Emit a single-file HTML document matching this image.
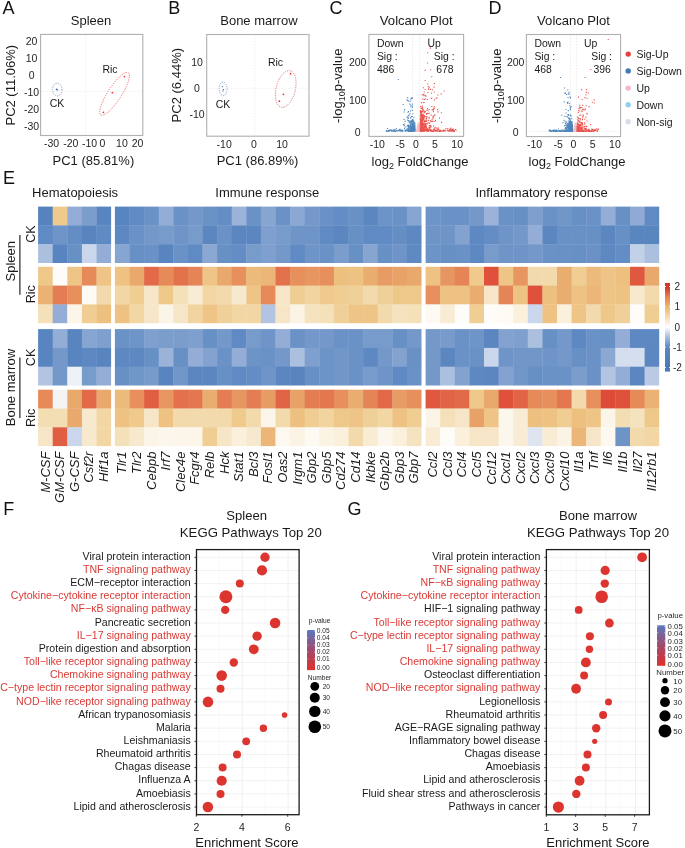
<!DOCTYPE html>
<html><head><meta charset="utf-8"><style>
html,body{margin:0;padding:0;background:#fff;width:685px;height:848px;overflow:hidden;}
svg{display:block;will-change:transform;}
text{font-family:"Liberation Sans", sans-serif;}
</style></head><body>
<svg width="685" height="848" viewBox="0 0 685 848">
<rect width="685" height="848" fill="#fff"/>
<text x="2.40" y="14.30" font-size="18" text-anchor="start" fill="#111" >A</text>
<text x="168.30" y="14.30" font-size="18" text-anchor="start" fill="#111" >B</text>
<text x="329.60" y="14.30" font-size="18" text-anchor="start" fill="#111" >C</text>
<text x="488.60" y="14.30" font-size="18" text-anchor="start" fill="#111" >D</text>
<text x="3.00" y="184.00" font-size="18" text-anchor="start" fill="#111" >E</text>
<text x="3.30" y="514.60" font-size="18" text-anchor="start" fill="#111" >F</text>
<text x="347.60" y="515.40" font-size="18" text-anchor="start" fill="#111" >G</text>
<text x="91.00" y="25.40" font-size="13" text-anchor="middle" fill="#1a1a1a" >Spleen</text>
<line x1="85.60" y1="35.00" x2="85.60" y2="135.00" stroke="#ebebeb" stroke-width="0.8" stroke-dasharray="1.5,1.5"/>
<line x1="41.00" y1="91.40" x2="142.50" y2="91.40" stroke="#ebebeb" stroke-width="0.8" stroke-dasharray="1.5,1.5"/>
<rect x="40.60" y="34.40" width="102.20" height="101.10" fill="none" stroke="#b0b0b0" stroke-width="1.1" />
<text x="31.60" y="45.30" font-size="10.5" text-anchor="middle" fill="#262626" >20</text>
<text x="31.60" y="62.10" font-size="10.5" text-anchor="middle" fill="#262626" >10</text>
<text x="31.60" y="79.20" font-size="10.5" text-anchor="middle" fill="#262626" >0</text>
<text x="31.60" y="96.00" font-size="10.5" text-anchor="middle" fill="#262626" >-10</text>
<text x="31.60" y="113.30" font-size="10.5" text-anchor="middle" fill="#262626" >-20</text>
<text x="31.60" y="130.30" font-size="10.5" text-anchor="middle" fill="#262626" >-30</text>
<text x="51.50" y="147.30" font-size="10.5" text-anchor="middle" fill="#262626" >-30</text>
<text x="70.80" y="147.30" font-size="10.5" text-anchor="middle" fill="#262626" >-20</text>
<text x="89.50" y="147.30" font-size="10.5" text-anchor="middle" fill="#262626" >-10</text>
<text x="102.40" y="147.30" font-size="10.5" text-anchor="middle" fill="#262626" >0</text>
<text x="121.90" y="147.30" font-size="10.5" text-anchor="middle" fill="#262626" >10</text>
<text x="137.60" y="147.30" font-size="10.5" text-anchor="middle" fill="#262626" >20</text>
<text x="93.40" y="165.10" font-size="13" text-anchor="middle" fill="#1a1a1a" >PC1 (85.81%)</text>
<text x="0" y="0" font-size="13" text-anchor="middle" fill="#1a1a1a" transform="translate(15.40,85.20) rotate(-90)" >PC2 (11.06%)</text>
<ellipse cx="57.2" cy="89.6" rx="4.8" ry="6.4" fill="none" stroke="#6d8fc8" stroke-width="0.8" stroke-dasharray="1.2,1.2"/>
<circle cx="56.60" cy="89.30" r="0.90" fill="#4a6fb0" />
<circle cx="57.60" cy="89.90" r="0.70" fill="#4a6fb0" />
<text x="57.00" y="107.40" font-size="10.5" text-anchor="middle" fill="#1a1a1a" >CK</text>
<ellipse cx="114.6" cy="93.8" rx="25.2" ry="6.8" fill="none" stroke="#ee5a5a" stroke-width="0.8" stroke-dasharray="1.2,1.2" transform="rotate(-57 114.6 93.8)"/>
<circle cx="124.50" cy="76.60" r="0.90" fill="#e33" />
<circle cx="112.40" cy="92.60" r="0.90" fill="#e33" />
<circle cx="103.40" cy="112.30" r="0.90" fill="#e33" />
<text x="110.00" y="72.60" font-size="10.5" text-anchor="middle" fill="#1a1a1a" >Ric</text>
<text x="258.90" y="25.40" font-size="13" text-anchor="middle" fill="#1a1a1a" >Bone marrow</text>
<line x1="254.90" y1="35.00" x2="254.90" y2="136.00" stroke="#ebebeb" stroke-width="0.8" stroke-dasharray="1.5,1.5"/>
<line x1="207.00" y1="88.30" x2="308.50" y2="88.30" stroke="#ebebeb" stroke-width="0.8" stroke-dasharray="1.5,1.5"/>
<rect x="206.70" y="34.50" width="102.30" height="101.70" fill="none" stroke="#b0b0b0" stroke-width="1.1" />
<text x="197.00" y="65.70" font-size="10.5" text-anchor="middle" fill="#262626" >10</text>
<text x="197.00" y="92.00" font-size="10.5" text-anchor="middle" fill="#262626" >0</text>
<text x="197.00" y="118.30" font-size="10.5" text-anchor="middle" fill="#262626" >-10</text>
<text x="224.20" y="148.10" font-size="10.5" text-anchor="middle" fill="#262626" >-10</text>
<text x="254.00" y="148.10" font-size="10.5" text-anchor="middle" fill="#262626" >0</text>
<text x="282.00" y="148.10" font-size="10.5" text-anchor="middle" fill="#262626" >10</text>
<text x="257.50" y="165.10" font-size="13" text-anchor="middle" fill="#1a1a1a" >PC1 (86.89%)</text>
<text x="0" y="0" font-size="13" text-anchor="middle" fill="#1a1a1a" transform="translate(181.00,85.20) rotate(-90)" >PC2 (6.44%)</text>
<ellipse cx="223.1" cy="88.8" rx="4.0" ry="6.7" fill="none" stroke="#6d8fc8" stroke-width="0.8" stroke-dasharray="1.2,1.2"/>
<circle cx="222.40" cy="86.60" r="0.70" fill="#4a6fb0" />
<circle cx="223.40" cy="89.80" r="0.70" fill="#4a6fb0" />
<circle cx="222.90" cy="91.00" r="0.60" fill="#4a6fb0" />
<text x="223.00" y="107.60" font-size="10.5" text-anchor="middle" fill="#1a1a1a" >CK</text>
<ellipse cx="285.7" cy="89.0" rx="9.6" ry="18.8" fill="none" stroke="#ee5a5a" stroke-width="0.8" stroke-dasharray="1.2,1.2" transform="rotate(14 285.7 89.0)"/>
<circle cx="290.60" cy="73.70" r="0.90" fill="#e33" />
<circle cx="283.40" cy="94.30" r="0.90" fill="#e33" />
<circle cx="279.40" cy="101.20" r="0.90" fill="#e33" />
<text x="275.50" y="66.30" font-size="10.5" text-anchor="middle" fill="#1a1a1a" >Ric</text>
<line x1="412.60" y1="34.90" x2="412.60" y2="135.90" stroke="#e2e2e2" stroke-width="0.7" stroke-dasharray="1.5,1.5"/>
<line x1="419.60" y1="34.90" x2="419.60" y2="135.90" stroke="#e2e2e2" stroke-width="0.7" stroke-dasharray="1.5,1.5"/>
<line x1="369.40" y1="131.40" x2="463.10" y2="131.40" stroke="#e8e8e8" stroke-width="0.7" stroke-dasharray="1.5,1.5"/>
<path d="M413.1 126.3h1.1v1.1h-1.1zM414.9 130.6h1.1v1.1h-1.1zM413.3 126.7h1.1v1.1h-1.1zM412.0 127.3h1.1v1.1h-1.1zM413.8 127.0h1.1v1.1h-1.1zM411.6 129.2h1.1v1.1h-1.1zM411.6 126.6h1.1v1.1h-1.1zM414.0 130.7h1.1v1.1h-1.1zM415.2 130.4h1.1v1.1h-1.1zM413.9 128.1h1.1v1.1h-1.1zM411.9 130.8h1.1v1.1h-1.1zM413.4 130.4h1.1v1.1h-1.1zM412.0 129.1h1.1v1.1h-1.1zM411.4 128.9h1.1v1.1h-1.1zM413.0 123.8h1.1v1.1h-1.1zM413.3 126.4h1.1v1.1h-1.1zM413.2 126.0h1.1v1.1h-1.1zM413.1 128.6h1.1v1.1h-1.1zM415.2 130.4h1.1v1.1h-1.1zM414.6 130.1h1.1v1.1h-1.1zM412.5 128.7h1.1v1.1h-1.1zM412.4 130.2h1.1v1.1h-1.1zM414.3 129.9h1.1v1.1h-1.1zM414.6 130.5h1.1v1.1h-1.1zM415.1 130.4h1.1v1.1h-1.1zM411.3 130.1h1.1v1.1h-1.1zM414.9 130.6h1.1v1.1h-1.1zM415.2 130.7h1.1v1.1h-1.1zM411.5 127.7h1.1v1.1h-1.1zM414.4 130.3h1.1v1.1h-1.1zM411.6 129.1h1.1v1.1h-1.1zM415.1 130.5h1.1v1.1h-1.1zM411.7 129.4h1.1v1.1h-1.1zM411.7 130.5h1.1v1.1h-1.1zM414.4 130.5h1.1v1.1h-1.1zM413.5 128.1h1.1v1.1h-1.1zM412.0 125.7h1.1v1.1h-1.1zM411.8 127.0h1.1v1.1h-1.1zM411.7 128.4h1.1v1.1h-1.1zM412.1 128.8h1.1v1.1h-1.1zM415.1 130.4h1.1v1.1h-1.1zM412.5 122.7h1.1v1.1h-1.1zM412.1 127.9h1.1v1.1h-1.1zM414.7 130.3h1.1v1.1h-1.1zM411.7 125.4h1.1v1.1h-1.1zM412.1 128.9h1.1v1.1h-1.1zM414.3 130.1h1.1v1.1h-1.1zM412.4 130.2h1.1v1.1h-1.1zM411.6 127.8h1.1v1.1h-1.1zM412.2 126.0h1.1v1.1h-1.1zM412.7 126.5h1.1v1.1h-1.1zM415.1 130.6h1.1v1.1h-1.1zM413.5 125.7h1.1v1.1h-1.1zM412.0 129.8h1.1v1.1h-1.1zM414.9 130.4h1.1v1.1h-1.1zM412.2 129.3h1.1v1.1h-1.1zM414.2 128.1h1.1v1.1h-1.1zM412.0 124.0h1.1v1.1h-1.1zM414.8 130.5h1.1v1.1h-1.1zM412.9 129.9h1.1v1.1h-1.1zM411.4 126.7h1.1v1.1h-1.1zM412.2 125.2h1.1v1.1h-1.1zM412.3 124.0h1.1v1.1h-1.1zM413.6 129.2h1.1v1.1h-1.1zM412.0 125.9h1.1v1.1h-1.1zM411.5 129.7h1.1v1.1h-1.1zM413.5 125.6h1.1v1.1h-1.1zM413.7 129.4h1.1v1.1h-1.1zM414.9 130.7h1.1v1.1h-1.1zM411.3 129.8h1.1v1.1h-1.1zM413.0 130.4h1.1v1.1h-1.1zM412.0 128.3h1.1v1.1h-1.1zM413.5 130.1h1.1v1.1h-1.1zM412.7 122.1h1.1v1.1h-1.1zM415.2 130.5h1.1v1.1h-1.1zM414.0 128.6h1.1v1.1h-1.1zM411.8 130.6h1.1v1.1h-1.1zM411.3 127.2h1.1v1.1h-1.1zM414.1 127.4h1.1v1.1h-1.1zM411.3 128.3h1.1v1.1h-1.1zM413.2 125.3h1.1v1.1h-1.1zM412.5 121.4h1.1v1.1h-1.1zM411.6 128.1h1.1v1.1h-1.1zM414.2 128.2h1.1v1.1h-1.1zM414.2 128.8h1.1v1.1h-1.1zM414.4 129.1h1.1v1.1h-1.1zM412.7 124.0h1.1v1.1h-1.1zM414.9 130.4h1.1v1.1h-1.1zM412.9 123.9h1.1v1.1h-1.1zM414.7 130.5h1.1v1.1h-1.1z" fill="#93d0f0" opacity="0.9"/>
<path d="M418.0 127.3h1.1v1.1h-1.1zM417.9 124.8h1.1v1.1h-1.1zM416.0 130.0h1.1v1.1h-1.1zM419.4 128.3h1.1v1.1h-1.1zM418.4 128.0h1.1v1.1h-1.1zM418.4 126.6h1.1v1.1h-1.1zM417.3 124.5h1.1v1.1h-1.1zM416.0 129.8h1.1v1.1h-1.1zM415.8 130.5h1.1v1.1h-1.1zM417.5 128.9h1.1v1.1h-1.1zM418.3 126.9h1.1v1.1h-1.1zM418.0 122.2h1.1v1.1h-1.1zM416.6 130.8h1.1v1.1h-1.1zM416.8 127.3h1.1v1.1h-1.1zM416.4 130.3h1.1v1.1h-1.1zM419.1 128.0h1.1v1.1h-1.1zM417.3 124.0h1.1v1.1h-1.1zM416.9 127.1h1.1v1.1h-1.1zM416.4 129.4h1.1v1.1h-1.1zM418.7 125.3h1.1v1.1h-1.1zM419.0 129.0h1.1v1.1h-1.1zM417.9 127.7h1.1v1.1h-1.1zM416.2 129.7h1.1v1.1h-1.1zM418.8 126.1h1.1v1.1h-1.1zM418.4 123.5h1.1v1.1h-1.1zM416.7 130.0h1.1v1.1h-1.1zM417.4 128.7h1.1v1.1h-1.1zM416.5 129.3h1.1v1.1h-1.1zM418.0 126.3h1.1v1.1h-1.1zM416.8 126.3h1.1v1.1h-1.1zM419.4 129.5h1.1v1.1h-1.1zM415.9 130.8h1.1v1.1h-1.1zM419.0 130.6h1.1v1.1h-1.1zM418.3 126.4h1.1v1.1h-1.1zM416.8 126.6h1.1v1.1h-1.1zM415.7 130.8h1.1v1.1h-1.1zM417.4 130.7h1.1v1.1h-1.1zM418.8 129.5h1.1v1.1h-1.1zM416.2 130.7h1.1v1.1h-1.1zM418.0 126.8h1.1v1.1h-1.1zM418.0 124.9h1.1v1.1h-1.1zM418.7 125.0h1.1v1.1h-1.1zM418.3 129.2h1.1v1.1h-1.1zM417.5 129.4h1.1v1.1h-1.1zM415.7 130.6h1.1v1.1h-1.1zM418.4 129.5h1.1v1.1h-1.1zM416.7 129.2h1.1v1.1h-1.1zM418.3 126.7h1.1v1.1h-1.1zM418.0 123.8h1.1v1.1h-1.1zM417.1 125.5h1.1v1.1h-1.1zM419.1 130.5h1.1v1.1h-1.1zM419.2 128.0h1.1v1.1h-1.1zM416.1 129.8h1.1v1.1h-1.1zM418.0 122.5h1.1v1.1h-1.1zM417.1 127.1h1.1v1.1h-1.1zM419.0 127.0h1.1v1.1h-1.1zM419.2 129.1h1.1v1.1h-1.1zM418.1 129.1h1.1v1.1h-1.1zM418.4 124.7h1.1v1.1h-1.1zM418.1 124.5h1.1v1.1h-1.1zM416.5 127.5h1.1v1.1h-1.1zM419.4 127.9h1.1v1.1h-1.1zM417.7 123.5h1.1v1.1h-1.1zM416.9 125.8h1.1v1.1h-1.1zM418.9 129.0h1.1v1.1h-1.1zM416.0 130.2h1.1v1.1h-1.1zM417.7 123.5h1.1v1.1h-1.1zM417.5 130.6h1.1v1.1h-1.1zM418.7 130.5h1.1v1.1h-1.1zM418.7 129.8h1.1v1.1h-1.1zM416.9 126.3h1.1v1.1h-1.1zM416.2 130.5h1.1v1.1h-1.1zM417.6 124.4h1.1v1.1h-1.1zM418.8 127.1h1.1v1.1h-1.1zM419.2 129.0h1.1v1.1h-1.1zM419.3 130.5h1.1v1.1h-1.1zM416.5 128.8h1.1v1.1h-1.1zM416.8 127.2h1.1v1.1h-1.1zM418.1 126.2h1.1v1.1h-1.1zM418.9 127.8h1.1v1.1h-1.1zM416.8 128.8h1.1v1.1h-1.1zM418.9 126.0h1.1v1.1h-1.1zM416.4 127.8h1.1v1.1h-1.1zM419.3 129.1h1.1v1.1h-1.1zM417.8 128.9h1.1v1.1h-1.1zM417.7 126.2h1.1v1.1h-1.1zM417.9 130.6h1.1v1.1h-1.1zM419.3 129.2h1.1v1.1h-1.1zM417.2 125.3h1.1v1.1h-1.1zM417.8 126.1h1.1v1.1h-1.1z" fill="#f2b8c6" opacity="0.9"/>
<path d="M413.7 129.8h1.1v1.1h-1.1zM411.4 97.8h1.1v1.1h-1.1zM412.9 130.5h1.1v1.1h-1.1zM411.8 123.0h1.1v1.1h-1.1zM408.0 130.4h1.1v1.1h-1.1zM407.7 120.1h1.1v1.1h-1.1zM410.5 129.9h1.1v1.1h-1.1zM407.9 130.2h1.1v1.1h-1.1zM413.5 129.6h1.1v1.1h-1.1zM412.7 130.1h1.1v1.1h-1.1zM414.4 126.6h1.1v1.1h-1.1zM413.9 126.6h1.1v1.1h-1.1zM412.5 129.2h1.1v1.1h-1.1zM401.9 129.5h1.1v1.1h-1.1zM406.8 119.4h1.1v1.1h-1.1zM414.2 123.6h1.1v1.1h-1.1zM412.0 123.7h1.1v1.1h-1.1zM410.3 99.3h1.1v1.1h-1.1zM411.3 125.9h1.1v1.1h-1.1zM409.5 129.3h1.1v1.1h-1.1zM411.1 130.3h1.1v1.1h-1.1zM412.9 130.6h1.1v1.1h-1.1zM414.0 127.2h1.1v1.1h-1.1zM403.5 118.8h1.1v1.1h-1.1zM394.3 129.3h1.1v1.1h-1.1zM414.5 129.1h1.1v1.1h-1.1zM413.9 126.3h1.1v1.1h-1.1zM412.2 130.5h1.1v1.1h-1.1zM412.8 123.5h1.1v1.1h-1.1zM410.7 120.2h1.1v1.1h-1.1zM411.7 109.8h1.1v1.1h-1.1zM411.2 121.9h1.1v1.1h-1.1zM404.9 130.7h1.1v1.1h-1.1zM391.3 130.8h1.1v1.1h-1.1zM409.5 129.0h1.1v1.1h-1.1zM413.9 128.6h1.1v1.1h-1.1zM414.4 129.4h1.1v1.1h-1.1zM390.7 129.7h1.1v1.1h-1.1zM405.6 129.9h1.1v1.1h-1.1zM409.4 100.9h1.1v1.1h-1.1zM410.1 127.4h1.1v1.1h-1.1zM411.7 122.4h1.1v1.1h-1.1zM408.5 121.3h1.1v1.1h-1.1zM413.1 121.7h1.1v1.1h-1.1zM413.6 130.2h1.1v1.1h-1.1zM411.5 127.3h1.1v1.1h-1.1zM410.2 129.7h1.1v1.1h-1.1zM411.5 123.8h1.1v1.1h-1.1zM400.6 129.9h1.1v1.1h-1.1zM411.6 105.2h1.1v1.1h-1.1zM394.2 130.6h1.1v1.1h-1.1zM395.0 130.8h1.1v1.1h-1.1zM413.7 130.1h1.1v1.1h-1.1zM413.5 129.6h1.1v1.1h-1.1zM411.2 128.0h1.1v1.1h-1.1zM386.8 127.9h1.1v1.1h-1.1zM392.5 129.5h1.1v1.1h-1.1zM410.1 127.0h1.1v1.1h-1.1zM412.8 129.8h1.1v1.1h-1.1zM411.7 129.5h1.1v1.1h-1.1zM414.4 126.9h1.1v1.1h-1.1zM399.7 130.5h1.1v1.1h-1.1zM413.5 125.2h1.1v1.1h-1.1zM408.9 130.7h1.1v1.1h-1.1zM411.9 130.8h1.1v1.1h-1.1zM413.6 130.7h1.1v1.1h-1.1zM409.1 130.8h1.1v1.1h-1.1zM411.1 97.3h1.1v1.1h-1.1zM411.7 128.5h1.1v1.1h-1.1zM386.6 130.8h1.1v1.1h-1.1zM408.1 129.1h1.1v1.1h-1.1zM407.6 100.6h1.1v1.1h-1.1zM412.8 130.1h1.1v1.1h-1.1zM412.1 126.2h1.1v1.1h-1.1zM413.3 125.3h1.1v1.1h-1.1zM409.5 130.3h1.1v1.1h-1.1zM405.2 130.6h1.1v1.1h-1.1zM407.1 97.1h1.1v1.1h-1.1zM410.1 129.3h1.1v1.1h-1.1zM407.3 124.8h1.1v1.1h-1.1zM412.4 128.8h1.1v1.1h-1.1zM398.5 129.7h1.1v1.1h-1.1zM412.3 124.5h1.1v1.1h-1.1zM404.6 120.8h1.1v1.1h-1.1zM411.2 130.3h1.1v1.1h-1.1zM413.0 129.8h1.1v1.1h-1.1zM413.6 129.6h1.1v1.1h-1.1zM398.6 130.1h1.1v1.1h-1.1zM412.4 130.5h1.1v1.1h-1.1zM414.4 123.2h1.1v1.1h-1.1zM410.3 125.9h1.1v1.1h-1.1zM393.9 130.6h1.1v1.1h-1.1zM411.3 129.4h1.1v1.1h-1.1zM386.0 130.0h1.1v1.1h-1.1zM409.5 128.9h1.1v1.1h-1.1zM409.7 127.1h1.1v1.1h-1.1zM413.6 129.7h1.1v1.1h-1.1zM411.2 129.0h1.1v1.1h-1.1zM408.5 130.8h1.1v1.1h-1.1zM413.3 130.0h1.1v1.1h-1.1zM413.4 129.9h1.1v1.1h-1.1zM409.7 128.5h1.1v1.1h-1.1zM406.7 130.1h1.1v1.1h-1.1zM413.5 125.8h1.1v1.1h-1.1zM404.3 123.5h1.1v1.1h-1.1zM413.7 127.6h1.1v1.1h-1.1zM408.5 125.3h1.1v1.1h-1.1zM413.5 122.3h1.1v1.1h-1.1zM412.5 127.8h1.1v1.1h-1.1zM413.2 126.0h1.1v1.1h-1.1zM405.3 126.5h1.1v1.1h-1.1zM411.5 130.7h1.1v1.1h-1.1zM408.0 126.1h1.1v1.1h-1.1zM400.7 130.7h1.1v1.1h-1.1zM407.8 120.2h1.1v1.1h-1.1zM393.3 129.4h1.1v1.1h-1.1zM410.0 127.6h1.1v1.1h-1.1zM408.1 124.4h1.1v1.1h-1.1zM414.4 125.1h1.1v1.1h-1.1zM413.5 124.2h1.1v1.1h-1.1zM394.1 130.1h1.1v1.1h-1.1zM410.0 104.4h1.1v1.1h-1.1zM401.6 130.6h1.1v1.1h-1.1zM406.6 116.6h1.1v1.1h-1.1zM390.9 129.9h1.1v1.1h-1.1zM408.8 114.5h1.1v1.1h-1.1zM409.1 103.4h1.1v1.1h-1.1zM409.3 122.6h1.1v1.1h-1.1zM413.0 130.2h1.1v1.1h-1.1zM404.7 129.5h1.1v1.1h-1.1zM412.7 128.1h1.1v1.1h-1.1zM406.4 130.1h1.1v1.1h-1.1zM393.7 130.4h1.1v1.1h-1.1zM411.3 129.2h1.1v1.1h-1.1zM388.9 130.4h1.1v1.1h-1.1zM414.2 130.3h1.1v1.1h-1.1zM399.8 130.1h1.1v1.1h-1.1zM413.5 127.9h1.1v1.1h-1.1zM414.4 127.4h1.1v1.1h-1.1zM392.2 130.1h1.1v1.1h-1.1zM413.1 123.8h1.1v1.1h-1.1zM387.2 130.4h1.1v1.1h-1.1zM410.5 128.5h1.1v1.1h-1.1zM410.2 122.6h1.1v1.1h-1.1zM409.1 130.0h1.1v1.1h-1.1zM410.7 121.6h1.1v1.1h-1.1zM406.5 130.2h1.1v1.1h-1.1zM412.1 118.9h1.1v1.1h-1.1zM413.0 127.9h1.1v1.1h-1.1zM411.9 127.3h1.1v1.1h-1.1zM385.8 130.7h1.1v1.1h-1.1zM410.6 130.8h1.1v1.1h-1.1zM413.3 121.3h1.1v1.1h-1.1zM409.7 130.1h1.1v1.1h-1.1zM409.5 126.4h1.1v1.1h-1.1zM411.9 106.6h1.1v1.1h-1.1zM410.9 115.9h1.1v1.1h-1.1zM413.3 130.0h1.1v1.1h-1.1zM412.1 120.0h1.1v1.1h-1.1zM411.9 130.4h1.1v1.1h-1.1zM412.1 127.8h1.1v1.1h-1.1zM395.8 130.5h1.1v1.1h-1.1zM414.0 129.1h1.1v1.1h-1.1zM406.4 128.4h1.1v1.1h-1.1zM413.1 129.7h1.1v1.1h-1.1zM414.0 128.0h1.1v1.1h-1.1zM404.0 127.8h1.1v1.1h-1.1zM412.6 127.5h1.1v1.1h-1.1zM410.3 127.3h1.1v1.1h-1.1zM411.7 128.8h1.1v1.1h-1.1zM409.6 130.0h1.1v1.1h-1.1zM414.2 127.3h1.1v1.1h-1.1zM406.9 125.3h1.1v1.1h-1.1zM413.9 129.3h1.1v1.1h-1.1zM410.6 127.5h1.1v1.1h-1.1zM411.4 129.3h1.1v1.1h-1.1zM413.3 129.8h1.1v1.1h-1.1zM413.6 129.1h1.1v1.1h-1.1zM408.1 126.9h1.1v1.1h-1.1zM409.9 130.4h1.1v1.1h-1.1zM411.6 122.8h1.1v1.1h-1.1zM414.1 130.5h1.1v1.1h-1.1zM411.7 120.1h1.1v1.1h-1.1zM410.3 120.4h1.1v1.1h-1.1zM413.1 127.7h1.1v1.1h-1.1zM413.0 130.0h1.1v1.1h-1.1zM409.8 125.2h1.1v1.1h-1.1zM410.6 130.0h1.1v1.1h-1.1zM407.1 128.7h1.1v1.1h-1.1zM412.3 130.2h1.1v1.1h-1.1zM395.8 128.0h1.1v1.1h-1.1zM410.0 110.4h1.1v1.1h-1.1zM411.0 130.2h1.1v1.1h-1.1zM396.4 130.5h1.1v1.1h-1.1zM411.8 129.2h1.1v1.1h-1.1zM412.6 130.3h1.1v1.1h-1.1zM413.1 119.7h1.1v1.1h-1.1zM409.4 130.5h1.1v1.1h-1.1zM405.3 130.0h1.1v1.1h-1.1zM412.7 130.5h1.1v1.1h-1.1zM410.2 130.2h1.1v1.1h-1.1zM407.7 126.4h1.1v1.1h-1.1zM410.8 128.4h1.1v1.1h-1.1zM412.0 97.4h1.1v1.1h-1.1zM408.3 130.1h1.1v1.1h-1.1zM409.9 124.8h1.1v1.1h-1.1zM411.4 129.4h1.1v1.1h-1.1zM411.1 126.9h1.1v1.1h-1.1zM411.8 127.7h1.1v1.1h-1.1zM407.6 130.8h1.1v1.1h-1.1zM414.1 130.6h1.1v1.1h-1.1zM410.3 106.2h1.1v1.1h-1.1zM405.4 129.8h1.1v1.1h-1.1zM408.7 130.7h1.1v1.1h-1.1zM407.4 100.1h1.1v1.1h-1.1zM409.5 125.7h1.1v1.1h-1.1zM389.1 129.6h1.1v1.1h-1.1zM413.9 127.9h1.1v1.1h-1.1zM413.0 129.5h1.1v1.1h-1.1zM399.7 128.7h1.1v1.1h-1.1zM411.5 119.5h1.1v1.1h-1.1zM412.1 127.8h1.1v1.1h-1.1zM405.8 129.4h1.1v1.1h-1.1zM410.0 130.4h1.1v1.1h-1.1zM412.7 129.1h1.1v1.1h-1.1zM407.5 125.3h1.1v1.1h-1.1zM390.5 129.3h1.1v1.1h-1.1zM411.8 130.7h1.1v1.1h-1.1zM407.7 117.9h1.1v1.1h-1.1zM411.3 121.3h1.1v1.1h-1.1zM412.7 130.7h1.1v1.1h-1.1zM411.9 123.0h1.1v1.1h-1.1zM409.9 124.1h1.1v1.1h-1.1zM414.0 130.3h1.1v1.1h-1.1zM412.3 128.8h1.1v1.1h-1.1zM388.0 129.7h1.1v1.1h-1.1zM414.0 128.3h1.1v1.1h-1.1zM403.8 125.1h1.1v1.1h-1.1zM408.8 128.4h1.1v1.1h-1.1zM413.1 124.8h1.1v1.1h-1.1zM411.2 130.8h1.1v1.1h-1.1zM411.5 129.5h1.1v1.1h-1.1zM408.1 129.2h1.1v1.1h-1.1zM412.4 129.7h1.1v1.1h-1.1zM387.9 130.5h1.1v1.1h-1.1zM414.1 128.6h1.1v1.1h-1.1zM409.8 129.6h1.1v1.1h-1.1zM393.2 130.2h1.1v1.1h-1.1zM411.1 123.8h1.1v1.1h-1.1zM410.3 130.1h1.1v1.1h-1.1zM409.1 128.7h1.1v1.1h-1.1zM413.3 129.8h1.1v1.1h-1.1zM401.8 130.7h1.1v1.1h-1.1zM412.4 128.9h1.1v1.1h-1.1zM414.1 129.2h1.1v1.1h-1.1zM414.5 127.8h1.1v1.1h-1.1zM412.6 130.1h1.1v1.1h-1.1zM412.4 130.7h1.1v1.1h-1.1zM394.6 129.1h1.1v1.1h-1.1zM411.4 129.3h1.1v1.1h-1.1zM398.2 129.9h1.1v1.1h-1.1zM408.5 120.2h1.1v1.1h-1.1zM413.0 126.5h1.1v1.1h-1.1zM407.6 117.3h1.1v1.1h-1.1zM410.4 120.2h1.1v1.1h-1.1zM409.4 128.3h1.1v1.1h-1.1zM412.7 124.5h1.1v1.1h-1.1zM410.5 129.8h1.1v1.1h-1.1zM412.7 125.7h1.1v1.1h-1.1zM390.2 129.9h1.1v1.1h-1.1zM414.2 130.2h1.1v1.1h-1.1zM404.7 130.1h1.1v1.1h-1.1zM412.3 113.2h1.1v1.1h-1.1zM401.4 129.9h1.1v1.1h-1.1zM413.4 125.8h1.1v1.1h-1.1zM411.9 129.9h1.1v1.1h-1.1zM402.0 130.7h1.1v1.1h-1.1zM410.3 129.8h1.1v1.1h-1.1zM412.8 127.6h1.1v1.1h-1.1zM407.7 130.1h1.1v1.1h-1.1zM413.4 129.0h1.1v1.1h-1.1zM410.2 120.8h1.1v1.1h-1.1zM394.2 130.3h1.1v1.1h-1.1zM394.8 130.8h1.1v1.1h-1.1zM414.2 122.5h1.1v1.1h-1.1zM412.4 128.8h1.1v1.1h-1.1zM413.8 130.4h1.1v1.1h-1.1zM411.9 115.9h1.1v1.1h-1.1zM409.4 128.0h1.1v1.1h-1.1zM388.1 130.6h1.1v1.1h-1.1zM409.9 121.2h1.1v1.1h-1.1zM414.1 129.7h1.1v1.1h-1.1zM411.9 127.4h1.1v1.1h-1.1zM407.8 115.0h1.1v1.1h-1.1zM405.9 129.7h1.1v1.1h-1.1zM407.8 120.2h1.1v1.1h-1.1zM413.4 128.8h1.1v1.1h-1.1zM411.8 130.7h1.1v1.1h-1.1zM408.3 130.2h1.1v1.1h-1.1zM409.7 130.6h1.1v1.1h-1.1zM412.3 122.4h1.1v1.1h-1.1zM413.5 127.3h1.1v1.1h-1.1zM412.5 130.6h1.1v1.1h-1.1zM408.9 125.2h1.1v1.1h-1.1zM409.3 130.5h1.1v1.1h-1.1zM411.6 121.1h1.1v1.1h-1.1zM389.0 129.5h1.1v1.1h-1.1zM413.2 127.3h1.1v1.1h-1.1zM412.5 128.5h1.1v1.1h-1.1zM412.0 130.5h1.1v1.1h-1.1zM414.5 129.7h1.1v1.1h-1.1zM413.9 130.3h1.1v1.1h-1.1zM411.0 128.5h1.1v1.1h-1.1zM413.9 127.9h1.1v1.1h-1.1zM397.4 130.4h1.1v1.1h-1.1zM412.8 129.9h1.1v1.1h-1.1zM411.4 128.9h1.1v1.1h-1.1zM412.8 129.3h1.1v1.1h-1.1zM412.7 125.3h1.1v1.1h-1.1zM392.5 130.6h1.1v1.1h-1.1zM410.6 98.0h1.1v1.1h-1.1zM410.0 128.6h1.1v1.1h-1.1zM406.4 99.3h1.1v1.1h-1.1zM413.6 129.6h1.1v1.1h-1.1zM413.7 130.0h1.1v1.1h-1.1zM412.8 126.7h1.1v1.1h-1.1zM412.8 127.4h1.1v1.1h-1.1zM411.7 130.5h1.1v1.1h-1.1zM412.5 128.6h1.1v1.1h-1.1zM411.7 125.5h1.1v1.1h-1.1zM396.3 130.1h1.1v1.1h-1.1zM412.2 128.4h1.1v1.1h-1.1zM413.7 130.1h1.1v1.1h-1.1zM400.1 130.0h1.1v1.1h-1.1zM414.0 127.2h1.1v1.1h-1.1zM412.9 124.4h1.1v1.1h-1.1zM411.3 130.5h1.1v1.1h-1.1zM399.1 129.9h1.1v1.1h-1.1zM387.7 130.6h1.1v1.1h-1.1zM409.2 121.9h1.1v1.1h-1.1zM412.3 129.2h1.1v1.1h-1.1zM410.3 124.8h1.1v1.1h-1.1zM411.2 129.7h1.1v1.1h-1.1zM408.3 129.1h1.1v1.1h-1.1zM407.8 129.8h1.1v1.1h-1.1zM410.1 130.2h1.1v1.1h-1.1zM411.5 129.8h1.1v1.1h-1.1zM409.9 130.6h1.1v1.1h-1.1zM398.8 129.1h1.1v1.1h-1.1zM409.4 113.2h1.1v1.1h-1.1zM412.5 128.6h1.1v1.1h-1.1zM396.5 129.8h1.1v1.1h-1.1zM402.9 124.1h1.1v1.1h-1.1zM400.8 129.7h1.1v1.1h-1.1zM413.4 124.4h1.1v1.1h-1.1zM410.1 130.8h1.1v1.1h-1.1zM411.7 128.8h1.1v1.1h-1.1zM414.4 129.2h1.1v1.1h-1.1zM412.9 130.7h1.1v1.1h-1.1zM393.8 130.3h1.1v1.1h-1.1zM413.2 128.8h1.1v1.1h-1.1zM413.8 123.7h1.1v1.1h-1.1zM414.3 130.2h1.1v1.1h-1.1zM407.8 130.1h1.1v1.1h-1.1zM414.2 123.2h1.1v1.1h-1.1zM409.3 127.0h1.1v1.1h-1.1zM398.9 130.0h1.1v1.1h-1.1zM409.5 126.6h1.1v1.1h-1.1zM411.2 130.6h1.1v1.1h-1.1zM387.8 130.7h1.1v1.1h-1.1zM408.0 110.9h1.1v1.1h-1.1zM405.8 129.7h1.1v1.1h-1.1zM412.1 130.7h1.1v1.1h-1.1zM412.7 130.1h1.1v1.1h-1.1zM385.8 130.6h1.1v1.1h-1.1zM414.2 130.0h1.1v1.1h-1.1zM403.3 130.2h1.1v1.1h-1.1zM410.8 127.0h1.1v1.1h-1.1zM412.3 125.8h1.1v1.1h-1.1zM407.4 111.7h1.1v1.1h-1.1zM401.3 130.7h1.1v1.1h-1.1zM412.8 123.6h1.1v1.1h-1.1zM409.9 128.8h1.1v1.1h-1.1zM414.4 125.7h1.1v1.1h-1.1zM414.1 128.6h1.1v1.1h-1.1zM412.7 127.1h1.1v1.1h-1.1zM414.2 129.5h1.1v1.1h-1.1zM413.0 129.5h1.1v1.1h-1.1zM413.3 117.2h1.1v1.1h-1.1zM413.4 127.8h1.1v1.1h-1.1zM411.8 129.4h1.1v1.1h-1.1zM411.5 125.3h1.1v1.1h-1.1zM409.1 130.4h1.1v1.1h-1.1zM404.0 109.1h1.1v1.1h-1.1zM412.0 125.3h1.1v1.1h-1.1zM412.6 130.4h1.1v1.1h-1.1zM411.9 129.1h1.1v1.1h-1.1zM411.6 120.8h1.1v1.1h-1.1zM412.5 121.0h1.1v1.1h-1.1zM408.8 129.6h1.1v1.1h-1.1zM413.1 121.8h1.1v1.1h-1.1zM409.9 117.3h1.1v1.1h-1.1zM403.7 111.4h1.1v1.1h-1.1zM409.8 129.4h1.1v1.1h-1.1zM407.7 129.1h1.1v1.1h-1.1zM412.2 128.4h1.1v1.1h-1.1zM392.5 129.9h1.1v1.1h-1.1zM411.1 129.3h1.1v1.1h-1.1zM407.7 127.9h1.1v1.1h-1.1zM410.7 130.3h1.1v1.1h-1.1zM401.3 130.6h1.1v1.1h-1.1zM412.7 128.5h1.1v1.1h-1.1zM412.2 126.1h1.1v1.1h-1.1zM414.3 128.7h1.1v1.1h-1.1zM407.5 116.5h1.1v1.1h-1.1zM410.3 117.2h1.1v1.1h-1.1zM411.2 130.5h1.1v1.1h-1.1zM411.7 103.5h1.1v1.1h-1.1zM411.3 130.0h1.1v1.1h-1.1zM406.9 128.3h1.1v1.1h-1.1zM397.8 78.9h1.1v1.1h-1.1zM407.1 97.0h1.1v1.1h-1.1zM402.6 104.0h1.1v1.1h-1.1z" fill="#3f7ab5" opacity="0.9"/>
<path d="M421.0 124.6h1.1v1.1h-1.1zM427.2 130.8h1.1v1.1h-1.1zM422.7 129.0h1.1v1.1h-1.1zM431.2 121.0h1.1v1.1h-1.1zM420.8 129.8h1.1v1.1h-1.1zM423.3 118.6h1.1v1.1h-1.1zM428.6 130.2h1.1v1.1h-1.1zM434.4 130.3h1.1v1.1h-1.1zM419.8 129.9h1.1v1.1h-1.1zM435.3 129.9h1.1v1.1h-1.1zM427.8 86.1h1.1v1.1h-1.1zM425.3 129.7h1.1v1.1h-1.1zM455.0 128.9h1.1v1.1h-1.1zM422.4 118.1h1.1v1.1h-1.1zM419.8 122.3h1.1v1.1h-1.1zM433.7 91.5h1.1v1.1h-1.1zM445.4 128.1h1.1v1.1h-1.1zM422.2 118.2h1.1v1.1h-1.1zM420.6 119.5h1.1v1.1h-1.1zM448.2 130.5h1.1v1.1h-1.1zM420.2 129.9h1.1v1.1h-1.1zM444.2 130.0h1.1v1.1h-1.1zM420.4 118.2h1.1v1.1h-1.1zM450.4 129.2h1.1v1.1h-1.1zM424.5 121.5h1.1v1.1h-1.1zM421.8 128.5h1.1v1.1h-1.1zM422.1 125.7h1.1v1.1h-1.1zM423.2 117.1h1.1v1.1h-1.1zM450.2 127.6h1.1v1.1h-1.1zM422.8 115.4h1.1v1.1h-1.1zM422.3 129.1h1.1v1.1h-1.1zM429.0 129.8h1.1v1.1h-1.1zM419.9 124.8h1.1v1.1h-1.1zM439.8 130.1h1.1v1.1h-1.1zM422.2 118.7h1.1v1.1h-1.1zM421.0 128.7h1.1v1.1h-1.1zM426.6 128.9h1.1v1.1h-1.1zM423.3 130.3h1.1v1.1h-1.1zM426.7 130.4h1.1v1.1h-1.1zM421.9 123.0h1.1v1.1h-1.1zM426.2 119.7h1.1v1.1h-1.1zM452.3 130.1h1.1v1.1h-1.1zM420.2 123.1h1.1v1.1h-1.1zM424.5 130.2h1.1v1.1h-1.1zM424.8 125.0h1.1v1.1h-1.1zM431.3 106.1h1.1v1.1h-1.1zM435.6 130.4h1.1v1.1h-1.1zM419.9 128.5h1.1v1.1h-1.1zM432.0 109.2h1.1v1.1h-1.1zM438.7 130.8h1.1v1.1h-1.1zM422.1 124.2h1.1v1.1h-1.1zM420.8 119.8h1.1v1.1h-1.1zM432.5 118.2h1.1v1.1h-1.1zM421.3 127.1h1.1v1.1h-1.1zM420.3 118.4h1.1v1.1h-1.1zM426.2 129.5h1.1v1.1h-1.1zM421.7 130.0h1.1v1.1h-1.1zM430.4 130.0h1.1v1.1h-1.1zM421.7 123.7h1.1v1.1h-1.1zM433.5 86.6h1.1v1.1h-1.1zM436.5 97.4h1.1v1.1h-1.1zM455.5 129.5h1.1v1.1h-1.1zM422.0 128.2h1.1v1.1h-1.1zM422.8 130.0h1.1v1.1h-1.1zM419.8 124.0h1.1v1.1h-1.1zM420.3 129.9h1.1v1.1h-1.1zM421.6 118.5h1.1v1.1h-1.1zM423.7 130.1h1.1v1.1h-1.1zM432.1 121.0h1.1v1.1h-1.1zM421.5 114.0h1.1v1.1h-1.1zM434.9 119.8h1.1v1.1h-1.1zM432.8 130.7h1.1v1.1h-1.1zM420.1 121.8h1.1v1.1h-1.1zM420.9 130.3h1.1v1.1h-1.1zM420.2 121.7h1.1v1.1h-1.1zM420.6 130.6h1.1v1.1h-1.1zM422.1 128.4h1.1v1.1h-1.1zM430.0 129.6h1.1v1.1h-1.1zM432.4 116.6h1.1v1.1h-1.1zM422.5 128.4h1.1v1.1h-1.1zM423.3 116.6h1.1v1.1h-1.1zM422.4 113.8h1.1v1.1h-1.1zM420.7 129.0h1.1v1.1h-1.1zM423.4 128.3h1.1v1.1h-1.1zM419.8 121.9h1.1v1.1h-1.1zM447.3 127.9h1.1v1.1h-1.1zM420.5 128.6h1.1v1.1h-1.1zM423.8 114.9h1.1v1.1h-1.1zM423.1 129.7h1.1v1.1h-1.1zM429.8 125.7h1.1v1.1h-1.1zM450.3 130.1h1.1v1.1h-1.1zM423.8 130.2h1.1v1.1h-1.1zM422.1 125.5h1.1v1.1h-1.1zM422.0 125.8h1.1v1.1h-1.1zM420.1 127.5h1.1v1.1h-1.1zM433.4 130.2h1.1v1.1h-1.1zM420.7 124.2h1.1v1.1h-1.1zM423.1 130.1h1.1v1.1h-1.1zM431.1 129.6h1.1v1.1h-1.1zM421.6 118.6h1.1v1.1h-1.1zM453.4 129.8h1.1v1.1h-1.1zM422.1 126.1h1.1v1.1h-1.1zM425.3 129.3h1.1v1.1h-1.1zM432.1 130.8h1.1v1.1h-1.1zM420.4 130.7h1.1v1.1h-1.1zM426.4 109.6h1.1v1.1h-1.1zM421.8 127.1h1.1v1.1h-1.1zM423.2 110.2h1.1v1.1h-1.1zM420.1 122.5h1.1v1.1h-1.1zM433.5 128.3h1.1v1.1h-1.1zM422.2 114.8h1.1v1.1h-1.1zM451.6 130.4h1.1v1.1h-1.1zM419.7 129.0h1.1v1.1h-1.1zM419.7 130.0h1.1v1.1h-1.1zM428.6 129.4h1.1v1.1h-1.1zM440.8 112.2h1.1v1.1h-1.1zM421.5 130.7h1.1v1.1h-1.1zM422.0 125.8h1.1v1.1h-1.1zM420.1 130.4h1.1v1.1h-1.1zM420.6 122.6h1.1v1.1h-1.1zM420.8 129.3h1.1v1.1h-1.1zM421.8 105.5h1.1v1.1h-1.1zM451.3 130.5h1.1v1.1h-1.1zM446.8 129.6h1.1v1.1h-1.1zM421.6 122.0h1.1v1.1h-1.1zM421.8 126.4h1.1v1.1h-1.1zM451.6 129.0h1.1v1.1h-1.1zM419.8 129.9h1.1v1.1h-1.1zM421.7 130.3h1.1v1.1h-1.1zM422.4 130.4h1.1v1.1h-1.1zM420.8 119.7h1.1v1.1h-1.1zM421.2 112.0h1.1v1.1h-1.1zM421.7 120.0h1.1v1.1h-1.1zM427.0 108.0h1.1v1.1h-1.1zM423.2 130.7h1.1v1.1h-1.1zM423.7 128.9h1.1v1.1h-1.1zM420.7 121.3h1.1v1.1h-1.1zM429.1 129.7h1.1v1.1h-1.1zM430.0 88.8h1.1v1.1h-1.1zM431.0 130.6h1.1v1.1h-1.1zM423.6 123.4h1.1v1.1h-1.1zM424.0 126.3h1.1v1.1h-1.1zM425.8 129.4h1.1v1.1h-1.1zM423.5 125.2h1.1v1.1h-1.1zM431.5 118.7h1.1v1.1h-1.1zM420.6 117.9h1.1v1.1h-1.1zM420.9 130.7h1.1v1.1h-1.1zM430.6 114.6h1.1v1.1h-1.1zM421.3 114.2h1.1v1.1h-1.1zM420.8 119.8h1.1v1.1h-1.1zM422.7 130.8h1.1v1.1h-1.1zM423.7 130.6h1.1v1.1h-1.1zM419.7 125.0h1.1v1.1h-1.1zM424.1 130.6h1.1v1.1h-1.1zM448.7 129.9h1.1v1.1h-1.1zM422.6 114.2h1.1v1.1h-1.1zM433.2 130.7h1.1v1.1h-1.1zM451.1 129.4h1.1v1.1h-1.1zM420.2 126.8h1.1v1.1h-1.1zM432.9 111.1h1.1v1.1h-1.1zM427.0 129.2h1.1v1.1h-1.1zM452.5 129.3h1.1v1.1h-1.1zM419.8 127.8h1.1v1.1h-1.1zM425.5 115.9h1.1v1.1h-1.1zM420.9 126.7h1.1v1.1h-1.1zM420.9 130.5h1.1v1.1h-1.1zM428.7 116.8h1.1v1.1h-1.1zM420.1 128.6h1.1v1.1h-1.1zM425.8 117.3h1.1v1.1h-1.1zM447.7 130.5h1.1v1.1h-1.1zM422.5 123.9h1.1v1.1h-1.1zM426.5 130.7h1.1v1.1h-1.1zM422.3 130.5h1.1v1.1h-1.1zM420.3 129.7h1.1v1.1h-1.1zM433.8 129.3h1.1v1.1h-1.1zM420.2 127.8h1.1v1.1h-1.1zM452.2 129.8h1.1v1.1h-1.1zM443.6 90.5h1.1v1.1h-1.1zM428.4 118.2h1.1v1.1h-1.1zM435.2 130.2h1.1v1.1h-1.1zM451.9 129.3h1.1v1.1h-1.1zM425.7 127.5h1.1v1.1h-1.1zM423.3 116.5h1.1v1.1h-1.1zM423.7 91.5h1.1v1.1h-1.1zM432.3 130.8h1.1v1.1h-1.1zM442.7 130.8h1.1v1.1h-1.1zM419.7 122.6h1.1v1.1h-1.1zM441.0 121.8h1.1v1.1h-1.1zM420.8 112.1h1.1v1.1h-1.1zM420.0 119.3h1.1v1.1h-1.1zM421.2 125.3h1.1v1.1h-1.1zM422.0 125.8h1.1v1.1h-1.1zM420.7 130.6h1.1v1.1h-1.1zM429.2 126.4h1.1v1.1h-1.1zM423.8 130.1h1.1v1.1h-1.1zM423.7 130.3h1.1v1.1h-1.1zM420.7 127.7h1.1v1.1h-1.1zM438.8 129.8h1.1v1.1h-1.1zM423.2 129.6h1.1v1.1h-1.1zM420.2 122.4h1.1v1.1h-1.1zM422.0 130.2h1.1v1.1h-1.1zM425.9 113.1h1.1v1.1h-1.1zM422.4 116.2h1.1v1.1h-1.1zM427.5 112.8h1.1v1.1h-1.1zM420.4 116.5h1.1v1.1h-1.1zM430.6 130.8h1.1v1.1h-1.1zM427.3 130.7h1.1v1.1h-1.1zM420.8 127.7h1.1v1.1h-1.1zM424.0 111.5h1.1v1.1h-1.1zM434.2 114.2h1.1v1.1h-1.1zM452.6 128.5h1.1v1.1h-1.1zM422.0 118.4h1.1v1.1h-1.1zM422.9 101.9h1.1v1.1h-1.1zM427.1 130.2h1.1v1.1h-1.1zM426.7 116.5h1.1v1.1h-1.1zM420.1 128.0h1.1v1.1h-1.1zM420.2 125.7h1.1v1.1h-1.1zM433.1 129.0h1.1v1.1h-1.1zM452.7 130.0h1.1v1.1h-1.1zM419.8 126.5h1.1v1.1h-1.1zM420.0 105.9h1.1v1.1h-1.1zM421.6 130.1h1.1v1.1h-1.1zM422.4 123.0h1.1v1.1h-1.1zM435.7 127.7h1.1v1.1h-1.1zM425.1 129.1h1.1v1.1h-1.1zM423.3 93.7h1.1v1.1h-1.1zM419.7 124.6h1.1v1.1h-1.1zM420.1 130.2h1.1v1.1h-1.1zM421.3 127.1h1.1v1.1h-1.1zM437.8 128.7h1.1v1.1h-1.1zM422.0 129.8h1.1v1.1h-1.1zM419.8 129.8h1.1v1.1h-1.1zM423.0 115.7h1.1v1.1h-1.1zM420.2 116.7h1.1v1.1h-1.1zM428.5 128.9h1.1v1.1h-1.1zM430.1 129.5h1.1v1.1h-1.1zM424.3 111.0h1.1v1.1h-1.1zM426.2 123.4h1.1v1.1h-1.1zM431.6 109.3h1.1v1.1h-1.1zM419.9 122.9h1.1v1.1h-1.1zM421.5 129.9h1.1v1.1h-1.1zM420.3 127.0h1.1v1.1h-1.1zM431.4 129.8h1.1v1.1h-1.1zM427.8 129.8h1.1v1.1h-1.1zM421.5 130.7h1.1v1.1h-1.1zM436.9 130.3h1.1v1.1h-1.1zM430.8 130.7h1.1v1.1h-1.1zM453.9 130.6h1.1v1.1h-1.1zM422.2 128.4h1.1v1.1h-1.1zM425.6 128.1h1.1v1.1h-1.1zM425.9 118.2h1.1v1.1h-1.1zM452.6 130.8h1.1v1.1h-1.1zM430.9 130.3h1.1v1.1h-1.1zM426.1 128.6h1.1v1.1h-1.1zM420.6 110.5h1.1v1.1h-1.1zM437.7 127.3h1.1v1.1h-1.1zM444.7 130.3h1.1v1.1h-1.1zM434.2 121.0h1.1v1.1h-1.1zM423.6 129.9h1.1v1.1h-1.1zM425.0 120.8h1.1v1.1h-1.1zM420.6 110.6h1.1v1.1h-1.1zM435.7 97.6h1.1v1.1h-1.1zM420.2 126.3h1.1v1.1h-1.1zM427.2 112.7h1.1v1.1h-1.1zM442.8 130.1h1.1v1.1h-1.1zM424.9 94.9h1.1v1.1h-1.1zM420.5 118.2h1.1v1.1h-1.1zM430.2 119.9h1.1v1.1h-1.1zM430.7 97.8h1.1v1.1h-1.1zM427.4 130.7h1.1v1.1h-1.1zM420.1 128.6h1.1v1.1h-1.1zM443.6 130.0h1.1v1.1h-1.1zM432.1 130.5h1.1v1.1h-1.1zM421.4 120.8h1.1v1.1h-1.1zM433.7 107.9h1.1v1.1h-1.1zM425.7 125.6h1.1v1.1h-1.1zM440.6 93.3h1.1v1.1h-1.1zM423.8 128.4h1.1v1.1h-1.1zM419.8 129.4h1.1v1.1h-1.1zM428.9 127.8h1.1v1.1h-1.1zM423.6 130.4h1.1v1.1h-1.1zM422.7 128.9h1.1v1.1h-1.1zM420.5 122.6h1.1v1.1h-1.1zM431.1 97.7h1.1v1.1h-1.1zM421.1 126.4h1.1v1.1h-1.1zM453.3 129.9h1.1v1.1h-1.1zM443.0 130.0h1.1v1.1h-1.1zM437.3 128.5h1.1v1.1h-1.1zM421.6 94.2h1.1v1.1h-1.1zM422.2 129.8h1.1v1.1h-1.1zM424.3 128.5h1.1v1.1h-1.1zM424.1 130.5h1.1v1.1h-1.1zM423.4 129.2h1.1v1.1h-1.1zM429.9 129.1h1.1v1.1h-1.1zM421.8 123.1h1.1v1.1h-1.1zM423.8 116.5h1.1v1.1h-1.1zM420.2 126.8h1.1v1.1h-1.1zM422.1 118.0h1.1v1.1h-1.1zM428.1 130.1h1.1v1.1h-1.1zM439.1 130.6h1.1v1.1h-1.1zM421.0 130.6h1.1v1.1h-1.1zM420.1 130.5h1.1v1.1h-1.1zM421.7 123.0h1.1v1.1h-1.1zM424.1 124.7h1.1v1.1h-1.1zM435.0 129.5h1.1v1.1h-1.1zM426.0 128.3h1.1v1.1h-1.1zM425.4 118.5h1.1v1.1h-1.1zM419.8 124.4h1.1v1.1h-1.1zM424.1 127.4h1.1v1.1h-1.1zM422.2 119.7h1.1v1.1h-1.1zM420.7 122.8h1.1v1.1h-1.1zM421.4 129.1h1.1v1.1h-1.1zM449.0 129.5h1.1v1.1h-1.1zM427.2 128.2h1.1v1.1h-1.1zM433.1 116.3h1.1v1.1h-1.1zM424.8 129.8h1.1v1.1h-1.1zM452.8 129.9h1.1v1.1h-1.1zM422.6 126.4h1.1v1.1h-1.1zM424.8 98.3h1.1v1.1h-1.1zM421.3 130.4h1.1v1.1h-1.1zM420.1 130.0h1.1v1.1h-1.1zM422.9 129.9h1.1v1.1h-1.1zM421.2 130.6h1.1v1.1h-1.1zM429.9 125.0h1.1v1.1h-1.1zM424.2 120.6h1.1v1.1h-1.1zM440.6 130.7h1.1v1.1h-1.1zM423.6 128.9h1.1v1.1h-1.1zM433.9 127.4h1.1v1.1h-1.1zM421.6 129.0h1.1v1.1h-1.1zM452.8 129.8h1.1v1.1h-1.1zM422.3 125.3h1.1v1.1h-1.1zM421.7 129.1h1.1v1.1h-1.1zM424.6 129.0h1.1v1.1h-1.1zM424.0 127.6h1.1v1.1h-1.1zM430.1 127.2h1.1v1.1h-1.1zM453.0 130.2h1.1v1.1h-1.1zM419.7 126.5h1.1v1.1h-1.1zM421.0 115.1h1.1v1.1h-1.1zM424.7 124.3h1.1v1.1h-1.1zM420.2 130.3h1.1v1.1h-1.1zM420.4 125.6h1.1v1.1h-1.1zM423.5 112.5h1.1v1.1h-1.1zM420.2 125.9h1.1v1.1h-1.1zM420.7 113.5h1.1v1.1h-1.1zM423.3 129.7h1.1v1.1h-1.1zM421.6 111.1h1.1v1.1h-1.1zM420.7 114.5h1.1v1.1h-1.1zM420.9 125.5h1.1v1.1h-1.1zM425.3 128.8h1.1v1.1h-1.1zM435.9 130.1h1.1v1.1h-1.1zM422.3 98.4h1.1v1.1h-1.1zM421.3 121.1h1.1v1.1h-1.1zM420.1 112.1h1.1v1.1h-1.1zM426.3 127.6h1.1v1.1h-1.1zM421.0 128.8h1.1v1.1h-1.1zM425.4 124.9h1.1v1.1h-1.1zM420.9 128.5h1.1v1.1h-1.1zM423.4 129.5h1.1v1.1h-1.1zM422.8 115.6h1.1v1.1h-1.1zM420.5 121.0h1.1v1.1h-1.1zM423.7 99.0h1.1v1.1h-1.1zM423.5 128.7h1.1v1.1h-1.1zM420.1 124.4h1.1v1.1h-1.1zM421.5 116.1h1.1v1.1h-1.1zM421.6 129.0h1.1v1.1h-1.1zM426.5 130.3h1.1v1.1h-1.1zM421.0 130.7h1.1v1.1h-1.1zM420.1 123.6h1.1v1.1h-1.1zM420.7 123.8h1.1v1.1h-1.1zM425.2 129.7h1.1v1.1h-1.1zM420.3 114.1h1.1v1.1h-1.1zM439.6 129.6h1.1v1.1h-1.1zM419.7 118.5h1.1v1.1h-1.1zM432.8 130.8h1.1v1.1h-1.1zM424.5 125.5h1.1v1.1h-1.1zM419.8 128.2h1.1v1.1h-1.1zM424.8 124.1h1.1v1.1h-1.1zM422.7 115.5h1.1v1.1h-1.1zM439.6 130.8h1.1v1.1h-1.1zM422.3 109.4h1.1v1.1h-1.1zM428.0 88.6h1.1v1.1h-1.1zM425.4 126.8h1.1v1.1h-1.1zM433.1 108.6h1.1v1.1h-1.1zM422.6 94.5h1.1v1.1h-1.1zM420.4 129.0h1.1v1.1h-1.1zM419.7 118.8h1.1v1.1h-1.1zM421.8 106.8h1.1v1.1h-1.1zM421.8 129.7h1.1v1.1h-1.1zM421.8 129.2h1.1v1.1h-1.1zM450.1 130.5h1.1v1.1h-1.1zM421.1 121.3h1.1v1.1h-1.1zM436.9 130.6h1.1v1.1h-1.1zM420.3 115.0h1.1v1.1h-1.1zM423.3 122.6h1.1v1.1h-1.1zM422.6 127.2h1.1v1.1h-1.1zM420.9 124.3h1.1v1.1h-1.1zM422.2 110.9h1.1v1.1h-1.1zM423.8 126.7h1.1v1.1h-1.1zM419.8 128.3h1.1v1.1h-1.1zM425.6 126.3h1.1v1.1h-1.1zM419.9 110.2h1.1v1.1h-1.1zM421.8 119.4h1.1v1.1h-1.1zM433.9 106.2h1.1v1.1h-1.1zM422.8 130.6h1.1v1.1h-1.1zM423.5 102.0h1.1v1.1h-1.1zM419.8 126.4h1.1v1.1h-1.1zM420.1 128.2h1.1v1.1h-1.1zM419.8 121.8h1.1v1.1h-1.1zM426.9 98.9h1.1v1.1h-1.1zM436.7 129.4h1.1v1.1h-1.1zM420.0 129.6h1.1v1.1h-1.1zM427.4 130.5h1.1v1.1h-1.1zM419.8 120.3h1.1v1.1h-1.1zM419.9 122.1h1.1v1.1h-1.1zM428.7 124.9h1.1v1.1h-1.1zM443.1 129.6h1.1v1.1h-1.1zM423.3 130.1h1.1v1.1h-1.1zM423.2 129.0h1.1v1.1h-1.1zM420.1 110.1h1.1v1.1h-1.1zM442.2 130.4h1.1v1.1h-1.1zM420.5 127.0h1.1v1.1h-1.1zM422.9 125.1h1.1v1.1h-1.1zM424.5 126.9h1.1v1.1h-1.1zM420.3 129.1h1.1v1.1h-1.1zM434.4 114.9h1.1v1.1h-1.1zM421.1 125.0h1.1v1.1h-1.1zM420.9 126.1h1.1v1.1h-1.1zM421.7 130.1h1.1v1.1h-1.1zM422.2 122.4h1.1v1.1h-1.1zM427.6 129.6h1.1v1.1h-1.1zM419.9 130.3h1.1v1.1h-1.1zM420.7 107.9h1.1v1.1h-1.1zM427.7 130.7h1.1v1.1h-1.1zM452.2 130.1h1.1v1.1h-1.1zM427.1 130.0h1.1v1.1h-1.1zM450.5 129.9h1.1v1.1h-1.1zM420.1 130.8h1.1v1.1h-1.1zM451.4 128.7h1.1v1.1h-1.1zM423.3 117.5h1.1v1.1h-1.1zM437.0 109.1h1.1v1.1h-1.1zM448.2 129.8h1.1v1.1h-1.1zM431.9 89.2h1.1v1.1h-1.1zM449.5 128.6h1.1v1.1h-1.1zM453.4 130.8h1.1v1.1h-1.1zM422.2 122.8h1.1v1.1h-1.1zM419.8 127.0h1.1v1.1h-1.1zM424.3 130.1h1.1v1.1h-1.1zM422.6 110.3h1.1v1.1h-1.1zM427.7 110.2h1.1v1.1h-1.1zM420.2 124.2h1.1v1.1h-1.1zM423.3 116.3h1.1v1.1h-1.1zM419.8 130.8h1.1v1.1h-1.1zM420.6 123.1h1.1v1.1h-1.1zM423.5 95.2h1.1v1.1h-1.1zM420.3 113.4h1.1v1.1h-1.1zM421.5 119.3h1.1v1.1h-1.1zM420.6 123.2h1.1v1.1h-1.1zM430.2 130.2h1.1v1.1h-1.1zM421.4 130.2h1.1v1.1h-1.1zM425.8 126.0h1.1v1.1h-1.1zM420.6 124.8h1.1v1.1h-1.1zM434.4 130.5h1.1v1.1h-1.1zM453.8 130.3h1.1v1.1h-1.1zM420.0 111.0h1.1v1.1h-1.1zM433.4 130.3h1.1v1.1h-1.1zM422.8 126.6h1.1v1.1h-1.1zM419.8 130.8h1.1v1.1h-1.1zM420.2 118.4h1.1v1.1h-1.1zM420.8 114.5h1.1v1.1h-1.1zM422.4 118.9h1.1v1.1h-1.1zM449.2 129.6h1.1v1.1h-1.1zM434.8 129.7h1.1v1.1h-1.1zM432.9 109.4h1.1v1.1h-1.1zM426.1 120.9h1.1v1.1h-1.1zM421.5 129.6h1.1v1.1h-1.1zM431.9 130.4h1.1v1.1h-1.1zM419.7 117.8h1.1v1.1h-1.1zM430.9 92.7h1.1v1.1h-1.1zM422.4 127.3h1.1v1.1h-1.1zM434.2 114.2h1.1v1.1h-1.1zM427.9 129.7h1.1v1.1h-1.1zM422.3 117.3h1.1v1.1h-1.1zM422.8 122.9h1.1v1.1h-1.1zM421.1 121.5h1.1v1.1h-1.1zM443.0 129.9h1.1v1.1h-1.1zM420.3 125.0h1.1v1.1h-1.1zM420.7 121.3h1.1v1.1h-1.1zM421.5 115.7h1.1v1.1h-1.1zM420.1 128.9h1.1v1.1h-1.1zM422.7 129.3h1.1v1.1h-1.1zM420.7 121.7h1.1v1.1h-1.1zM420.5 129.9h1.1v1.1h-1.1zM420.8 123.7h1.1v1.1h-1.1zM427.4 128.8h1.1v1.1h-1.1zM421.2 121.0h1.1v1.1h-1.1zM421.3 124.3h1.1v1.1h-1.1zM420.2 130.4h1.1v1.1h-1.1zM430.6 125.6h1.1v1.1h-1.1zM420.5 107.4h1.1v1.1h-1.1zM429.2 127.3h1.1v1.1h-1.1zM425.3 123.1h1.1v1.1h-1.1zM420.1 115.6h1.1v1.1h-1.1zM421.6 115.0h1.1v1.1h-1.1zM424.4 120.1h1.1v1.1h-1.1zM441.3 130.3h1.1v1.1h-1.1zM419.9 120.9h1.1v1.1h-1.1zM437.5 128.9h1.1v1.1h-1.1zM420.7 125.8h1.1v1.1h-1.1zM425.4 95.7h1.1v1.1h-1.1zM436.1 130.5h1.1v1.1h-1.1zM432.8 115.4h1.1v1.1h-1.1zM433.6 106.5h1.1v1.1h-1.1zM421.6 120.3h1.1v1.1h-1.1zM422.2 118.1h1.1v1.1h-1.1zM432.5 120.5h1.1v1.1h-1.1zM423.8 125.6h1.1v1.1h-1.1zM421.1 115.0h1.1v1.1h-1.1zM428.5 127.0h1.1v1.1h-1.1zM421.9 121.0h1.1v1.1h-1.1zM428.9 122.9h1.1v1.1h-1.1zM423.1 127.1h1.1v1.1h-1.1zM424.5 123.6h1.1v1.1h-1.1zM419.9 122.9h1.1v1.1h-1.1zM419.8 130.4h1.1v1.1h-1.1zM445.0 130.5h1.1v1.1h-1.1zM421.0 113.6h1.1v1.1h-1.1zM419.7 129.9h1.1v1.1h-1.1zM435.5 130.7h1.1v1.1h-1.1zM420.2 113.0h1.1v1.1h-1.1zM424.8 111.3h1.1v1.1h-1.1zM421.0 129.7h1.1v1.1h-1.1zM428.7 122.6h1.1v1.1h-1.1zM421.7 124.6h1.1v1.1h-1.1zM422.8 130.1h1.1v1.1h-1.1zM433.0 125.4h1.1v1.1h-1.1zM430.5 130.5h1.1v1.1h-1.1zM423.2 119.7h1.1v1.1h-1.1zM440.6 130.6h1.1v1.1h-1.1zM434.3 130.3h1.1v1.1h-1.1zM424.0 128.8h1.1v1.1h-1.1zM420.2 121.7h1.1v1.1h-1.1zM420.2 117.0h1.1v1.1h-1.1zM420.3 129.1h1.1v1.1h-1.1zM427.1 130.7h1.1v1.1h-1.1zM420.5 130.8h1.1v1.1h-1.1zM425.8 126.9h1.1v1.1h-1.1zM430.0 121.2h1.1v1.1h-1.1zM421.3 129.9h1.1v1.1h-1.1zM423.8 130.6h1.1v1.1h-1.1zM420.7 126.5h1.1v1.1h-1.1zM419.7 129.4h1.1v1.1h-1.1zM426.2 113.6h1.1v1.1h-1.1zM426.8 123.4h1.1v1.1h-1.1zM420.8 119.2h1.1v1.1h-1.1zM424.8 126.1h1.1v1.1h-1.1zM420.6 111.3h1.1v1.1h-1.1zM421.0 129.3h1.1v1.1h-1.1zM419.8 115.0h1.1v1.1h-1.1zM443.6 129.6h1.1v1.1h-1.1zM427.0 130.3h1.1v1.1h-1.1zM439.3 130.6h1.1v1.1h-1.1zM421.3 129.8h1.1v1.1h-1.1zM421.4 124.1h1.1v1.1h-1.1zM421.9 125.3h1.1v1.1h-1.1zM422.4 108.4h1.1v1.1h-1.1zM420.2 128.6h1.1v1.1h-1.1zM446.8 130.2h1.1v1.1h-1.1zM420.2 126.2h1.1v1.1h-1.1zM419.8 122.9h1.1v1.1h-1.1zM444.4 130.2h1.1v1.1h-1.1zM420.4 128.7h1.1v1.1h-1.1zM423.5 121.0h1.1v1.1h-1.1zM444.5 130.5h1.1v1.1h-1.1zM421.7 107.9h1.1v1.1h-1.1zM453.3 130.2h1.1v1.1h-1.1zM423.5 112.2h1.1v1.1h-1.1zM425.0 123.8h1.1v1.1h-1.1zM421.6 116.8h1.1v1.1h-1.1zM423.5 117.7h1.1v1.1h-1.1zM420.0 130.6h1.1v1.1h-1.1zM421.6 117.0h1.1v1.1h-1.1zM423.8 122.7h1.1v1.1h-1.1zM426.1 130.5h1.1v1.1h-1.1zM420.4 129.5h1.1v1.1h-1.1zM422.0 127.7h1.1v1.1h-1.1zM424.6 129.1h1.1v1.1h-1.1zM420.0 120.2h1.1v1.1h-1.1zM419.8 122.1h1.1v1.1h-1.1zM420.3 128.8h1.1v1.1h-1.1zM419.7 130.7h1.1v1.1h-1.1zM425.6 120.8h1.1v1.1h-1.1zM419.7 129.2h1.1v1.1h-1.1zM431.3 129.6h1.1v1.1h-1.1zM419.7 117.8h1.1v1.1h-1.1zM428.7 109.0h1.1v1.1h-1.1zM438.8 129.4h1.1v1.1h-1.1zM432.5 130.5h1.1v1.1h-1.1zM421.7 127.8h1.1v1.1h-1.1zM428.1 120.0h1.1v1.1h-1.1zM428.7 126.7h1.1v1.1h-1.1zM421.0 128.7h1.1v1.1h-1.1zM421.3 130.8h1.1v1.1h-1.1zM425.1 129.5h1.1v1.1h-1.1zM425.8 130.5h1.1v1.1h-1.1zM448.9 130.7h1.1v1.1h-1.1zM421.5 126.3h1.1v1.1h-1.1zM423.4 118.5h1.1v1.1h-1.1zM420.8 120.9h1.1v1.1h-1.1zM419.9 111.5h1.1v1.1h-1.1zM423.3 122.6h1.1v1.1h-1.1zM420.7 130.5h1.1v1.1h-1.1zM421.9 124.2h1.1v1.1h-1.1zM424.3 116.0h1.1v1.1h-1.1zM437.4 111.3h1.1v1.1h-1.1zM422.1 115.6h1.1v1.1h-1.1zM426.3 130.4h1.1v1.1h-1.1zM421.8 115.9h1.1v1.1h-1.1zM420.1 128.3h1.1v1.1h-1.1zM424.2 130.2h1.1v1.1h-1.1zM426.0 123.3h1.1v1.1h-1.1zM420.8 102.1h1.1v1.1h-1.1zM430.5 130.2h1.1v1.1h-1.1zM443.2 129.9h1.1v1.1h-1.1zM438.3 130.8h1.1v1.1h-1.1zM420.5 126.1h1.1v1.1h-1.1zM422.8 87.2h1.1v1.1h-1.1zM428.3 88.3h1.1v1.1h-1.1zM428.7 112.7h1.1v1.1h-1.1zM420.2 130.6h1.1v1.1h-1.1zM435.2 126.7h1.1v1.1h-1.1zM431.1 130.7h1.1v1.1h-1.1zM428.7 130.1h1.1v1.1h-1.1zM438.4 130.5h1.1v1.1h-1.1zM420.1 129.8h1.1v1.1h-1.1zM422.4 109.5h1.1v1.1h-1.1zM422.5 129.1h1.1v1.1h-1.1zM420.7 130.3h1.1v1.1h-1.1zM421.1 125.9h1.1v1.1h-1.1zM420.1 119.6h1.1v1.1h-1.1zM450.8 130.7h1.1v1.1h-1.1zM421.5 115.8h1.1v1.1h-1.1zM426.5 129.6h1.1v1.1h-1.1zM422.8 123.8h1.1v1.1h-1.1zM421.9 108.9h1.1v1.1h-1.1zM435.8 129.8h1.1v1.1h-1.1zM439.0 117.6h1.1v1.1h-1.1zM419.8 119.0h1.1v1.1h-1.1zM427.6 122.2h1.1v1.1h-1.1zM421.1 123.4h1.1v1.1h-1.1zM433.8 99.3h1.1v1.1h-1.1zM428.6 38.2h1.1v1.1h-1.1zM433.3 38.2h1.1v1.1h-1.1zM429.8 47.6h1.1v1.1h-1.1zM427.1 52.2h1.1v1.1h-1.1zM427.1 62.5h1.1v1.1h-1.1zM430.1 69.2h1.1v1.1h-1.1zM424.6 69.8h1.1v1.1h-1.1zM431.2 76.2h1.1v1.1h-1.1zM424.6 80.0h1.1v1.1h-1.1zM433.9 82.9h1.1v1.1h-1.1zM427.2 83.5h1.1v1.1h-1.1zM428.8 86.7h1.1v1.1h-1.1zM424.6 89.0h1.1v1.1h-1.1zM427.4 92.0h1.1v1.1h-1.1zM437.4 94.5h1.1v1.1h-1.1z" fill="#e8413c" opacity="0.9"/>
<rect x="368.90" y="34.40" width="94.70" height="102.00" fill="none" stroke="#b0b0b0" stroke-width="1.1" />
<text x="357.70" y="65.90" font-size="10.5" text-anchor="middle" fill="#262626" >200</text>
<text x="357.70" y="103.60" font-size="10.5" text-anchor="middle" fill="#262626" >100</text>
<text x="357.70" y="135.80" font-size="10.5" text-anchor="middle" fill="#262626" >0</text>
<text x="377.30" y="147.90" font-size="10.5" text-anchor="middle" fill="#262626" >-10</text>
<text x="400.10" y="147.90" font-size="10.5" text-anchor="middle" fill="#262626" >-5</text>
<text x="415.90" y="147.90" font-size="10.5" text-anchor="middle" fill="#262626" >0</text>
<text x="434.80" y="147.90" font-size="10.5" text-anchor="middle" fill="#262626" >5</text>
<text x="457.20" y="147.90" font-size="10.5" text-anchor="middle" fill="#262626" >10</text>
<text x="376.90" y="47.40" font-size="10.4" text-anchor="start" fill="#1a1a1a" >Down</text>
<text x="376.90" y="59.90" font-size="10.4" text-anchor="start" fill="#1a1a1a" >Sig :</text>
<text x="376.90" y="72.50" font-size="10.4" text-anchor="start" fill="#1a1a1a" >486</text>
<text x="427.40" y="47.20" font-size="10.4" text-anchor="start" fill="#1a1a1a" >Up</text>
<text x="454.60" y="59.90" font-size="10.4" text-anchor="end" fill="#1a1a1a" >Sig :</text>
<text x="453.50" y="72.50" font-size="10.4" text-anchor="end" fill="#1a1a1a" >678</text>
<text x="416.25" y="25.40" font-size="13.1" text-anchor="middle" fill="#1a1a1a" >Volcano Plot</text>
<text x="420.00" y="165.6" font-size="13" text-anchor="middle" fill="#1a1a1a">log<tspan font-size="9" dy="3">2</tspan><tspan dy="-3"> FoldChange</tspan></text>
<text x="0" y="0" font-size="13" text-anchor="middle" fill="#1a1a1a" transform="translate(341.60,85.8) rotate(-90)">-log<tspan font-size="9" dy="3">10</tspan><tspan dy="-3">p-value</tspan></text>
<line x1="570.50" y1="35.00" x2="570.50" y2="136.10" stroke="#e2e2e2" stroke-width="0.7" stroke-dasharray="1.5,1.5"/>
<line x1="576.40" y1="35.00" x2="576.40" y2="136.10" stroke="#e2e2e2" stroke-width="0.7" stroke-dasharray="1.5,1.5"/>
<line x1="526.90" y1="131.60" x2="620.10" y2="131.60" stroke="#e8e8e8" stroke-width="0.7" stroke-dasharray="1.5,1.5"/>
<path d="M572.8 130.6h1.1v1.1h-1.1zM572.7 131.0h1.1v1.1h-1.1zM571.5 128.9h1.1v1.1h-1.1zM571.3 130.3h1.1v1.1h-1.1zM569.9 128.2h1.1v1.1h-1.1zM570.0 127.9h1.1v1.1h-1.1zM569.2 130.7h1.1v1.1h-1.1zM572.0 129.7h1.1v1.1h-1.1zM571.2 126.4h1.1v1.1h-1.1zM570.6 130.5h1.1v1.1h-1.1zM572.3 129.9h1.1v1.1h-1.1zM571.8 128.6h1.1v1.1h-1.1zM573.0 130.9h1.1v1.1h-1.1zM572.2 130.2h1.1v1.1h-1.1zM571.4 127.5h1.1v1.1h-1.1zM570.4 130.3h1.1v1.1h-1.1zM571.0 126.0h1.1v1.1h-1.1zM571.5 128.8h1.1v1.1h-1.1zM571.7 130.3h1.1v1.1h-1.1zM569.9 129.0h1.1v1.1h-1.1zM572.4 130.8h1.1v1.1h-1.1zM569.6 130.5h1.1v1.1h-1.1zM569.3 130.0h1.1v1.1h-1.1zM571.4 126.7h1.1v1.1h-1.1zM570.5 127.8h1.1v1.1h-1.1zM570.3 128.6h1.1v1.1h-1.1zM572.3 130.0h1.1v1.1h-1.1zM570.2 130.2h1.1v1.1h-1.1zM572.3 129.7h1.1v1.1h-1.1zM572.5 130.8h1.1v1.1h-1.1zM571.3 125.7h1.1v1.1h-1.1zM571.5 126.3h1.1v1.1h-1.1zM569.8 125.2h1.1v1.1h-1.1zM569.4 129.3h1.1v1.1h-1.1zM569.2 128.1h1.1v1.1h-1.1zM571.9 127.7h1.1v1.1h-1.1zM572.4 129.6h1.1v1.1h-1.1zM571.3 125.2h1.1v1.1h-1.1zM572.1 130.2h1.1v1.1h-1.1zM573.0 130.9h1.1v1.1h-1.1zM569.9 130.6h1.1v1.1h-1.1zM571.0 129.7h1.1v1.1h-1.1zM572.9 130.6h1.1v1.1h-1.1zM570.0 130.3h1.1v1.1h-1.1zM571.3 130.0h1.1v1.1h-1.1zM571.3 126.3h1.1v1.1h-1.1zM570.2 127.9h1.1v1.1h-1.1zM572.8 130.8h1.1v1.1h-1.1zM570.5 123.1h1.1v1.1h-1.1zM572.4 129.8h1.1v1.1h-1.1zM571.9 129.6h1.1v1.1h-1.1zM571.9 128.2h1.1v1.1h-1.1zM571.7 130.0h1.1v1.1h-1.1zM570.3 127.7h1.1v1.1h-1.1zM572.2 129.9h1.1v1.1h-1.1zM571.3 126.3h1.1v1.1h-1.1zM569.6 127.9h1.1v1.1h-1.1zM570.5 126.2h1.1v1.1h-1.1zM572.5 130.8h1.1v1.1h-1.1zM573.0 131.0h1.1v1.1h-1.1zM571.4 128.1h1.1v1.1h-1.1zM570.1 127.1h1.1v1.1h-1.1zM571.0 127.9h1.1v1.1h-1.1zM572.0 131.0h1.1v1.1h-1.1zM570.7 124.3h1.1v1.1h-1.1zM569.7 126.2h1.1v1.1h-1.1zM570.0 126.6h1.1v1.1h-1.1zM569.8 128.3h1.1v1.1h-1.1zM570.8 130.4h1.1v1.1h-1.1zM571.9 129.5h1.1v1.1h-1.1zM571.9 129.2h1.1v1.1h-1.1zM571.4 128.1h1.1v1.1h-1.1zM570.3 123.7h1.1v1.1h-1.1zM569.5 126.9h1.1v1.1h-1.1zM572.6 130.8h1.1v1.1h-1.1zM572.3 129.7h1.1v1.1h-1.1zM571.6 129.6h1.1v1.1h-1.1zM570.4 128.1h1.1v1.1h-1.1zM570.4 123.2h1.1v1.1h-1.1zM570.5 127.6h1.1v1.1h-1.1zM570.8 124.6h1.1v1.1h-1.1zM571.1 127.2h1.1v1.1h-1.1zM570.2 129.0h1.1v1.1h-1.1zM569.5 130.0h1.1v1.1h-1.1zM570.2 124.6h1.1v1.1h-1.1zM571.2 130.3h1.1v1.1h-1.1zM571.0 130.2h1.1v1.1h-1.1zM571.4 128.6h1.1v1.1h-1.1zM572.6 130.9h1.1v1.1h-1.1zM572.6 130.9h1.1v1.1h-1.1z" fill="#93d0f0" opacity="0.9"/>
<path d="M576.2 129.3h1.1v1.1h-1.1zM572.6 130.5h1.1v1.1h-1.1zM573.5 129.5h1.1v1.1h-1.1zM573.0 129.1h1.1v1.1h-1.1zM572.8 130.0h1.1v1.1h-1.1zM574.0 126.9h1.1v1.1h-1.1zM573.6 130.7h1.1v1.1h-1.1zM575.9 128.6h1.1v1.1h-1.1zM573.1 128.5h1.1v1.1h-1.1zM575.9 130.4h1.1v1.1h-1.1zM572.5 130.7h1.1v1.1h-1.1zM573.0 129.5h1.1v1.1h-1.1zM574.2 125.9h1.1v1.1h-1.1zM574.6 124.2h1.1v1.1h-1.1zM575.6 127.9h1.1v1.1h-1.1zM574.7 128.2h1.1v1.1h-1.1zM573.0 130.9h1.1v1.1h-1.1zM575.7 130.1h1.1v1.1h-1.1zM574.1 128.9h1.1v1.1h-1.1zM574.8 126.6h1.1v1.1h-1.1zM575.7 129.0h1.1v1.1h-1.1zM573.8 127.4h1.1v1.1h-1.1zM575.3 125.1h1.1v1.1h-1.1zM573.6 126.8h1.1v1.1h-1.1zM576.2 128.4h1.1v1.1h-1.1zM572.9 130.3h1.1v1.1h-1.1zM575.4 126.1h1.1v1.1h-1.1zM572.6 130.8h1.1v1.1h-1.1zM575.2 125.9h1.1v1.1h-1.1zM574.5 129.3h1.1v1.1h-1.1zM574.0 130.7h1.1v1.1h-1.1zM573.6 129.0h1.1v1.1h-1.1zM575.6 128.0h1.1v1.1h-1.1zM574.0 129.5h1.1v1.1h-1.1zM573.6 127.8h1.1v1.1h-1.1zM574.1 129.9h1.1v1.1h-1.1zM575.6 128.0h1.1v1.1h-1.1zM576.1 129.5h1.1v1.1h-1.1zM574.8 127.5h1.1v1.1h-1.1zM574.8 123.2h1.1v1.1h-1.1zM576.2 129.2h1.1v1.1h-1.1zM574.1 130.6h1.1v1.1h-1.1zM575.6 129.1h1.1v1.1h-1.1zM573.9 130.7h1.1v1.1h-1.1zM572.6 130.8h1.1v1.1h-1.1zM576.2 128.9h1.1v1.1h-1.1zM575.1 126.4h1.1v1.1h-1.1zM573.5 130.3h1.1v1.1h-1.1zM574.7 130.5h1.1v1.1h-1.1zM574.7 126.5h1.1v1.1h-1.1zM574.5 130.0h1.1v1.1h-1.1zM572.7 130.6h1.1v1.1h-1.1zM573.0 129.6h1.1v1.1h-1.1zM573.6 128.1h1.1v1.1h-1.1zM575.3 127.2h1.1v1.1h-1.1zM574.5 129.4h1.1v1.1h-1.1zM573.8 125.8h1.1v1.1h-1.1zM573.5 129.9h1.1v1.1h-1.1zM574.3 126.9h1.1v1.1h-1.1zM575.5 129.4h1.1v1.1h-1.1zM576.1 131.0h1.1v1.1h-1.1zM575.5 127.8h1.1v1.1h-1.1zM575.9 130.4h1.1v1.1h-1.1zM575.1 124.1h1.1v1.1h-1.1zM575.0 130.2h1.1v1.1h-1.1zM575.9 127.5h1.1v1.1h-1.1zM572.9 129.6h1.1v1.1h-1.1zM572.8 130.9h1.1v1.1h-1.1zM575.5 127.0h1.1v1.1h-1.1zM576.1 129.1h1.1v1.1h-1.1zM574.4 128.9h1.1v1.1h-1.1zM574.6 122.2h1.1v1.1h-1.1zM574.9 124.1h1.1v1.1h-1.1zM573.2 128.8h1.1v1.1h-1.1zM575.2 130.6h1.1v1.1h-1.1zM575.6 130.1h1.1v1.1h-1.1zM573.3 130.8h1.1v1.1h-1.1zM575.0 130.0h1.1v1.1h-1.1zM576.2 131.0h1.1v1.1h-1.1zM575.5 126.9h1.1v1.1h-1.1zM574.6 126.0h1.1v1.1h-1.1zM575.5 127.5h1.1v1.1h-1.1zM573.0 129.3h1.1v1.1h-1.1zM573.8 127.8h1.1v1.1h-1.1zM574.4 123.8h1.1v1.1h-1.1zM574.0 125.6h1.1v1.1h-1.1zM572.8 130.6h1.1v1.1h-1.1zM575.0 126.4h1.1v1.1h-1.1zM575.6 130.0h1.1v1.1h-1.1zM575.5 126.7h1.1v1.1h-1.1z" fill="#f2b8c6" opacity="0.9"/>
<path d="M569.2 126.0h1.1v1.1h-1.1zM567.2 102.8h1.1v1.1h-1.1zM568.5 117.5h1.1v1.1h-1.1zM550.0 130.9h1.1v1.1h-1.1zM569.5 123.7h1.1v1.1h-1.1zM553.3 130.6h1.1v1.1h-1.1zM562.5 121.9h1.1v1.1h-1.1zM569.2 129.4h1.1v1.1h-1.1zM566.0 93.9h1.1v1.1h-1.1zM571.9 126.2h1.1v1.1h-1.1zM569.0 129.4h1.1v1.1h-1.1zM568.0 129.7h1.1v1.1h-1.1zM568.8 93.7h1.1v1.1h-1.1zM569.9 129.7h1.1v1.1h-1.1zM569.1 127.6h1.1v1.1h-1.1zM570.6 129.3h1.1v1.1h-1.1zM554.6 129.4h1.1v1.1h-1.1zM569.1 128.1h1.1v1.1h-1.1zM554.2 129.8h1.1v1.1h-1.1zM569.3 130.7h1.1v1.1h-1.1zM568.8 128.8h1.1v1.1h-1.1zM570.7 128.1h1.1v1.1h-1.1zM567.1 130.1h1.1v1.1h-1.1zM549.1 129.3h1.1v1.1h-1.1zM565.6 112.4h1.1v1.1h-1.1zM570.8 125.2h1.1v1.1h-1.1zM549.4 130.1h1.1v1.1h-1.1zM549.6 130.0h1.1v1.1h-1.1zM571.7 124.3h1.1v1.1h-1.1zM571.0 128.6h1.1v1.1h-1.1zM570.6 127.4h1.1v1.1h-1.1zM569.0 130.6h1.1v1.1h-1.1zM570.0 115.1h1.1v1.1h-1.1zM570.7 125.6h1.1v1.1h-1.1zM568.4 130.0h1.1v1.1h-1.1zM570.6 130.9h1.1v1.1h-1.1zM557.1 130.6h1.1v1.1h-1.1zM564.2 125.1h1.1v1.1h-1.1zM548.5 130.5h1.1v1.1h-1.1zM555.6 131.0h1.1v1.1h-1.1zM566.1 129.8h1.1v1.1h-1.1zM569.7 120.9h1.1v1.1h-1.1zM571.0 130.4h1.1v1.1h-1.1zM570.4 129.2h1.1v1.1h-1.1zM570.9 127.9h1.1v1.1h-1.1zM569.7 128.9h1.1v1.1h-1.1zM555.5 130.3h1.1v1.1h-1.1zM555.9 129.6h1.1v1.1h-1.1zM566.3 116.2h1.1v1.1h-1.1zM568.9 122.5h1.1v1.1h-1.1zM570.8 128.4h1.1v1.1h-1.1zM564.3 115.8h1.1v1.1h-1.1zM570.8 123.1h1.1v1.1h-1.1zM570.2 124.2h1.1v1.1h-1.1zM569.1 125.5h1.1v1.1h-1.1zM568.9 121.1h1.1v1.1h-1.1zM570.6 130.6h1.1v1.1h-1.1zM564.9 92.6h1.1v1.1h-1.1zM569.1 128.0h1.1v1.1h-1.1zM563.8 131.0h1.1v1.1h-1.1zM569.2 126.1h1.1v1.1h-1.1zM568.7 131.0h1.1v1.1h-1.1zM568.5 91.8h1.1v1.1h-1.1zM570.4 130.6h1.1v1.1h-1.1zM567.4 130.4h1.1v1.1h-1.1zM570.7 127.2h1.1v1.1h-1.1zM565.4 127.7h1.1v1.1h-1.1zM571.9 130.9h1.1v1.1h-1.1zM571.9 129.9h1.1v1.1h-1.1zM570.3 125.9h1.1v1.1h-1.1zM571.1 130.5h1.1v1.1h-1.1zM568.9 127.8h1.1v1.1h-1.1zM570.9 127.8h1.1v1.1h-1.1zM570.7 122.7h1.1v1.1h-1.1zM562.3 130.0h1.1v1.1h-1.1zM553.7 130.8h1.1v1.1h-1.1zM571.9 131.0h1.1v1.1h-1.1zM558.9 131.0h1.1v1.1h-1.1zM571.9 128.5h1.1v1.1h-1.1zM568.1 130.7h1.1v1.1h-1.1zM557.8 128.5h1.1v1.1h-1.1zM567.4 114.1h1.1v1.1h-1.1zM570.9 130.5h1.1v1.1h-1.1zM566.6 129.2h1.1v1.1h-1.1zM567.8 93.3h1.1v1.1h-1.1zM570.0 130.4h1.1v1.1h-1.1zM565.0 127.6h1.1v1.1h-1.1zM557.1 130.3h1.1v1.1h-1.1zM570.7 126.3h1.1v1.1h-1.1zM568.5 130.6h1.1v1.1h-1.1zM571.2 129.6h1.1v1.1h-1.1zM571.5 129.3h1.1v1.1h-1.1zM569.9 128.8h1.1v1.1h-1.1zM570.4 123.1h1.1v1.1h-1.1zM567.3 130.7h1.1v1.1h-1.1zM564.5 128.7h1.1v1.1h-1.1zM568.2 129.8h1.1v1.1h-1.1zM568.9 129.2h1.1v1.1h-1.1zM561.2 114.7h1.1v1.1h-1.1zM571.8 130.6h1.1v1.1h-1.1zM568.2 130.1h1.1v1.1h-1.1zM550.5 130.1h1.1v1.1h-1.1zM560.8 130.9h1.1v1.1h-1.1zM568.7 129.4h1.1v1.1h-1.1zM561.1 129.2h1.1v1.1h-1.1zM567.5 129.2h1.1v1.1h-1.1zM568.4 125.0h1.1v1.1h-1.1zM565.4 109.0h1.1v1.1h-1.1zM566.3 130.9h1.1v1.1h-1.1zM563.3 130.9h1.1v1.1h-1.1zM569.3 126.0h1.1v1.1h-1.1zM566.7 129.2h1.1v1.1h-1.1zM569.2 125.5h1.1v1.1h-1.1zM569.1 130.1h1.1v1.1h-1.1zM571.5 129.7h1.1v1.1h-1.1zM569.7 120.1h1.1v1.1h-1.1zM569.0 129.7h1.1v1.1h-1.1zM569.6 121.8h1.1v1.1h-1.1zM571.5 130.0h1.1v1.1h-1.1zM562.1 130.0h1.1v1.1h-1.1zM569.4 130.3h1.1v1.1h-1.1zM568.6 121.8h1.1v1.1h-1.1zM567.9 114.0h1.1v1.1h-1.1zM568.4 125.7h1.1v1.1h-1.1zM571.8 128.9h1.1v1.1h-1.1zM571.5 130.3h1.1v1.1h-1.1zM566.8 131.0h1.1v1.1h-1.1zM568.5 127.5h1.1v1.1h-1.1zM569.0 122.1h1.1v1.1h-1.1zM555.1 130.8h1.1v1.1h-1.1zM570.2 129.5h1.1v1.1h-1.1zM569.8 131.0h1.1v1.1h-1.1zM570.2 123.3h1.1v1.1h-1.1zM571.1 130.9h1.1v1.1h-1.1zM564.1 92.7h1.1v1.1h-1.1zM571.8 131.0h1.1v1.1h-1.1zM571.9 130.0h1.1v1.1h-1.1zM559.8 130.0h1.1v1.1h-1.1zM567.9 130.6h1.1v1.1h-1.1zM570.4 127.6h1.1v1.1h-1.1zM552.0 130.1h1.1v1.1h-1.1zM565.6 130.6h1.1v1.1h-1.1zM571.7 125.4h1.1v1.1h-1.1zM568.7 127.1h1.1v1.1h-1.1zM567.6 129.6h1.1v1.1h-1.1zM558.1 130.4h1.1v1.1h-1.1zM567.4 129.6h1.1v1.1h-1.1zM569.1 130.4h1.1v1.1h-1.1zM566.4 130.1h1.1v1.1h-1.1zM570.9 125.6h1.1v1.1h-1.1zM568.3 130.2h1.1v1.1h-1.1zM567.3 128.1h1.1v1.1h-1.1zM569.7 130.3h1.1v1.1h-1.1zM563.6 130.1h1.1v1.1h-1.1zM568.0 117.7h1.1v1.1h-1.1zM564.6 129.7h1.1v1.1h-1.1zM569.8 127.8h1.1v1.1h-1.1zM571.0 126.6h1.1v1.1h-1.1zM571.0 127.8h1.1v1.1h-1.1zM571.4 127.1h1.1v1.1h-1.1zM571.1 122.6h1.1v1.1h-1.1zM571.7 125.6h1.1v1.1h-1.1zM570.6 124.0h1.1v1.1h-1.1zM567.5 97.0h1.1v1.1h-1.1zM570.4 128.5h1.1v1.1h-1.1zM571.1 126.2h1.1v1.1h-1.1zM563.5 119.8h1.1v1.1h-1.1zM564.4 130.5h1.1v1.1h-1.1zM569.3 130.0h1.1v1.1h-1.1zM569.2 123.7h1.1v1.1h-1.1zM569.3 130.6h1.1v1.1h-1.1zM569.1 130.2h1.1v1.1h-1.1zM569.4 130.1h1.1v1.1h-1.1zM569.2 129.9h1.1v1.1h-1.1zM564.2 125.4h1.1v1.1h-1.1zM569.7 125.5h1.1v1.1h-1.1zM569.5 130.1h1.1v1.1h-1.1zM571.0 130.6h1.1v1.1h-1.1zM566.5 130.2h1.1v1.1h-1.1zM569.1 131.0h1.1v1.1h-1.1zM567.7 110.1h1.1v1.1h-1.1zM551.9 130.4h1.1v1.1h-1.1zM569.5 129.1h1.1v1.1h-1.1zM565.7 128.5h1.1v1.1h-1.1zM570.9 129.7h1.1v1.1h-1.1zM571.0 121.2h1.1v1.1h-1.1zM555.1 130.1h1.1v1.1h-1.1zM570.5 126.4h1.1v1.1h-1.1zM569.4 130.5h1.1v1.1h-1.1zM567.0 126.9h1.1v1.1h-1.1zM571.9 129.7h1.1v1.1h-1.1zM556.2 130.5h1.1v1.1h-1.1zM570.5 106.1h1.1v1.1h-1.1zM570.0 114.6h1.1v1.1h-1.1zM567.7 127.1h1.1v1.1h-1.1zM565.1 130.2h1.1v1.1h-1.1zM569.4 117.9h1.1v1.1h-1.1zM565.7 127.3h1.1v1.1h-1.1zM565.4 120.7h1.1v1.1h-1.1zM569.8 129.9h1.1v1.1h-1.1zM567.5 130.7h1.1v1.1h-1.1zM567.9 128.8h1.1v1.1h-1.1zM557.1 131.0h1.1v1.1h-1.1zM568.8 124.8h1.1v1.1h-1.1zM571.8 121.4h1.1v1.1h-1.1zM570.6 115.4h1.1v1.1h-1.1zM571.9 130.5h1.1v1.1h-1.1zM568.0 125.2h1.1v1.1h-1.1zM571.4 130.2h1.1v1.1h-1.1zM570.6 127.8h1.1v1.1h-1.1zM571.3 125.3h1.1v1.1h-1.1zM557.3 130.6h1.1v1.1h-1.1zM571.8 128.6h1.1v1.1h-1.1zM565.9 128.4h1.1v1.1h-1.1zM571.3 128.3h1.1v1.1h-1.1zM552.6 129.7h1.1v1.1h-1.1zM571.6 129.8h1.1v1.1h-1.1zM548.9 130.0h1.1v1.1h-1.1zM569.3 128.8h1.1v1.1h-1.1zM568.8 130.0h1.1v1.1h-1.1zM565.8 130.5h1.1v1.1h-1.1zM570.1 121.0h1.1v1.1h-1.1zM571.5 128.5h1.1v1.1h-1.1zM571.8 131.0h1.1v1.1h-1.1zM564.6 121.5h1.1v1.1h-1.1zM566.1 122.1h1.1v1.1h-1.1zM567.0 126.9h1.1v1.1h-1.1zM569.4 130.3h1.1v1.1h-1.1zM569.2 129.9h1.1v1.1h-1.1zM569.8 130.5h1.1v1.1h-1.1zM567.7 124.7h1.1v1.1h-1.1zM558.4 130.7h1.1v1.1h-1.1zM555.0 130.9h1.1v1.1h-1.1zM570.2 124.0h1.1v1.1h-1.1zM569.7 130.3h1.1v1.1h-1.1zM553.4 130.4h1.1v1.1h-1.1zM566.8 123.1h1.1v1.1h-1.1zM569.5 123.2h1.1v1.1h-1.1zM562.8 130.7h1.1v1.1h-1.1zM567.7 131.0h1.1v1.1h-1.1zM568.6 128.5h1.1v1.1h-1.1zM570.4 127.8h1.1v1.1h-1.1zM556.4 131.0h1.1v1.1h-1.1zM571.8 127.6h1.1v1.1h-1.1zM568.2 125.4h1.1v1.1h-1.1zM569.8 109.2h1.1v1.1h-1.1zM569.5 124.8h1.1v1.1h-1.1zM571.7 123.2h1.1v1.1h-1.1zM571.2 130.8h1.1v1.1h-1.1zM570.6 125.8h1.1v1.1h-1.1zM569.8 121.5h1.1v1.1h-1.1zM568.2 125.3h1.1v1.1h-1.1zM567.3 128.8h1.1v1.1h-1.1zM571.4 129.9h1.1v1.1h-1.1zM569.5 119.4h1.1v1.1h-1.1zM553.8 129.7h1.1v1.1h-1.1zM568.0 130.0h1.1v1.1h-1.1zM566.4 125.8h1.1v1.1h-1.1zM565.0 131.0h1.1v1.1h-1.1zM571.1 131.0h1.1v1.1h-1.1zM562.9 129.8h1.1v1.1h-1.1zM568.2 128.1h1.1v1.1h-1.1zM562.3 130.2h1.1v1.1h-1.1zM554.0 130.3h1.1v1.1h-1.1zM569.9 124.8h1.1v1.1h-1.1zM569.7 126.2h1.1v1.1h-1.1zM566.0 130.9h1.1v1.1h-1.1zM551.0 131.0h1.1v1.1h-1.1zM567.4 130.5h1.1v1.1h-1.1zM557.5 130.3h1.1v1.1h-1.1zM565.0 126.9h1.1v1.1h-1.1zM571.8 125.4h1.1v1.1h-1.1zM567.5 101.5h1.1v1.1h-1.1zM567.8 130.2h1.1v1.1h-1.1zM567.9 130.7h1.1v1.1h-1.1zM569.6 130.0h1.1v1.1h-1.1zM571.2 118.1h1.1v1.1h-1.1zM569.9 119.5h1.1v1.1h-1.1zM566.9 102.1h1.1v1.1h-1.1zM571.9 129.3h1.1v1.1h-1.1zM570.6 130.9h1.1v1.1h-1.1zM571.8 125.1h1.1v1.1h-1.1zM566.6 124.8h1.1v1.1h-1.1zM571.4 125.4h1.1v1.1h-1.1zM568.0 122.8h1.1v1.1h-1.1zM565.8 130.3h1.1v1.1h-1.1zM570.9 122.1h1.1v1.1h-1.1zM570.5 130.7h1.1v1.1h-1.1zM570.8 126.2h1.1v1.1h-1.1zM571.1 130.5h1.1v1.1h-1.1zM570.3 123.3h1.1v1.1h-1.1zM561.2 131.0h1.1v1.1h-1.1zM553.3 129.5h1.1v1.1h-1.1zM571.4 130.8h1.1v1.1h-1.1zM569.1 119.2h1.1v1.1h-1.1zM570.3 130.5h1.1v1.1h-1.1zM548.8 130.2h1.1v1.1h-1.1zM570.9 126.2h1.1v1.1h-1.1zM565.0 130.9h1.1v1.1h-1.1zM556.3 131.0h1.1v1.1h-1.1zM568.8 125.3h1.1v1.1h-1.1zM565.6 130.0h1.1v1.1h-1.1zM562.0 130.4h1.1v1.1h-1.1zM570.0 128.4h1.1v1.1h-1.1zM571.2 121.9h1.1v1.1h-1.1zM565.9 124.5h1.1v1.1h-1.1zM568.2 115.0h1.1v1.1h-1.1zM563.8 130.4h1.1v1.1h-1.1zM569.8 108.5h1.1v1.1h-1.1zM549.4 129.8h1.1v1.1h-1.1zM571.6 124.5h1.1v1.1h-1.1zM569.3 130.9h1.1v1.1h-1.1zM571.7 125.2h1.1v1.1h-1.1zM564.9 123.0h1.1v1.1h-1.1zM569.3 125.1h1.1v1.1h-1.1zM571.4 127.1h1.1v1.1h-1.1zM569.3 129.4h1.1v1.1h-1.1zM571.3 130.9h1.1v1.1h-1.1zM566.7 128.9h1.1v1.1h-1.1zM569.3 105.2h1.1v1.1h-1.1zM561.0 129.2h1.1v1.1h-1.1zM569.6 96.6h1.1v1.1h-1.1zM551.3 130.9h1.1v1.1h-1.1zM568.1 124.1h1.1v1.1h-1.1zM569.6 121.5h1.1v1.1h-1.1zM553.1 130.3h1.1v1.1h-1.1zM567.1 126.7h1.1v1.1h-1.1zM571.9 130.7h1.1v1.1h-1.1zM569.9 97.3h1.1v1.1h-1.1zM563.7 101.3h1.1v1.1h-1.1zM558.9 129.9h1.1v1.1h-1.1zM570.4 129.1h1.1v1.1h-1.1zM571.8 129.9h1.1v1.1h-1.1zM569.8 107.1h1.1v1.1h-1.1zM571.3 126.6h1.1v1.1h-1.1zM569.4 130.9h1.1v1.1h-1.1zM567.2 89.4h1.1v1.1h-1.1zM564.7 128.0h1.1v1.1h-1.1zM570.3 128.7h1.1v1.1h-1.1zM571.2 127.7h1.1v1.1h-1.1zM568.7 130.8h1.1v1.1h-1.1zM570.4 130.4h1.1v1.1h-1.1zM567.1 116.3h1.1v1.1h-1.1zM571.9 125.0h1.1v1.1h-1.1zM567.6 126.2h1.1v1.1h-1.1zM568.2 130.4h1.1v1.1h-1.1zM565.6 130.4h1.1v1.1h-1.1zM567.3 124.9h1.1v1.1h-1.1zM569.7 129.2h1.1v1.1h-1.1zM567.8 126.0h1.1v1.1h-1.1zM569.6 119.9h1.1v1.1h-1.1zM570.9 130.1h1.1v1.1h-1.1zM565.9 128.2h1.1v1.1h-1.1zM553.0 130.8h1.1v1.1h-1.1zM563.1 131.0h1.1v1.1h-1.1zM571.1 128.3h1.1v1.1h-1.1zM559.5 130.0h1.1v1.1h-1.1zM570.9 124.2h1.1v1.1h-1.1zM569.4 126.7h1.1v1.1h-1.1zM570.5 121.1h1.1v1.1h-1.1zM554.4 129.8h1.1v1.1h-1.1zM563.3 131.0h1.1v1.1h-1.1zM566.3 126.6h1.1v1.1h-1.1zM569.3 128.7h1.1v1.1h-1.1zM567.3 127.4h1.1v1.1h-1.1zM569.0 130.6h1.1v1.1h-1.1zM568.6 126.7h1.1v1.1h-1.1zM571.2 128.8h1.1v1.1h-1.1zM563.6 130.8h1.1v1.1h-1.1zM570.0 122.8h1.1v1.1h-1.1zM571.6 130.7h1.1v1.1h-1.1zM566.8 130.9h1.1v1.1h-1.1zM570.2 130.5h1.1v1.1h-1.1zM568.9 130.7h1.1v1.1h-1.1zM567.3 129.0h1.1v1.1h-1.1zM568.6 118.1h1.1v1.1h-1.1zM569.1 102.9h1.1v1.1h-1.1zM570.3 122.7h1.1v1.1h-1.1zM567.8 120.5h1.1v1.1h-1.1zM563.4 130.2h1.1v1.1h-1.1zM570.5 129.3h1.1v1.1h-1.1zM570.9 129.1h1.1v1.1h-1.1zM571.9 126.0h1.1v1.1h-1.1zM571.8 130.4h1.1v1.1h-1.1zM568.0 129.8h1.1v1.1h-1.1zM571.1 123.8h1.1v1.1h-1.1zM560.7 130.5h1.1v1.1h-1.1zM561.4 130.6h1.1v1.1h-1.1zM558.5 130.5h1.1v1.1h-1.1zM559.8 131.0h1.1v1.1h-1.1zM570.3 128.3h1.1v1.1h-1.1zM556.8 130.9h1.1v1.1h-1.1zM568.4 118.2h1.1v1.1h-1.1zM565.2 124.6h1.1v1.1h-1.1zM569.7 122.6h1.1v1.1h-1.1zM567.0 126.3h1.1v1.1h-1.1zM570.9 126.3h1.1v1.1h-1.1zM566.8 124.2h1.1v1.1h-1.1zM571.4 130.0h1.1v1.1h-1.1zM570.4 128.2h1.1v1.1h-1.1zM560.0 76.9h1.1v1.1h-1.1zM564.0 87.5h1.1v1.1h-1.1z" fill="#3f7ab5" opacity="0.9"/>
<path d="M577.1 125.3h1.1v1.1h-1.1zM579.2 125.6h1.1v1.1h-1.1zM576.9 125.4h1.1v1.1h-1.1zM585.4 116.7h1.1v1.1h-1.1zM577.5 130.7h1.1v1.1h-1.1zM578.3 125.8h1.1v1.1h-1.1zM586.4 130.5h1.1v1.1h-1.1zM593.0 131.0h1.1v1.1h-1.1zM578.1 128.8h1.1v1.1h-1.1zM595.4 128.7h1.1v1.1h-1.1zM581.3 130.8h1.1v1.1h-1.1zM580.6 130.8h1.1v1.1h-1.1zM581.7 130.2h1.1v1.1h-1.1zM578.9 126.9h1.1v1.1h-1.1zM576.8 128.2h1.1v1.1h-1.1zM579.8 130.9h1.1v1.1h-1.1zM582.2 124.7h1.1v1.1h-1.1zM576.6 128.4h1.1v1.1h-1.1zM579.9 130.7h1.1v1.1h-1.1zM579.6 124.5h1.1v1.1h-1.1zM588.8 129.9h1.1v1.1h-1.1zM594.4 129.5h1.1v1.1h-1.1zM589.0 130.7h1.1v1.1h-1.1zM584.1 122.3h1.1v1.1h-1.1zM578.8 125.3h1.1v1.1h-1.1zM582.1 127.9h1.1v1.1h-1.1zM578.4 130.6h1.1v1.1h-1.1zM576.6 130.2h1.1v1.1h-1.1zM590.6 130.3h1.1v1.1h-1.1zM580.2 107.0h1.1v1.1h-1.1zM590.7 130.9h1.1v1.1h-1.1zM582.7 126.4h1.1v1.1h-1.1zM579.2 129.8h1.1v1.1h-1.1zM581.7 130.1h1.1v1.1h-1.1zM596.8 130.8h1.1v1.1h-1.1zM583.1 108.7h1.1v1.1h-1.1zM577.1 130.5h1.1v1.1h-1.1zM576.6 129.0h1.1v1.1h-1.1zM579.7 118.5h1.1v1.1h-1.1zM577.9 130.9h1.1v1.1h-1.1zM588.1 130.2h1.1v1.1h-1.1zM577.0 127.3h1.1v1.1h-1.1zM590.1 124.1h1.1v1.1h-1.1zM582.0 118.4h1.1v1.1h-1.1zM577.8 130.9h1.1v1.1h-1.1zM576.5 126.2h1.1v1.1h-1.1zM587.7 128.8h1.1v1.1h-1.1zM578.1 127.0h1.1v1.1h-1.1zM580.7 126.5h1.1v1.1h-1.1zM582.4 131.0h1.1v1.1h-1.1zM593.7 99.3h1.1v1.1h-1.1zM577.1 130.8h1.1v1.1h-1.1zM585.6 131.0h1.1v1.1h-1.1zM578.7 127.0h1.1v1.1h-1.1zM578.8 130.5h1.1v1.1h-1.1zM578.8 125.4h1.1v1.1h-1.1zM580.1 130.6h1.1v1.1h-1.1zM578.2 108.2h1.1v1.1h-1.1zM579.0 127.5h1.1v1.1h-1.1zM583.8 125.9h1.1v1.1h-1.1zM576.6 130.6h1.1v1.1h-1.1zM577.2 130.4h1.1v1.1h-1.1zM586.4 120.4h1.1v1.1h-1.1zM578.6 129.3h1.1v1.1h-1.1zM578.4 128.9h1.1v1.1h-1.1zM577.6 129.4h1.1v1.1h-1.1zM578.5 125.7h1.1v1.1h-1.1zM576.9 127.3h1.1v1.1h-1.1zM579.3 128.4h1.1v1.1h-1.1zM581.0 130.1h1.1v1.1h-1.1zM577.2 128.1h1.1v1.1h-1.1zM588.9 130.3h1.1v1.1h-1.1zM576.9 127.0h1.1v1.1h-1.1zM580.2 123.5h1.1v1.1h-1.1zM579.9 124.0h1.1v1.1h-1.1zM585.5 131.0h1.1v1.1h-1.1zM579.8 125.4h1.1v1.1h-1.1zM577.3 127.1h1.1v1.1h-1.1zM578.0 126.2h1.1v1.1h-1.1zM587.7 130.9h1.1v1.1h-1.1zM578.6 130.7h1.1v1.1h-1.1zM581.6 99.0h1.1v1.1h-1.1zM586.3 129.7h1.1v1.1h-1.1zM577.5 129.4h1.1v1.1h-1.1zM578.4 126.5h1.1v1.1h-1.1zM577.3 130.9h1.1v1.1h-1.1zM576.5 130.0h1.1v1.1h-1.1zM578.0 126.1h1.1v1.1h-1.1zM576.6 128.8h1.1v1.1h-1.1zM577.7 130.7h1.1v1.1h-1.1zM582.1 109.1h1.1v1.1h-1.1zM591.9 129.3h1.1v1.1h-1.1zM592.2 130.7h1.1v1.1h-1.1zM582.1 130.8h1.1v1.1h-1.1zM579.1 106.6h1.1v1.1h-1.1zM596.4 129.9h1.1v1.1h-1.1zM581.6 129.7h1.1v1.1h-1.1zM576.5 129.8h1.1v1.1h-1.1zM577.5 128.1h1.1v1.1h-1.1zM579.2 129.1h1.1v1.1h-1.1zM578.9 128.1h1.1v1.1h-1.1zM588.6 129.1h1.1v1.1h-1.1zM577.7 130.8h1.1v1.1h-1.1zM577.8 130.1h1.1v1.1h-1.1zM597.8 129.2h1.1v1.1h-1.1zM579.5 124.9h1.1v1.1h-1.1zM577.8 129.5h1.1v1.1h-1.1zM580.2 129.4h1.1v1.1h-1.1zM578.2 129.0h1.1v1.1h-1.1zM577.2 130.8h1.1v1.1h-1.1zM587.6 130.0h1.1v1.1h-1.1zM578.0 128.3h1.1v1.1h-1.1zM594.2 129.9h1.1v1.1h-1.1zM587.8 130.7h1.1v1.1h-1.1zM580.5 127.7h1.1v1.1h-1.1zM577.3 119.3h1.1v1.1h-1.1zM577.9 128.7h1.1v1.1h-1.1zM576.8 129.0h1.1v1.1h-1.1zM593.2 130.4h1.1v1.1h-1.1zM577.4 122.7h1.1v1.1h-1.1zM578.7 125.8h1.1v1.1h-1.1zM579.1 110.4h1.1v1.1h-1.1zM578.5 130.4h1.1v1.1h-1.1zM577.0 127.6h1.1v1.1h-1.1zM596.5 130.3h1.1v1.1h-1.1zM579.5 129.7h1.1v1.1h-1.1zM576.8 129.2h1.1v1.1h-1.1zM577.0 129.2h1.1v1.1h-1.1zM582.1 130.5h1.1v1.1h-1.1zM577.0 130.1h1.1v1.1h-1.1zM578.5 121.0h1.1v1.1h-1.1zM576.9 130.4h1.1v1.1h-1.1zM582.0 116.3h1.1v1.1h-1.1zM578.8 127.2h1.1v1.1h-1.1zM576.9 129.2h1.1v1.1h-1.1zM577.6 129.5h1.1v1.1h-1.1zM579.0 126.9h1.1v1.1h-1.1zM577.7 111.9h1.1v1.1h-1.1zM581.4 123.7h1.1v1.1h-1.1zM577.9 110.2h1.1v1.1h-1.1zM593.0 130.9h1.1v1.1h-1.1zM578.6 130.3h1.1v1.1h-1.1zM577.6 127.3h1.1v1.1h-1.1zM582.1 124.0h1.1v1.1h-1.1zM577.3 123.6h1.1v1.1h-1.1zM577.3 131.0h1.1v1.1h-1.1zM577.5 129.1h1.1v1.1h-1.1zM576.6 130.2h1.1v1.1h-1.1zM580.4 121.7h1.1v1.1h-1.1zM576.7 126.6h1.1v1.1h-1.1zM582.3 130.7h1.1v1.1h-1.1zM584.4 125.7h1.1v1.1h-1.1zM578.8 123.7h1.1v1.1h-1.1zM581.7 126.8h1.1v1.1h-1.1zM577.4 129.7h1.1v1.1h-1.1zM592.6 129.1h1.1v1.1h-1.1zM577.2 129.2h1.1v1.1h-1.1zM579.2 126.6h1.1v1.1h-1.1zM581.7 110.7h1.1v1.1h-1.1zM576.6 130.1h1.1v1.1h-1.1zM591.1 130.8h1.1v1.1h-1.1zM577.1 130.4h1.1v1.1h-1.1zM589.9 130.8h1.1v1.1h-1.1zM586.4 126.1h1.1v1.1h-1.1zM576.5 125.8h1.1v1.1h-1.1zM583.0 115.4h1.1v1.1h-1.1zM577.3 122.9h1.1v1.1h-1.1zM591.4 128.5h1.1v1.1h-1.1zM580.4 130.3h1.1v1.1h-1.1zM576.9 128.5h1.1v1.1h-1.1zM579.2 127.9h1.1v1.1h-1.1zM577.5 130.7h1.1v1.1h-1.1zM585.6 128.4h1.1v1.1h-1.1zM580.1 130.7h1.1v1.1h-1.1zM577.1 129.0h1.1v1.1h-1.1zM577.1 130.8h1.1v1.1h-1.1zM581.4 129.5h1.1v1.1h-1.1zM581.7 127.8h1.1v1.1h-1.1zM585.2 130.7h1.1v1.1h-1.1zM585.5 127.7h1.1v1.1h-1.1zM577.6 127.6h1.1v1.1h-1.1zM579.2 104.7h1.1v1.1h-1.1zM591.4 129.3h1.1v1.1h-1.1zM576.7 129.9h1.1v1.1h-1.1zM577.3 121.4h1.1v1.1h-1.1zM577.5 131.0h1.1v1.1h-1.1zM578.0 129.4h1.1v1.1h-1.1zM577.1 119.4h1.1v1.1h-1.1zM577.3 126.0h1.1v1.1h-1.1zM577.5 129.2h1.1v1.1h-1.1zM577.4 128.4h1.1v1.1h-1.1zM583.1 130.8h1.1v1.1h-1.1zM581.0 110.4h1.1v1.1h-1.1zM579.2 130.0h1.1v1.1h-1.1zM577.3 128.7h1.1v1.1h-1.1zM586.5 97.7h1.1v1.1h-1.1zM585.6 105.2h1.1v1.1h-1.1zM578.5 125.5h1.1v1.1h-1.1zM577.7 117.8h1.1v1.1h-1.1zM588.2 130.0h1.1v1.1h-1.1zM594.1 130.4h1.1v1.1h-1.1zM579.2 127.7h1.1v1.1h-1.1zM585.9 125.8h1.1v1.1h-1.1zM576.9 129.2h1.1v1.1h-1.1zM577.4 123.9h1.1v1.1h-1.1zM584.8 128.9h1.1v1.1h-1.1zM576.8 130.6h1.1v1.1h-1.1zM582.2 104.8h1.1v1.1h-1.1zM579.8 130.3h1.1v1.1h-1.1zM579.7 119.4h1.1v1.1h-1.1zM577.2 116.6h1.1v1.1h-1.1zM593.7 102.5h1.1v1.1h-1.1zM577.7 128.6h1.1v1.1h-1.1zM577.1 127.3h1.1v1.1h-1.1zM584.6 129.5h1.1v1.1h-1.1zM583.4 130.3h1.1v1.1h-1.1zM581.0 122.5h1.1v1.1h-1.1zM576.6 125.2h1.1v1.1h-1.1zM577.2 129.1h1.1v1.1h-1.1zM577.2 123.5h1.1v1.1h-1.1zM576.5 130.5h1.1v1.1h-1.1zM577.6 125.1h1.1v1.1h-1.1zM584.5 127.9h1.1v1.1h-1.1zM579.5 130.2h1.1v1.1h-1.1zM576.5 130.3h1.1v1.1h-1.1zM580.0 130.2h1.1v1.1h-1.1zM576.7 126.7h1.1v1.1h-1.1zM576.9 126.1h1.1v1.1h-1.1zM585.8 129.1h1.1v1.1h-1.1zM581.9 122.8h1.1v1.1h-1.1zM577.5 129.3h1.1v1.1h-1.1zM580.7 128.3h1.1v1.1h-1.1zM576.8 130.6h1.1v1.1h-1.1zM578.5 128.1h1.1v1.1h-1.1zM579.3 118.0h1.1v1.1h-1.1zM576.5 128.9h1.1v1.1h-1.1zM577.4 130.1h1.1v1.1h-1.1zM576.5 126.4h1.1v1.1h-1.1zM578.1 129.4h1.1v1.1h-1.1zM578.2 130.5h1.1v1.1h-1.1zM577.3 130.3h1.1v1.1h-1.1zM579.5 129.6h1.1v1.1h-1.1zM578.0 129.6h1.1v1.1h-1.1zM582.5 114.5h1.1v1.1h-1.1zM580.5 129.6h1.1v1.1h-1.1zM586.2 130.6h1.1v1.1h-1.1zM576.7 130.2h1.1v1.1h-1.1zM582.5 130.2h1.1v1.1h-1.1zM578.8 131.0h1.1v1.1h-1.1zM580.9 106.9h1.1v1.1h-1.1zM577.4 126.9h1.1v1.1h-1.1zM578.9 130.5h1.1v1.1h-1.1zM581.4 107.2h1.1v1.1h-1.1zM597.2 129.2h1.1v1.1h-1.1zM581.0 129.7h1.1v1.1h-1.1zM590.5 129.9h1.1v1.1h-1.1zM595.9 128.4h1.1v1.1h-1.1zM578.8 130.9h1.1v1.1h-1.1zM578.6 129.4h1.1v1.1h-1.1zM576.6 126.2h1.1v1.1h-1.1zM576.5 129.8h1.1v1.1h-1.1zM588.2 129.3h1.1v1.1h-1.1zM579.6 130.1h1.1v1.1h-1.1zM578.0 129.6h1.1v1.1h-1.1zM578.7 130.7h1.1v1.1h-1.1zM577.9 129.6h1.1v1.1h-1.1zM584.3 123.7h1.1v1.1h-1.1zM584.9 131.0h1.1v1.1h-1.1zM578.1 123.8h1.1v1.1h-1.1zM583.1 130.4h1.1v1.1h-1.1zM584.9 108.6h1.1v1.1h-1.1zM588.2 130.3h1.1v1.1h-1.1zM579.1 114.7h1.1v1.1h-1.1zM580.9 128.6h1.1v1.1h-1.1zM582.3 130.7h1.1v1.1h-1.1zM580.6 125.0h1.1v1.1h-1.1zM580.4 114.4h1.1v1.1h-1.1zM590.2 130.6h1.1v1.1h-1.1zM579.3 130.5h1.1v1.1h-1.1zM591.8 101.7h1.1v1.1h-1.1zM591.2 129.9h1.1v1.1h-1.1zM584.5 129.8h1.1v1.1h-1.1zM576.7 126.2h1.1v1.1h-1.1zM576.6 122.7h1.1v1.1h-1.1zM579.5 127.7h1.1v1.1h-1.1zM579.2 128.1h1.1v1.1h-1.1zM578.2 128.2h1.1v1.1h-1.1zM584.1 130.5h1.1v1.1h-1.1zM579.3 128.4h1.1v1.1h-1.1zM578.4 129.8h1.1v1.1h-1.1zM596.4 130.3h1.1v1.1h-1.1zM580.4 127.2h1.1v1.1h-1.1zM583.8 109.5h1.1v1.1h-1.1zM594.4 129.7h1.1v1.1h-1.1zM589.4 130.9h1.1v1.1h-1.1zM586.9 130.2h1.1v1.1h-1.1zM593.2 130.2h1.1v1.1h-1.1zM578.1 129.4h1.1v1.1h-1.1zM579.4 129.1h1.1v1.1h-1.1zM582.8 129.3h1.1v1.1h-1.1zM581.5 122.1h1.1v1.1h-1.1zM582.0 119.1h1.1v1.1h-1.1zM579.3 121.9h1.1v1.1h-1.1zM577.8 129.7h1.1v1.1h-1.1zM579.4 130.4h1.1v1.1h-1.1zM576.7 123.7h1.1v1.1h-1.1zM578.1 129.2h1.1v1.1h-1.1zM579.3 127.9h1.1v1.1h-1.1zM579.5 130.1h1.1v1.1h-1.1zM582.2 129.5h1.1v1.1h-1.1zM577.0 130.4h1.1v1.1h-1.1zM578.9 129.7h1.1v1.1h-1.1zM582.9 130.5h1.1v1.1h-1.1zM577.8 130.4h1.1v1.1h-1.1zM579.3 127.3h1.1v1.1h-1.1zM578.2 127.9h1.1v1.1h-1.1zM578.0 120.0h1.1v1.1h-1.1zM581.0 129.8h1.1v1.1h-1.1zM578.4 125.7h1.1v1.1h-1.1zM576.7 126.8h1.1v1.1h-1.1zM595.0 129.9h1.1v1.1h-1.1zM579.1 124.9h1.1v1.1h-1.1zM577.1 130.3h1.1v1.1h-1.1zM577.5 127.8h1.1v1.1h-1.1zM578.8 129.4h1.1v1.1h-1.1zM577.9 123.9h1.1v1.1h-1.1zM581.0 129.3h1.1v1.1h-1.1zM582.3 130.8h1.1v1.1h-1.1zM577.9 96.6h1.1v1.1h-1.1zM581.1 89.1h1.1v1.1h-1.1zM586.4 113.4h1.1v1.1h-1.1zM581.2 126.6h1.1v1.1h-1.1zM578.2 128.9h1.1v1.1h-1.1zM577.9 127.8h1.1v1.1h-1.1zM577.7 130.5h1.1v1.1h-1.1zM584.2 129.3h1.1v1.1h-1.1zM585.5 94.2h1.1v1.1h-1.1zM577.7 127.8h1.1v1.1h-1.1zM579.0 121.2h1.1v1.1h-1.1zM597.6 128.3h1.1v1.1h-1.1zM579.2 129.8h1.1v1.1h-1.1zM577.0 122.9h1.1v1.1h-1.1zM576.6 128.8h1.1v1.1h-1.1zM587.8 92.5h1.1v1.1h-1.1zM576.8 128.6h1.1v1.1h-1.1zM576.6 128.4h1.1v1.1h-1.1zM578.2 130.6h1.1v1.1h-1.1zM577.9 129.7h1.1v1.1h-1.1zM588.5 130.8h1.1v1.1h-1.1zM590.5 130.0h1.1v1.1h-1.1zM586.5 112.8h1.1v1.1h-1.1zM577.1 125.7h1.1v1.1h-1.1zM577.3 125.1h1.1v1.1h-1.1zM586.1 89.1h1.1v1.1h-1.1zM577.2 130.0h1.1v1.1h-1.1zM588.5 106.1h1.1v1.1h-1.1zM579.4 108.2h1.1v1.1h-1.1zM585.7 91.8h1.1v1.1h-1.1zM578.2 128.2h1.1v1.1h-1.1zM593.5 130.2h1.1v1.1h-1.1zM578.2 129.2h1.1v1.1h-1.1zM576.5 127.5h1.1v1.1h-1.1zM577.7 126.4h1.1v1.1h-1.1zM583.2 130.8h1.1v1.1h-1.1zM585.4 127.8h1.1v1.1h-1.1zM576.5 130.6h1.1v1.1h-1.1zM584.2 118.7h1.1v1.1h-1.1zM584.4 97.1h1.1v1.1h-1.1zM580.7 130.7h1.1v1.1h-1.1zM577.9 117.8h1.1v1.1h-1.1zM593.8 129.3h1.1v1.1h-1.1zM580.2 131.0h1.1v1.1h-1.1zM577.0 129.1h1.1v1.1h-1.1zM576.5 131.0h1.1v1.1h-1.1zM576.9 130.1h1.1v1.1h-1.1zM577.5 130.2h1.1v1.1h-1.1zM577.5 126.4h1.1v1.1h-1.1zM576.6 131.0h1.1v1.1h-1.1zM576.5 129.7h1.1v1.1h-1.1zM584.0 127.6h1.1v1.1h-1.1zM607.7 39.0h1.1v1.1h-1.1zM590.2 68.9h1.1v1.1h-1.1zM584.6 76.9h1.1v1.1h-1.1z" fill="#e8413c" opacity="0.9"/>
<rect x="526.40" y="34.50" width="94.20" height="102.10" fill="none" stroke="#b0b0b0" stroke-width="1.1" />
<text x="515.70" y="65.90" font-size="10.5" text-anchor="middle" fill="#262626" >200</text>
<text x="515.70" y="103.60" font-size="10.5" text-anchor="middle" fill="#262626" >100</text>
<text x="515.70" y="135.80" font-size="10.5" text-anchor="middle" fill="#262626" >0</text>
<text x="534.60" y="147.90" font-size="10.5" text-anchor="middle" fill="#262626" >-10</text>
<text x="558.20" y="147.90" font-size="10.5" text-anchor="middle" fill="#262626" >-5</text>
<text x="573.30" y="147.90" font-size="10.5" text-anchor="middle" fill="#262626" >0</text>
<text x="592.60" y="147.90" font-size="10.5" text-anchor="middle" fill="#262626" >5</text>
<text x="614.90" y="147.90" font-size="10.5" text-anchor="middle" fill="#262626" >10</text>
<text x="534.40" y="47.40" font-size="10.4" text-anchor="start" fill="#1a1a1a" >Down</text>
<text x="534.40" y="59.90" font-size="10.4" text-anchor="start" fill="#1a1a1a" >Sig :</text>
<text x="534.40" y="72.50" font-size="10.4" text-anchor="start" fill="#1a1a1a" >468</text>
<text x="584.10" y="47.20" font-size="10.4" text-anchor="start" fill="#1a1a1a" >Up</text>
<text x="612.00" y="59.90" font-size="10.4" text-anchor="end" fill="#1a1a1a" >Sig :</text>
<text x="610.90" y="72.50" font-size="10.4" text-anchor="end" fill="#1a1a1a" >396</text>
<text x="573.50" y="25.40" font-size="13.1" text-anchor="middle" fill="#1a1a1a" >Volcano Plot</text>
<text x="577.00" y="165.6" font-size="13" text-anchor="middle" fill="#1a1a1a">log<tspan font-size="9" dy="3">2</tspan><tspan dy="-3"> FoldChange</tspan></text>
<text x="0" y="0" font-size="13" text-anchor="middle" fill="#1a1a1a" transform="translate(501.40,85.8) rotate(-90)">-log<tspan font-size="9" dy="3">10</tspan><tspan dy="-3">p-value</tspan></text>
<circle cx="628.20" cy="54.10" r="2.70" fill="#e8413c" />
<text x="636.40" y="57.90" font-size="10.5" text-anchor="start" fill="#1a1a1a" >Sig-Up</text>
<circle cx="628.20" cy="70.90" r="2.70" fill="#3f7ab5" />
<text x="636.40" y="74.70" font-size="10.5" text-anchor="start" fill="#1a1a1a" >Sig-Down</text>
<circle cx="628.20" cy="88.10" r="2.70" fill="#f2b8c6" />
<text x="636.40" y="91.90" font-size="10.5" text-anchor="start" fill="#1a1a1a" >Up</text>
<circle cx="628.20" cy="104.70" r="2.70" fill="#93d0f0" />
<text x="636.40" y="108.50" font-size="10.5" text-anchor="start" fill="#1a1a1a" >Down</text>
<circle cx="628.20" cy="121.70" r="2.70" fill="#d6dde4" />
<text x="636.40" y="125.50" font-size="10.5" text-anchor="start" fill="#1a1a1a" >Non-sig</text>
<rect x="38.10" y="206.60" width="14.95" height="19.15" fill="#5683bd"/>
<rect x="52.70" y="206.60" width="14.95" height="19.15" fill="#efca8c"/>
<rect x="67.30" y="206.60" width="14.95" height="19.15" fill="#93add6"/>
<rect x="81.90" y="206.60" width="14.95" height="19.15" fill="#7b9dcc"/>
<rect x="96.50" y="206.60" width="14.60" height="19.15" fill="#5885bf"/>
<rect x="38.10" y="225.40" width="14.95" height="19.15" fill="#5f8ac3"/>
<rect x="52.70" y="225.40" width="14.95" height="19.15" fill="#6f95c8"/>
<rect x="67.30" y="225.40" width="14.95" height="19.15" fill="#638dc4"/>
<rect x="81.90" y="225.40" width="14.95" height="19.15" fill="#5885bf"/>
<rect x="96.50" y="225.40" width="14.60" height="19.15" fill="#5f8ac3"/>
<rect x="38.10" y="244.20" width="14.95" height="18.80" fill="#abbfdf"/>
<rect x="52.70" y="244.20" width="14.95" height="18.80" fill="#5885bf"/>
<rect x="67.30" y="244.20" width="14.95" height="18.80" fill="#6790c5"/>
<rect x="81.90" y="244.20" width="14.95" height="18.80" fill="#cad6eb"/>
<rect x="96.50" y="244.20" width="14.60" height="18.80" fill="#93add6"/>
<rect x="38.10" y="266.80" width="14.95" height="19.15" fill="#eec889"/>
<rect x="52.70" y="266.80" width="14.95" height="19.15" fill="#fefcf8"/>
<rect x="67.30" y="266.80" width="14.95" height="19.15" fill="#eec586"/>
<rect x="81.90" y="266.80" width="14.95" height="19.15" fill="#e68a5a"/>
<rect x="96.50" y="266.80" width="14.60" height="19.15" fill="#eec586"/>
<rect x="38.10" y="285.60" width="14.95" height="19.15" fill="#ebb274"/>
<rect x="52.70" y="285.60" width="14.95" height="19.15" fill="#e47d53"/>
<rect x="67.30" y="285.60" width="14.95" height="19.15" fill="#e7905e"/>
<rect x="81.90" y="285.60" width="14.95" height="19.15" fill="#fefbf5"/>
<rect x="96.50" y="285.60" width="14.60" height="19.15" fill="#f2daac"/>
<rect x="38.10" y="304.40" width="14.95" height="18.80" fill="#f4e0b9"/>
<rect x="52.70" y="304.40" width="14.95" height="18.80" fill="#93add6"/>
<rect x="67.30" y="304.40" width="14.95" height="18.80" fill="#fcf6ea"/>
<rect x="81.90" y="304.40" width="14.95" height="18.80" fill="#f0cd92"/>
<rect x="96.50" y="304.40" width="14.60" height="18.80" fill="#edc07f"/>
<rect x="38.10" y="329.10" width="14.95" height="19.15" fill="#5885bf"/>
<rect x="52.70" y="329.10" width="14.95" height="19.15" fill="#93add6"/>
<rect x="67.30" y="329.10" width="14.95" height="19.15" fill="#5885bf"/>
<rect x="81.90" y="329.10" width="14.95" height="19.15" fill="#87a5d1"/>
<rect x="96.50" y="329.10" width="14.60" height="19.15" fill="#7fa0ce"/>
<rect x="38.10" y="347.90" width="14.95" height="19.15" fill="#5885bf"/>
<rect x="52.70" y="347.90" width="14.95" height="19.15" fill="#7398c9"/>
<rect x="67.30" y="347.90" width="14.95" height="19.15" fill="#5885bf"/>
<rect x="81.90" y="347.90" width="14.95" height="19.15" fill="#5d88c2"/>
<rect x="96.50" y="347.90" width="14.60" height="19.15" fill="#5885bf"/>
<rect x="38.10" y="366.70" width="14.95" height="18.80" fill="#b2c4e2"/>
<rect x="52.70" y="366.70" width="14.95" height="18.80" fill="#7398c9"/>
<rect x="67.30" y="366.70" width="14.95" height="18.80" fill="#edf0f4"/>
<rect x="81.90" y="366.70" width="14.95" height="18.80" fill="#779bcb"/>
<rect x="96.50" y="366.70" width="14.60" height="18.80" fill="#93add6"/>
<rect x="38.10" y="389.70" width="14.95" height="19.15" fill="#e68a5a"/>
<rect x="52.70" y="389.70" width="14.95" height="19.15" fill="#f4f4f5"/>
<rect x="67.30" y="389.70" width="14.95" height="19.15" fill="#e9a86c"/>
<rect x="81.90" y="389.70" width="14.95" height="19.15" fill="#e26a49"/>
<rect x="96.50" y="389.70" width="14.60" height="19.15" fill="#e9a86c"/>
<rect x="38.10" y="408.50" width="14.95" height="19.15" fill="#f3ddb2"/>
<rect x="52.70" y="408.50" width="14.95" height="19.15" fill="#f3ddb2"/>
<rect x="67.30" y="408.50" width="14.95" height="19.15" fill="#e9a86c"/>
<rect x="81.90" y="408.50" width="14.95" height="19.15" fill="#f7e9ce"/>
<rect x="96.50" y="408.50" width="14.60" height="19.15" fill="#f2d7a5"/>
<rect x="38.10" y="427.30" width="14.95" height="18.80" fill="#f6e6c7"/>
<rect x="52.70" y="427.30" width="14.95" height="18.80" fill="#e05e42"/>
<rect x="67.30" y="427.30" width="14.95" height="18.80" fill="#cad6eb"/>
<rect x="81.90" y="427.30" width="14.95" height="18.80" fill="#f7e9ce"/>
<rect x="96.50" y="427.30" width="14.60" height="18.80" fill="#f2d7a5"/>
<rect x="114.90" y="206.60" width="14.95" height="19.15" fill="#5885bf"/>
<rect x="129.50" y="206.60" width="14.95" height="19.15" fill="#5f8ac3"/>
<rect x="144.10" y="206.60" width="14.95" height="19.15" fill="#6b92c7"/>
<rect x="158.70" y="206.60" width="14.95" height="19.15" fill="#93add6"/>
<rect x="173.30" y="206.60" width="14.95" height="19.15" fill="#6b92c7"/>
<rect x="187.90" y="206.60" width="14.95" height="19.15" fill="#7398c9"/>
<rect x="202.50" y="206.60" width="14.95" height="19.15" fill="#6b92c7"/>
<rect x="217.10" y="206.60" width="14.95" height="19.15" fill="#638dc4"/>
<rect x="231.70" y="206.60" width="14.95" height="19.15" fill="#9bb3d9"/>
<rect x="246.30" y="206.60" width="14.95" height="19.15" fill="#6b92c7"/>
<rect x="260.90" y="206.60" width="14.95" height="19.15" fill="#87a5d1"/>
<rect x="275.50" y="206.60" width="14.95" height="19.15" fill="#6b92c7"/>
<rect x="290.10" y="206.60" width="14.95" height="19.15" fill="#8ba8d3"/>
<rect x="304.70" y="206.60" width="14.95" height="19.15" fill="#7398c9"/>
<rect x="319.30" y="206.60" width="14.95" height="19.15" fill="#6b92c7"/>
<rect x="333.90" y="206.60" width="14.95" height="19.15" fill="#638dc4"/>
<rect x="348.50" y="206.60" width="14.95" height="19.15" fill="#6991c6"/>
<rect x="363.10" y="206.60" width="14.95" height="19.15" fill="#5b86c0"/>
<rect x="377.70" y="206.60" width="14.95" height="19.15" fill="#6d94c7"/>
<rect x="392.30" y="206.60" width="14.95" height="19.15" fill="#6b92c7"/>
<rect x="406.90" y="206.60" width="14.60" height="19.15" fill="#87a5d1"/>
<rect x="114.90" y="225.40" width="14.95" height="19.15" fill="#5d88c2"/>
<rect x="129.50" y="225.40" width="14.95" height="19.15" fill="#6b92c7"/>
<rect x="144.10" y="225.40" width="14.95" height="19.15" fill="#7398c9"/>
<rect x="158.70" y="225.40" width="14.95" height="19.15" fill="#779bcb"/>
<rect x="173.30" y="225.40" width="14.95" height="19.15" fill="#6f95c8"/>
<rect x="187.90" y="225.40" width="14.95" height="19.15" fill="#779bcb"/>
<rect x="202.50" y="225.40" width="14.95" height="19.15" fill="#5b86c0"/>
<rect x="217.10" y="225.40" width="14.95" height="19.15" fill="#6b92c7"/>
<rect x="231.70" y="225.40" width="14.95" height="19.15" fill="#5b86c0"/>
<rect x="246.30" y="225.40" width="14.95" height="19.15" fill="#5b86c0"/>
<rect x="260.90" y="225.40" width="14.95" height="19.15" fill="#7fa0ce"/>
<rect x="275.50" y="225.40" width="14.95" height="19.15" fill="#779bcb"/>
<rect x="290.10" y="225.40" width="14.95" height="19.15" fill="#6f95c8"/>
<rect x="304.70" y="225.40" width="14.95" height="19.15" fill="#6f95c8"/>
<rect x="319.30" y="225.40" width="14.95" height="19.15" fill="#5f8ac3"/>
<rect x="333.90" y="225.40" width="14.95" height="19.15" fill="#5b86c0"/>
<rect x="348.50" y="225.40" width="14.95" height="19.15" fill="#6790c5"/>
<rect x="363.10" y="225.40" width="14.95" height="19.15" fill="#5f8ac3"/>
<rect x="377.70" y="225.40" width="14.95" height="19.15" fill="#618bc4"/>
<rect x="392.30" y="225.40" width="14.95" height="19.15" fill="#658ec5"/>
<rect x="406.90" y="225.40" width="14.60" height="19.15" fill="#5d88c2"/>
<rect x="114.90" y="244.20" width="14.95" height="18.80" fill="#87a5d1"/>
<rect x="129.50" y="244.20" width="14.95" height="18.80" fill="#6790c5"/>
<rect x="144.10" y="244.20" width="14.95" height="18.80" fill="#6b92c7"/>
<rect x="158.70" y="244.20" width="14.95" height="18.80" fill="#5885bf"/>
<rect x="173.30" y="244.20" width="14.95" height="18.80" fill="#6b92c7"/>
<rect x="187.90" y="244.20" width="14.95" height="18.80" fill="#5f8ac3"/>
<rect x="202.50" y="244.20" width="14.95" height="18.80" fill="#8ba8d3"/>
<rect x="217.10" y="244.20" width="14.95" height="18.80" fill="#6790c5"/>
<rect x="231.70" y="244.20" width="14.95" height="18.80" fill="#638dc4"/>
<rect x="246.30" y="244.20" width="14.95" height="18.80" fill="#779bcb"/>
<rect x="260.90" y="244.20" width="14.95" height="18.80" fill="#7fa0ce"/>
<rect x="275.50" y="244.20" width="14.95" height="18.80" fill="#7398c9"/>
<rect x="290.10" y="244.20" width="14.95" height="18.80" fill="#5f8ac3"/>
<rect x="304.70" y="244.20" width="14.95" height="18.80" fill="#6f95c8"/>
<rect x="319.30" y="244.20" width="14.95" height="18.80" fill="#6b92c7"/>
<rect x="333.90" y="244.20" width="14.95" height="18.80" fill="#7b9dcc"/>
<rect x="348.50" y="244.20" width="14.95" height="18.80" fill="#6790c5"/>
<rect x="363.10" y="244.20" width="14.95" height="18.80" fill="#87a5d1"/>
<rect x="377.70" y="244.20" width="14.95" height="18.80" fill="#6790c5"/>
<rect x="392.30" y="244.20" width="14.95" height="18.80" fill="#6f95c8"/>
<rect x="406.90" y="244.20" width="14.60" height="18.80" fill="#5e89c2"/>
<rect x="114.90" y="266.80" width="14.95" height="19.15" fill="#eec282"/>
<rect x="129.50" y="266.80" width="14.95" height="19.15" fill="#e9a86c"/>
<rect x="144.10" y="266.80" width="14.95" height="19.15" fill="#e26a49"/>
<rect x="158.70" y="266.80" width="14.95" height="19.15" fill="#e68a5a"/>
<rect x="173.30" y="266.80" width="14.95" height="19.15" fill="#e3714c"/>
<rect x="187.90" y="266.80" width="14.95" height="19.15" fill="#e58457"/>
<rect x="202.50" y="266.80" width="14.95" height="19.15" fill="#eec586"/>
<rect x="217.10" y="266.80" width="14.95" height="19.15" fill="#e9a86c"/>
<rect x="231.70" y="266.80" width="14.95" height="19.15" fill="#e7905e"/>
<rect x="246.30" y="266.80" width="14.95" height="19.15" fill="#ecbb7b"/>
<rect x="260.90" y="266.80" width="14.95" height="19.15" fill="#ebb677"/>
<rect x="275.50" y="266.80" width="14.95" height="19.15" fill="#e3714c"/>
<rect x="290.10" y="266.80" width="14.95" height="19.15" fill="#e7905e"/>
<rect x="304.70" y="266.80" width="14.95" height="19.15" fill="#e79661"/>
<rect x="319.30" y="266.80" width="14.95" height="19.15" fill="#e7905e"/>
<rect x="333.90" y="266.80" width="14.95" height="19.15" fill="#edc07f"/>
<rect x="348.50" y="266.80" width="14.95" height="19.15" fill="#eec282"/>
<rect x="363.10" y="266.80" width="14.95" height="19.15" fill="#eaad70"/>
<rect x="377.70" y="266.80" width="14.95" height="19.15" fill="#e89c65"/>
<rect x="392.30" y="266.80" width="14.95" height="19.15" fill="#e8a268"/>
<rect x="406.90" y="266.80" width="14.60" height="19.15" fill="#e9a86c"/>
<rect x="114.90" y="285.60" width="14.95" height="19.15" fill="#f2d7a5"/>
<rect x="129.50" y="285.60" width="14.95" height="19.15" fill="#f0cd92"/>
<rect x="144.10" y="285.60" width="14.95" height="19.15" fill="#f6e6c7"/>
<rect x="158.70" y="285.60" width="14.95" height="19.15" fill="#eec889"/>
<rect x="173.30" y="285.60" width="14.95" height="19.15" fill="#f4e0b9"/>
<rect x="187.90" y="285.60" width="14.95" height="19.15" fill="#f8ecd5"/>
<rect x="202.50" y="285.60" width="14.95" height="19.15" fill="#f2d7a5"/>
<rect x="217.10" y="285.60" width="14.95" height="19.15" fill="#f2daac"/>
<rect x="231.70" y="285.60" width="14.95" height="19.15" fill="#f7e9ce"/>
<rect x="246.30" y="285.60" width="14.95" height="19.15" fill="#eec586"/>
<rect x="260.90" y="285.60" width="14.95" height="19.15" fill="#e68a5a"/>
<rect x="275.50" y="285.60" width="14.95" height="19.15" fill="#f6e6c7"/>
<rect x="290.10" y="285.60" width="14.95" height="19.15" fill="#f0cd92"/>
<rect x="304.70" y="285.60" width="14.95" height="19.15" fill="#f1d49f"/>
<rect x="319.30" y="285.60" width="14.95" height="19.15" fill="#efca8c"/>
<rect x="333.90" y="285.60" width="14.95" height="19.15" fill="#f0cd92"/>
<rect x="348.50" y="285.60" width="14.95" height="19.15" fill="#f0d099"/>
<rect x="363.10" y="285.60" width="14.95" height="19.15" fill="#f2daac"/>
<rect x="377.70" y="285.60" width="14.95" height="19.15" fill="#f0d099"/>
<rect x="392.30" y="285.60" width="14.95" height="19.15" fill="#eec889"/>
<rect x="406.90" y="285.60" width="14.60" height="19.15" fill="#eec889"/>
<rect x="114.90" y="304.40" width="14.95" height="18.80" fill="#eec282"/>
<rect x="129.50" y="304.40" width="14.95" height="18.80" fill="#f2d7a5"/>
<rect x="144.10" y="304.40" width="14.95" height="18.80" fill="#f6e6c7"/>
<rect x="158.70" y="304.40" width="14.95" height="18.80" fill="#fbf5e7"/>
<rect x="173.30" y="304.40" width="14.95" height="18.80" fill="#f6e6c7"/>
<rect x="187.90" y="304.40" width="14.95" height="18.80" fill="#f1d49f"/>
<rect x="202.50" y="304.40" width="14.95" height="18.80" fill="#eec586"/>
<rect x="217.10" y="304.40" width="14.95" height="18.80" fill="#f0d099"/>
<rect x="231.70" y="304.40" width="14.95" height="18.80" fill="#f2d7a5"/>
<rect x="246.30" y="304.40" width="14.95" height="18.80" fill="#f2d7a5"/>
<rect x="260.90" y="304.40" width="14.95" height="18.80" fill="#b2c4e2"/>
<rect x="275.50" y="304.40" width="14.95" height="18.80" fill="#f6e6c7"/>
<rect x="290.10" y="304.40" width="14.95" height="18.80" fill="#fbf3e3"/>
<rect x="304.70" y="304.40" width="14.95" height="18.80" fill="#f5e3c0"/>
<rect x="319.30" y="304.40" width="14.95" height="18.80" fill="#f4e0b9"/>
<rect x="333.90" y="304.40" width="14.95" height="18.80" fill="#f0d099"/>
<rect x="348.50" y="304.40" width="14.95" height="18.80" fill="#eec586"/>
<rect x="363.10" y="304.40" width="14.95" height="18.80" fill="#eec586"/>
<rect x="377.70" y="304.40" width="14.95" height="18.80" fill="#f2daac"/>
<rect x="392.30" y="304.40" width="14.95" height="18.80" fill="#f5e3c0"/>
<rect x="406.90" y="304.40" width="14.60" height="18.80" fill="#f4e0b9"/>
<rect x="114.90" y="329.10" width="14.95" height="19.15" fill="#6b92c7"/>
<rect x="129.50" y="329.10" width="14.95" height="19.15" fill="#6f95c8"/>
<rect x="144.10" y="329.10" width="14.95" height="19.15" fill="#7fa0ce"/>
<rect x="158.70" y="329.10" width="14.95" height="19.15" fill="#7b9dcc"/>
<rect x="173.30" y="329.10" width="14.95" height="19.15" fill="#7b9dcc"/>
<rect x="187.90" y="329.10" width="14.95" height="19.15" fill="#7fa0ce"/>
<rect x="202.50" y="329.10" width="14.95" height="19.15" fill="#6790c5"/>
<rect x="217.10" y="329.10" width="14.95" height="19.15" fill="#7398c9"/>
<rect x="231.70" y="329.10" width="14.95" height="19.15" fill="#5f8ac3"/>
<rect x="246.30" y="329.10" width="14.95" height="19.15" fill="#779bcb"/>
<rect x="260.90" y="329.10" width="14.95" height="19.15" fill="#6f95c8"/>
<rect x="275.50" y="329.10" width="14.95" height="19.15" fill="#93add6"/>
<rect x="290.10" y="329.10" width="14.95" height="19.15" fill="#6b92c7"/>
<rect x="304.70" y="329.10" width="14.95" height="19.15" fill="#7398c9"/>
<rect x="319.30" y="329.10" width="14.95" height="19.15" fill="#7398c9"/>
<rect x="333.90" y="329.10" width="14.95" height="19.15" fill="#6b92c7"/>
<rect x="348.50" y="329.10" width="14.95" height="19.15" fill="#6b92c7"/>
<rect x="363.10" y="329.10" width="14.95" height="19.15" fill="#779bcb"/>
<rect x="377.70" y="329.10" width="14.95" height="19.15" fill="#779bcb"/>
<rect x="392.30" y="329.10" width="14.95" height="19.15" fill="#6790c5"/>
<rect x="406.90" y="329.10" width="14.60" height="19.15" fill="#7398c9"/>
<rect x="114.90" y="347.90" width="14.95" height="19.15" fill="#5d88c2"/>
<rect x="129.50" y="347.90" width="14.95" height="19.15" fill="#5d88c2"/>
<rect x="144.10" y="347.90" width="14.95" height="19.15" fill="#6790c5"/>
<rect x="158.70" y="347.90" width="14.95" height="19.15" fill="#9bb3d9"/>
<rect x="173.30" y="347.90" width="14.95" height="19.15" fill="#6790c5"/>
<rect x="187.90" y="347.90" width="14.95" height="19.15" fill="#93add6"/>
<rect x="202.50" y="347.90" width="14.95" height="19.15" fill="#83a2d0"/>
<rect x="217.10" y="347.90" width="14.95" height="19.15" fill="#6b92c7"/>
<rect x="231.70" y="347.90" width="14.95" height="19.15" fill="#93add6"/>
<rect x="246.30" y="347.90" width="14.95" height="19.15" fill="#6d94c7"/>
<rect x="260.90" y="347.90" width="14.95" height="19.15" fill="#6b92c7"/>
<rect x="275.50" y="347.90" width="14.95" height="19.15" fill="#7398c9"/>
<rect x="290.10" y="347.90" width="14.95" height="19.15" fill="#abbfdf"/>
<rect x="304.70" y="347.90" width="14.95" height="19.15" fill="#7fa0ce"/>
<rect x="319.30" y="347.90" width="14.95" height="19.15" fill="#6d94c7"/>
<rect x="333.90" y="347.90" width="14.95" height="19.15" fill="#7197c8"/>
<rect x="348.50" y="347.90" width="14.95" height="19.15" fill="#6b92c7"/>
<rect x="363.10" y="347.90" width="14.95" height="19.15" fill="#5d88c2"/>
<rect x="377.70" y="347.90" width="14.95" height="19.15" fill="#7398c9"/>
<rect x="392.30" y="347.90" width="14.95" height="19.15" fill="#83a2d0"/>
<rect x="406.90" y="347.90" width="14.60" height="19.15" fill="#6991c6"/>
<rect x="114.90" y="366.70" width="14.95" height="18.80" fill="#6790c5"/>
<rect x="129.50" y="366.70" width="14.95" height="18.80" fill="#7197c8"/>
<rect x="144.10" y="366.70" width="14.95" height="18.80" fill="#779bcb"/>
<rect x="158.70" y="366.70" width="14.95" height="18.80" fill="#5885bf"/>
<rect x="173.30" y="366.70" width="14.95" height="18.80" fill="#7197c8"/>
<rect x="187.90" y="366.70" width="14.95" height="18.80" fill="#5b86c0"/>
<rect x="202.50" y="366.70" width="14.95" height="18.80" fill="#5b86c0"/>
<rect x="217.10" y="366.70" width="14.95" height="18.80" fill="#6790c5"/>
<rect x="231.70" y="366.70" width="14.95" height="18.80" fill="#5f8ac3"/>
<rect x="246.30" y="366.70" width="14.95" height="18.80" fill="#638dc4"/>
<rect x="260.90" y="366.70" width="14.95" height="18.80" fill="#6f95c8"/>
<rect x="275.50" y="366.70" width="14.95" height="18.80" fill="#5b86c0"/>
<rect x="290.10" y="366.70" width="14.95" height="18.80" fill="#5885bf"/>
<rect x="304.70" y="366.70" width="14.95" height="18.80" fill="#6790c5"/>
<rect x="319.30" y="366.70" width="14.95" height="18.80" fill="#6d94c7"/>
<rect x="333.90" y="366.70" width="14.95" height="18.80" fill="#7197c8"/>
<rect x="348.50" y="366.70" width="14.95" height="18.80" fill="#6b92c7"/>
<rect x="363.10" y="366.70" width="14.95" height="18.80" fill="#779bcb"/>
<rect x="377.70" y="366.70" width="14.95" height="18.80" fill="#6f95c8"/>
<rect x="392.30" y="366.70" width="14.95" height="18.80" fill="#5f8ac3"/>
<rect x="406.90" y="366.70" width="14.60" height="18.80" fill="#6b92c7"/>
<rect x="114.90" y="389.70" width="14.95" height="19.15" fill="#ecbb7b"/>
<rect x="129.50" y="389.70" width="14.95" height="19.15" fill="#e7905e"/>
<rect x="144.10" y="389.70" width="14.95" height="19.15" fill="#e05e42"/>
<rect x="158.70" y="389.70" width="14.95" height="19.15" fill="#e79661"/>
<rect x="173.30" y="389.70" width="14.95" height="19.15" fill="#e3714c"/>
<rect x="187.90" y="389.70" width="14.95" height="19.15" fill="#e47750"/>
<rect x="202.50" y="389.70" width="14.95" height="19.15" fill="#eaad70"/>
<rect x="217.10" y="389.70" width="14.95" height="19.15" fill="#e47d53"/>
<rect x="231.70" y="389.70" width="14.95" height="19.15" fill="#e79661"/>
<rect x="246.30" y="389.70" width="14.95" height="19.15" fill="#e47d53"/>
<rect x="260.90" y="389.70" width="14.95" height="19.15" fill="#e89c65"/>
<rect x="275.50" y="389.70" width="14.95" height="19.15" fill="#e16446"/>
<rect x="290.10" y="389.70" width="14.95" height="19.15" fill="#e8a268"/>
<rect x="304.70" y="389.70" width="14.95" height="19.15" fill="#e47d53"/>
<rect x="319.30" y="389.70" width="14.95" height="19.15" fill="#e47750"/>
<rect x="333.90" y="389.70" width="14.95" height="19.15" fill="#e7905e"/>
<rect x="348.50" y="389.70" width="14.95" height="19.15" fill="#eaad70"/>
<rect x="363.10" y="389.70" width="14.95" height="19.15" fill="#e58457"/>
<rect x="377.70" y="389.70" width="14.95" height="19.15" fill="#e26a49"/>
<rect x="392.30" y="389.70" width="14.95" height="19.15" fill="#e89c65"/>
<rect x="406.90" y="389.70" width="14.60" height="19.15" fill="#e7905e"/>
<rect x="114.90" y="408.50" width="14.95" height="19.15" fill="#eec282"/>
<rect x="129.50" y="408.50" width="14.95" height="19.15" fill="#efca8c"/>
<rect x="144.10" y="408.50" width="14.95" height="19.15" fill="#f6e6c7"/>
<rect x="158.70" y="408.50" width="14.95" height="19.15" fill="#eec282"/>
<rect x="173.30" y="408.50" width="14.95" height="19.15" fill="#f2daac"/>
<rect x="187.90" y="408.50" width="14.95" height="19.15" fill="#f2daac"/>
<rect x="202.50" y="408.50" width="14.95" height="19.15" fill="#f2daac"/>
<rect x="217.10" y="408.50" width="14.95" height="19.15" fill="#f2daac"/>
<rect x="231.70" y="408.50" width="14.95" height="19.15" fill="#efca8c"/>
<rect x="246.30" y="408.50" width="14.95" height="19.15" fill="#f2daac"/>
<rect x="260.90" y="408.50" width="14.95" height="19.15" fill="#fcf6ea"/>
<rect x="275.50" y="408.50" width="14.95" height="19.15" fill="#f2daac"/>
<rect x="290.10" y="408.50" width="14.95" height="19.15" fill="#edc07f"/>
<rect x="304.70" y="408.50" width="14.95" height="19.15" fill="#f0cd92"/>
<rect x="319.30" y="408.50" width="14.95" height="19.15" fill="#f1d49f"/>
<rect x="333.90" y="408.50" width="14.95" height="19.15" fill="#eec889"/>
<rect x="348.50" y="408.50" width="14.95" height="19.15" fill="#eec586"/>
<rect x="363.10" y="408.50" width="14.95" height="19.15" fill="#f0d099"/>
<rect x="377.70" y="408.50" width="14.95" height="19.15" fill="#f2d7a5"/>
<rect x="392.30" y="408.50" width="14.95" height="19.15" fill="#eec282"/>
<rect x="406.90" y="408.50" width="14.60" height="19.15" fill="#f0cd92"/>
<rect x="114.90" y="427.30" width="14.95" height="18.80" fill="#f4e0b9"/>
<rect x="129.50" y="427.30" width="14.95" height="18.80" fill="#f7e9ce"/>
<rect x="144.10" y="427.30" width="14.95" height="18.80" fill="#fbf5e7"/>
<rect x="158.70" y="427.30" width="14.95" height="18.80" fill="#fcf7ed"/>
<rect x="173.30" y="427.30" width="14.95" height="18.80" fill="#fcf6ea"/>
<rect x="187.90" y="427.30" width="14.95" height="18.80" fill="#fcf6ea"/>
<rect x="202.50" y="427.30" width="14.95" height="18.80" fill="#f0cd92"/>
<rect x="217.10" y="427.30" width="14.95" height="18.80" fill="#f6e6c7"/>
<rect x="231.70" y="427.30" width="14.95" height="18.80" fill="#faf0dc"/>
<rect x="246.30" y="427.30" width="14.95" height="18.80" fill="#f7e9ce"/>
<rect x="260.90" y="427.30" width="14.95" height="18.80" fill="#ebb677"/>
<rect x="275.50" y="427.30" width="14.95" height="18.80" fill="#fdf9f1"/>
<rect x="290.10" y="427.30" width="14.95" height="18.80" fill="#fbf3e3"/>
<rect x="304.70" y="427.30" width="14.95" height="18.80" fill="#fdfaf4"/>
<rect x="319.30" y="427.30" width="14.95" height="18.80" fill="#fbf3e3"/>
<rect x="333.90" y="427.30" width="14.95" height="18.80" fill="#faf0dc"/>
<rect x="348.50" y="427.30" width="14.95" height="18.80" fill="#f2daac"/>
<rect x="363.10" y="427.30" width="14.95" height="18.80" fill="#f8ecd5"/>
<rect x="377.70" y="427.30" width="14.95" height="18.80" fill="#fcf7ed"/>
<rect x="392.30" y="427.30" width="14.95" height="18.80" fill="#faf0dc"/>
<rect x="406.90" y="427.30" width="14.60" height="18.80" fill="#f5e3c0"/>
<rect x="425.60" y="206.60" width="14.95" height="19.15" fill="#6f95c8"/>
<rect x="440.20" y="206.60" width="14.95" height="19.15" fill="#6b92c7"/>
<rect x="454.80" y="206.60" width="14.95" height="19.15" fill="#6b92c7"/>
<rect x="469.40" y="206.60" width="14.95" height="19.15" fill="#7398c9"/>
<rect x="484.00" y="206.60" width="14.95" height="19.15" fill="#9bb3d9"/>
<rect x="498.60" y="206.60" width="14.95" height="19.15" fill="#6b92c7"/>
<rect x="513.20" y="206.60" width="14.95" height="19.15" fill="#6790c5"/>
<rect x="527.80" y="206.60" width="14.95" height="19.15" fill="#7fa0ce"/>
<rect x="542.40" y="206.60" width="14.95" height="19.15" fill="#6b92c7"/>
<rect x="557.00" y="206.60" width="14.95" height="19.15" fill="#7197c8"/>
<rect x="571.60" y="206.60" width="14.95" height="19.15" fill="#6790c5"/>
<rect x="586.20" y="206.60" width="14.95" height="19.15" fill="#6b92c7"/>
<rect x="600.80" y="206.60" width="14.95" height="19.15" fill="#93add6"/>
<rect x="615.40" y="206.60" width="14.95" height="19.15" fill="#6790c5"/>
<rect x="630.00" y="206.60" width="14.95" height="19.15" fill="#8faad4"/>
<rect x="644.60" y="206.60" width="14.60" height="19.15" fill="#5f8ac3"/>
<rect x="425.60" y="225.40" width="14.95" height="19.15" fill="#6f95c8"/>
<rect x="440.20" y="225.40" width="14.95" height="19.15" fill="#6f95c8"/>
<rect x="454.80" y="225.40" width="14.95" height="19.15" fill="#83a2d0"/>
<rect x="469.40" y="225.40" width="14.95" height="19.15" fill="#5d88c2"/>
<rect x="484.00" y="225.40" width="14.95" height="19.15" fill="#638dc4"/>
<rect x="498.60" y="225.40" width="14.95" height="19.15" fill="#6f95c8"/>
<rect x="513.20" y="225.40" width="14.95" height="19.15" fill="#7398c9"/>
<rect x="527.80" y="225.40" width="14.95" height="19.15" fill="#93add6"/>
<rect x="542.40" y="225.40" width="14.95" height="19.15" fill="#5b86c0"/>
<rect x="557.00" y="225.40" width="14.95" height="19.15" fill="#6991c6"/>
<rect x="571.60" y="225.40" width="14.95" height="19.15" fill="#6991c6"/>
<rect x="586.20" y="225.40" width="14.95" height="19.15" fill="#6790c5"/>
<rect x="600.80" y="225.40" width="14.95" height="19.15" fill="#5b86c0"/>
<rect x="615.40" y="225.40" width="14.95" height="19.15" fill="#6790c5"/>
<rect x="630.00" y="225.40" width="14.95" height="19.15" fill="#5a86c0"/>
<rect x="644.60" y="225.40" width="14.60" height="19.15" fill="#5a86c0"/>
<rect x="425.60" y="244.20" width="14.95" height="18.80" fill="#6d94c7"/>
<rect x="440.20" y="244.20" width="14.95" height="18.80" fill="#6790c5"/>
<rect x="454.80" y="244.20" width="14.95" height="18.80" fill="#6b92c7"/>
<rect x="469.40" y="244.20" width="14.95" height="18.80" fill="#5d88c2"/>
<rect x="484.00" y="244.20" width="14.95" height="18.80" fill="#779bcb"/>
<rect x="498.60" y="244.20" width="14.95" height="18.80" fill="#6f95c8"/>
<rect x="513.20" y="244.20" width="14.95" height="18.80" fill="#6f95c8"/>
<rect x="527.80" y="244.20" width="14.95" height="18.80" fill="#7398c9"/>
<rect x="542.40" y="244.20" width="14.95" height="18.80" fill="#6b92c7"/>
<rect x="557.00" y="244.20" width="14.95" height="18.80" fill="#6991c6"/>
<rect x="571.60" y="244.20" width="14.95" height="18.80" fill="#6790c5"/>
<rect x="586.20" y="244.20" width="14.95" height="18.80" fill="#6b92c7"/>
<rect x="600.80" y="244.20" width="14.95" height="18.80" fill="#5d88c2"/>
<rect x="615.40" y="244.20" width="14.95" height="18.80" fill="#638dc4"/>
<rect x="630.00" y="244.20" width="14.95" height="18.80" fill="#c2d0e8"/>
<rect x="644.60" y="244.20" width="14.60" height="18.80" fill="#abbfdf"/>
<rect x="425.60" y="266.80" width="14.95" height="19.15" fill="#eec282"/>
<rect x="440.20" y="266.80" width="14.95" height="19.15" fill="#e79661"/>
<rect x="454.80" y="266.80" width="14.95" height="19.15" fill="#e58457"/>
<rect x="469.40" y="266.80" width="14.95" height="19.15" fill="#efca8c"/>
<rect x="484.00" y="266.80" width="14.95" height="19.15" fill="#df513b"/>
<rect x="498.60" y="266.80" width="14.95" height="19.15" fill="#eec586"/>
<rect x="513.20" y="266.80" width="14.95" height="19.15" fill="#e79661"/>
<rect x="527.80" y="266.80" width="14.95" height="19.15" fill="#f2daac"/>
<rect x="542.40" y="266.80" width="14.95" height="19.15" fill="#f2daac"/>
<rect x="557.00" y="266.80" width="14.95" height="19.15" fill="#eaad70"/>
<rect x="571.60" y="266.80" width="14.95" height="19.15" fill="#f0cd92"/>
<rect x="586.20" y="266.80" width="14.95" height="19.15" fill="#ecbb7b"/>
<rect x="600.80" y="266.80" width="14.95" height="19.15" fill="#eec586"/>
<rect x="615.40" y="266.80" width="14.95" height="19.15" fill="#edc07f"/>
<rect x="630.00" y="266.80" width="14.95" height="19.15" fill="#e0583f"/>
<rect x="644.60" y="266.80" width="14.60" height="19.15" fill="#e9a86c"/>
<rect x="425.60" y="285.60" width="14.95" height="19.15" fill="#e7905e"/>
<rect x="440.20" y="285.60" width="14.95" height="19.15" fill="#eec282"/>
<rect x="454.80" y="285.60" width="14.95" height="19.15" fill="#eec282"/>
<rect x="469.40" y="285.60" width="14.95" height="19.15" fill="#eaad70"/>
<rect x="484.00" y="285.60" width="14.95" height="19.15" fill="#f6e6c7"/>
<rect x="498.60" y="285.60" width="14.95" height="19.15" fill="#e58457"/>
<rect x="513.20" y="285.60" width="14.95" height="19.15" fill="#eec282"/>
<rect x="527.80" y="285.60" width="14.95" height="19.15" fill="#df513b"/>
<rect x="542.40" y="285.60" width="14.95" height="19.15" fill="#edc07f"/>
<rect x="557.00" y="285.60" width="14.95" height="19.15" fill="#eaad70"/>
<rect x="571.60" y="285.60" width="14.95" height="19.15" fill="#eec282"/>
<rect x="586.20" y="285.60" width="14.95" height="19.15" fill="#ebb677"/>
<rect x="600.80" y="285.60" width="14.95" height="19.15" fill="#eec586"/>
<rect x="615.40" y="285.60" width="14.95" height="19.15" fill="#eec282"/>
<rect x="630.00" y="285.60" width="14.95" height="19.15" fill="#f7e9ce"/>
<rect x="644.60" y="285.60" width="14.60" height="19.15" fill="#f2daac"/>
<rect x="425.60" y="304.40" width="14.95" height="18.80" fill="#fdfaf4"/>
<rect x="440.20" y="304.40" width="14.95" height="18.80" fill="#f8ecd5"/>
<rect x="454.80" y="304.40" width="14.95" height="18.80" fill="#fefcf8"/>
<rect x="469.40" y="304.40" width="14.95" height="18.80" fill="#f0cd92"/>
<rect x="484.00" y="304.40" width="14.95" height="18.80" fill="#fefcf8"/>
<rect x="498.60" y="304.40" width="14.95" height="18.80" fill="#fefbf5"/>
<rect x="513.20" y="304.40" width="14.95" height="18.80" fill="#faf0dc"/>
<rect x="527.80" y="304.40" width="14.95" height="18.80" fill="#cad6eb"/>
<rect x="542.40" y="304.40" width="14.95" height="18.80" fill="#eec282"/>
<rect x="557.00" y="304.40" width="14.95" height="18.80" fill="#faf0dc"/>
<rect x="571.60" y="304.40" width="14.95" height="18.80" fill="#eec586"/>
<rect x="586.20" y="304.40" width="14.95" height="18.80" fill="#f2daac"/>
<rect x="600.80" y="304.40" width="14.95" height="18.80" fill="#eec889"/>
<rect x="615.40" y="304.40" width="14.95" height="18.80" fill="#f0d099"/>
<rect x="630.00" y="304.40" width="14.95" height="18.80" fill="#fefcf8"/>
<rect x="644.60" y="304.40" width="14.60" height="18.80" fill="#f0cd92"/>
<rect x="425.60" y="329.10" width="14.95" height="19.15" fill="#7398c9"/>
<rect x="440.20" y="329.10" width="14.95" height="19.15" fill="#779bcb"/>
<rect x="454.80" y="329.10" width="14.95" height="19.15" fill="#6b92c7"/>
<rect x="469.40" y="329.10" width="14.95" height="19.15" fill="#6f95c8"/>
<rect x="484.00" y="329.10" width="14.95" height="19.15" fill="#5b86c0"/>
<rect x="498.60" y="329.10" width="14.95" height="19.15" fill="#83a2d0"/>
<rect x="513.20" y="329.10" width="14.95" height="19.15" fill="#7fa0ce"/>
<rect x="527.80" y="329.10" width="14.95" height="19.15" fill="#abbfdf"/>
<rect x="542.40" y="329.10" width="14.95" height="19.15" fill="#6790c5"/>
<rect x="557.00" y="329.10" width="14.95" height="19.15" fill="#7398c9"/>
<rect x="571.60" y="329.10" width="14.95" height="19.15" fill="#5d88c2"/>
<rect x="586.20" y="329.10" width="14.95" height="19.15" fill="#6b92c7"/>
<rect x="600.80" y="329.10" width="14.95" height="19.15" fill="#6790c5"/>
<rect x="615.40" y="329.10" width="14.95" height="19.15" fill="#93add6"/>
<rect x="630.00" y="329.10" width="14.95" height="19.15" fill="#5d88c2"/>
<rect x="644.60" y="329.10" width="14.60" height="19.15" fill="#5d88c2"/>
<rect x="425.60" y="347.90" width="14.95" height="19.15" fill="#7398c9"/>
<rect x="440.20" y="347.90" width="14.95" height="19.15" fill="#5b86c0"/>
<rect x="454.80" y="347.90" width="14.95" height="19.15" fill="#6b92c7"/>
<rect x="469.40" y="347.90" width="14.95" height="19.15" fill="#6b92c7"/>
<rect x="484.00" y="347.90" width="14.95" height="19.15" fill="#cad6eb"/>
<rect x="498.60" y="347.90" width="14.95" height="19.15" fill="#6f95c8"/>
<rect x="513.20" y="347.90" width="14.95" height="19.15" fill="#7197c8"/>
<rect x="527.80" y="347.90" width="14.95" height="19.15" fill="#7197c8"/>
<rect x="542.40" y="347.90" width="14.95" height="19.15" fill="#6f95c8"/>
<rect x="557.00" y="347.90" width="14.95" height="19.15" fill="#7398c9"/>
<rect x="571.60" y="347.90" width="14.95" height="19.15" fill="#6790c5"/>
<rect x="586.20" y="347.90" width="14.95" height="19.15" fill="#6b92c7"/>
<rect x="600.80" y="347.90" width="14.95" height="19.15" fill="#8ba8d3"/>
<rect x="615.40" y="347.90" width="14.95" height="19.15" fill="#d4deee"/>
<rect x="630.00" y="347.90" width="14.95" height="19.15" fill="#d4deee"/>
<rect x="644.60" y="347.90" width="14.60" height="19.15" fill="#5c87c1"/>
<rect x="425.60" y="366.70" width="14.95" height="18.80" fill="#7398c9"/>
<rect x="440.20" y="366.70" width="14.95" height="18.80" fill="#abbfdf"/>
<rect x="454.80" y="366.70" width="14.95" height="18.80" fill="#83a2d0"/>
<rect x="469.40" y="366.70" width="14.95" height="18.80" fill="#5d88c2"/>
<rect x="484.00" y="366.70" width="14.95" height="18.80" fill="#5b86c0"/>
<rect x="498.60" y="366.70" width="14.95" height="18.80" fill="#83a2d0"/>
<rect x="513.20" y="366.70" width="14.95" height="18.80" fill="#7197c8"/>
<rect x="527.80" y="366.70" width="14.95" height="18.80" fill="#6790c5"/>
<rect x="542.40" y="366.70" width="14.95" height="18.80" fill="#6b92c7"/>
<rect x="557.00" y="366.70" width="14.95" height="18.80" fill="#6b92c7"/>
<rect x="571.60" y="366.70" width="14.95" height="18.80" fill="#7b9dcc"/>
<rect x="586.20" y="366.70" width="14.95" height="18.80" fill="#6b92c7"/>
<rect x="600.80" y="366.70" width="14.95" height="18.80" fill="#b2c4e2"/>
<rect x="615.40" y="366.70" width="14.95" height="18.80" fill="#93add6"/>
<rect x="630.00" y="366.70" width="14.95" height="18.80" fill="#5b86c0"/>
<rect x="644.60" y="366.70" width="14.60" height="18.80" fill="#bacae5"/>
<rect x="425.60" y="389.70" width="14.95" height="19.15" fill="#e0583f"/>
<rect x="440.20" y="389.70" width="14.95" height="19.15" fill="#e16446"/>
<rect x="454.80" y="389.70" width="14.95" height="19.15" fill="#e26a49"/>
<rect x="469.40" y="389.70" width="14.95" height="19.15" fill="#eec889"/>
<rect x="484.00" y="389.70" width="14.95" height="19.15" fill="#e9a86c"/>
<rect x="498.60" y="389.70" width="14.95" height="19.15" fill="#df513b"/>
<rect x="513.20" y="389.70" width="14.95" height="19.15" fill="#e16446"/>
<rect x="527.80" y="389.70" width="14.95" height="19.15" fill="#e68a5a"/>
<rect x="542.40" y="389.70" width="14.95" height="19.15" fill="#e7905e"/>
<rect x="557.00" y="389.70" width="14.95" height="19.15" fill="#e47750"/>
<rect x="571.60" y="389.70" width="14.95" height="19.15" fill="#f2daac"/>
<rect x="586.20" y="389.70" width="14.95" height="19.15" fill="#e7905e"/>
<rect x="600.80" y="389.70" width="14.95" height="19.15" fill="#de4b38"/>
<rect x="615.40" y="389.70" width="14.95" height="19.15" fill="#df513b"/>
<rect x="630.00" y="389.70" width="14.95" height="19.15" fill="#e68a5a"/>
<rect x="644.60" y="389.70" width="14.60" height="19.15" fill="#ebb274"/>
<rect x="425.60" y="408.50" width="14.95" height="19.15" fill="#fbf5e7"/>
<rect x="440.20" y="408.50" width="14.95" height="19.15" fill="#f4e0b9"/>
<rect x="454.80" y="408.50" width="14.95" height="19.15" fill="#f6e6c7"/>
<rect x="469.40" y="408.50" width="14.95" height="19.15" fill="#e8a268"/>
<rect x="484.00" y="408.50" width="14.95" height="19.15" fill="#eec586"/>
<rect x="498.60" y="408.50" width="14.95" height="19.15" fill="#fcf7ed"/>
<rect x="513.20" y="408.50" width="14.95" height="19.15" fill="#f8ecd5"/>
<rect x="527.80" y="408.50" width="14.95" height="19.15" fill="#edc07f"/>
<rect x="542.40" y="408.50" width="14.95" height="19.15" fill="#eec282"/>
<rect x="557.00" y="408.50" width="14.95" height="19.15" fill="#f0cd92"/>
<rect x="571.60" y="408.50" width="14.95" height="19.15" fill="#edc07f"/>
<rect x="586.20" y="408.50" width="14.95" height="19.15" fill="#eec586"/>
<rect x="600.80" y="408.50" width="14.95" height="19.15" fill="#fcf6ea"/>
<rect x="615.40" y="408.50" width="14.95" height="19.15" fill="#f3ddb2"/>
<rect x="630.00" y="408.50" width="14.95" height="19.15" fill="#f5e3c0"/>
<rect x="644.60" y="408.50" width="14.60" height="19.15" fill="#eec889"/>
<rect x="425.60" y="427.30" width="14.95" height="18.80" fill="#f8ecd5"/>
<rect x="440.20" y="427.30" width="14.95" height="18.80" fill="#fefcf8"/>
<rect x="454.80" y="427.30" width="14.95" height="18.80" fill="#faf0dc"/>
<rect x="469.40" y="427.30" width="14.95" height="18.80" fill="#f6e6c7"/>
<rect x="484.00" y="427.30" width="14.95" height="18.80" fill="#f6e6c7"/>
<rect x="498.60" y="427.30" width="14.95" height="18.80" fill="#fcf7ed"/>
<rect x="513.20" y="427.30" width="14.95" height="18.80" fill="#f8ecd5"/>
<rect x="527.80" y="427.30" width="14.95" height="18.80" fill="#dfe5f0"/>
<rect x="542.40" y="427.30" width="14.95" height="18.80" fill="#f8ecd5"/>
<rect x="557.00" y="427.30" width="14.95" height="18.80" fill="#fbf3e3"/>
<rect x="571.60" y="427.30" width="14.95" height="18.80" fill="#ebb677"/>
<rect x="586.20" y="427.30" width="14.95" height="18.80" fill="#f6e6c7"/>
<rect x="600.80" y="427.30" width="14.95" height="18.80" fill="#fdf9f1"/>
<rect x="615.40" y="427.30" width="14.95" height="18.80" fill="#6d94c7"/>
<rect x="630.00" y="427.30" width="14.95" height="18.80" fill="#f2daac"/>
<rect x="644.60" y="427.30" width="14.60" height="18.80" fill="#f2d7a5"/>
<text x="32.10" y="197.00" font-size="13" text-anchor="start" fill="#1a1a1a" >Hematopoiesis</text>
<text x="215.30" y="196.80" font-size="13" text-anchor="start" fill="#1a1a1a" >Immune response</text>
<text x="541.60" y="196.80" font-size="13" text-anchor="middle" fill="#1a1a1a" >Inflammatory response</text>
<text x="0" y="0" font-size="12.6" text-anchor="middle" fill="#1a1a1a" transform="translate(35.20,234.00) rotate(-90)" >CK</text>
<text x="0" y="0" font-size="12.6" text-anchor="middle" fill="#1a1a1a" transform="translate(35.20,294.20) rotate(-90)" >Ric</text>
<text x="0" y="0" font-size="12.6" text-anchor="middle" fill="#1a1a1a" transform="translate(35.20,357.40) rotate(-90)" >CK</text>
<text x="0" y="0" font-size="12.6" text-anchor="middle" fill="#1a1a1a" transform="translate(35.20,417.80) rotate(-90)" >Ric</text>
<text x="0" y="0" font-size="13" text-anchor="middle" fill="#1a1a1a" transform="translate(15.30,261.20) rotate(-90)" >Spleen</text>
<text x="0" y="0" font-size="13" text-anchor="middle" fill="#1a1a1a" transform="translate(15.30,387.60) rotate(-90)" >Bone marrow</text>
<line x1="19.90" y1="235.00" x2="19.90" y2="294.80" stroke="#111" stroke-width="1.1" />
<line x1="19.90" y1="357.60" x2="19.90" y2="418.00" stroke="#111" stroke-width="1.1" />
<text x="0" y="0" font-size="13" text-anchor="end" fill="#1a1a1a" transform="translate(49.60,451.60) rotate(-90)" font-style="italic">M-CSF</text>
<text x="0" y="0" font-size="13" text-anchor="end" fill="#1a1a1a" transform="translate(64.20,451.60) rotate(-90)" font-style="italic">GM-CSF</text>
<text x="0" y="0" font-size="13" text-anchor="end" fill="#1a1a1a" transform="translate(78.80,451.60) rotate(-90)" font-style="italic">G-CSF</text>
<text x="0" y="0" font-size="13" text-anchor="end" fill="#1a1a1a" transform="translate(93.40,451.60) rotate(-90)" font-style="italic">Csf2r</text>
<text x="0" y="0" font-size="13" text-anchor="end" fill="#1a1a1a" transform="translate(108.00,451.60) rotate(-90)" font-style="italic">Hif1a</text>
<text x="0" y="0" font-size="13" text-anchor="end" fill="#1a1a1a" transform="translate(126.40,451.60) rotate(-90)" font-style="italic">Tlr1</text>
<text x="0" y="0" font-size="13" text-anchor="end" fill="#1a1a1a" transform="translate(141.00,451.60) rotate(-90)" font-style="italic">Tlr2</text>
<text x="0" y="0" font-size="13" text-anchor="end" fill="#1a1a1a" transform="translate(155.60,451.60) rotate(-90)" font-style="italic">Cebpb</text>
<text x="0" y="0" font-size="13" text-anchor="end" fill="#1a1a1a" transform="translate(170.20,451.60) rotate(-90)" font-style="italic">Irf7</text>
<text x="0" y="0" font-size="13" text-anchor="end" fill="#1a1a1a" transform="translate(184.80,451.60) rotate(-90)" font-style="italic">Clec4e</text>
<text x="0" y="0" font-size="13" text-anchor="end" fill="#1a1a1a" transform="translate(199.40,451.60) rotate(-90)" font-style="italic">Fcgr4</text>
<text x="0" y="0" font-size="13" text-anchor="end" fill="#1a1a1a" transform="translate(214.00,451.60) rotate(-90)" font-style="italic">Relb</text>
<text x="0" y="0" font-size="13" text-anchor="end" fill="#1a1a1a" transform="translate(228.60,451.60) rotate(-90)" font-style="italic">Hck</text>
<text x="0" y="0" font-size="13" text-anchor="end" fill="#1a1a1a" transform="translate(243.20,451.60) rotate(-90)" font-style="italic">Stat1</text>
<text x="0" y="0" font-size="13" text-anchor="end" fill="#1a1a1a" transform="translate(257.80,451.60) rotate(-90)" font-style="italic">Bcl3</text>
<text x="0" y="0" font-size="13" text-anchor="end" fill="#1a1a1a" transform="translate(272.40,451.60) rotate(-90)" font-style="italic">Fosl1</text>
<text x="0" y="0" font-size="13" text-anchor="end" fill="#1a1a1a" transform="translate(287.00,451.60) rotate(-90)" font-style="italic">Oas2</text>
<text x="0" y="0" font-size="13" text-anchor="end" fill="#1a1a1a" transform="translate(301.60,451.60) rotate(-90)" font-style="italic">Irgm1</text>
<text x="0" y="0" font-size="13" text-anchor="end" fill="#1a1a1a" transform="translate(316.20,451.60) rotate(-90)" font-style="italic">Gbp2</text>
<text x="0" y="0" font-size="13" text-anchor="end" fill="#1a1a1a" transform="translate(330.80,451.60) rotate(-90)" font-style="italic">Gbp5</text>
<text x="0" y="0" font-size="13" text-anchor="end" fill="#1a1a1a" transform="translate(345.40,451.60) rotate(-90)" font-style="italic">Cd274</text>
<text x="0" y="0" font-size="13" text-anchor="end" fill="#1a1a1a" transform="translate(360.00,451.60) rotate(-90)" font-style="italic">Cd14</text>
<text x="0" y="0" font-size="13" text-anchor="end" fill="#1a1a1a" transform="translate(374.60,451.60) rotate(-90)" font-style="italic">Ikbke</text>
<text x="0" y="0" font-size="13" text-anchor="end" fill="#1a1a1a" transform="translate(389.20,451.60) rotate(-90)" font-style="italic">Gbp2b</text>
<text x="0" y="0" font-size="13" text-anchor="end" fill="#1a1a1a" transform="translate(403.80,451.60) rotate(-90)" font-style="italic">Gbp3</text>
<text x="0" y="0" font-size="13" text-anchor="end" fill="#1a1a1a" transform="translate(418.40,451.60) rotate(-90)" font-style="italic">Gbp7</text>
<text x="0" y="0" font-size="13" text-anchor="end" fill="#1a1a1a" transform="translate(437.10,451.60) rotate(-90)" font-style="italic">Ccl2</text>
<text x="0" y="0" font-size="13" text-anchor="end" fill="#1a1a1a" transform="translate(451.70,451.60) rotate(-90)" font-style="italic">Ccl3</text>
<text x="0" y="0" font-size="13" text-anchor="end" fill="#1a1a1a" transform="translate(466.30,451.60) rotate(-90)" font-style="italic">Ccl4</text>
<text x="0" y="0" font-size="13" text-anchor="end" fill="#1a1a1a" transform="translate(480.90,451.60) rotate(-90)" font-style="italic">Ccl5</text>
<text x="0" y="0" font-size="13" text-anchor="end" fill="#1a1a1a" transform="translate(495.50,451.60) rotate(-90)" font-style="italic">Ccl12</text>
<text x="0" y="0" font-size="13" text-anchor="end" fill="#1a1a1a" transform="translate(510.10,451.60) rotate(-90)" font-style="italic">Cxcl1</text>
<text x="0" y="0" font-size="13" text-anchor="end" fill="#1a1a1a" transform="translate(524.70,451.60) rotate(-90)" font-style="italic">Cxcl2</text>
<text x="0" y="0" font-size="13" text-anchor="end" fill="#1a1a1a" transform="translate(539.30,451.60) rotate(-90)" font-style="italic">Cxcl3</text>
<text x="0" y="0" font-size="13" text-anchor="end" fill="#1a1a1a" transform="translate(553.90,451.60) rotate(-90)" font-style="italic">Cxcl9</text>
<text x="0" y="0" font-size="13" text-anchor="end" fill="#1a1a1a" transform="translate(568.50,451.60) rotate(-90)" font-style="italic">Cxcl10</text>
<text x="0" y="0" font-size="13" text-anchor="end" fill="#1a1a1a" transform="translate(583.10,451.60) rotate(-90)" font-style="italic">Il1a</text>
<text x="0" y="0" font-size="13" text-anchor="end" fill="#1a1a1a" transform="translate(597.70,451.60) rotate(-90)" font-style="italic">Tnf</text>
<text x="0" y="0" font-size="13" text-anchor="end" fill="#1a1a1a" transform="translate(612.30,451.60) rotate(-90)" font-style="italic">Il6</text>
<text x="0" y="0" font-size="13" text-anchor="end" fill="#1a1a1a" transform="translate(626.90,451.60) rotate(-90)" font-style="italic">Il1b</text>
<text x="0" y="0" font-size="13" text-anchor="end" fill="#1a1a1a" transform="translate(641.50,451.60) rotate(-90)" font-style="italic">Il27</text>
<text x="0" y="0" font-size="13" text-anchor="end" fill="#1a1a1a" transform="translate(656.10,451.60) rotate(-90)" font-style="italic">Il12rb1</text>
<defs><linearGradient id="hmg" x1="0" y1="1" x2="0" y2="0"><stop offset="0.046" stop-color="#4A79B8"/><stop offset="0.275" stop-color="#5B88C3"/><stop offset="0.389" stop-color="#A9BEDF"/><stop offset="0.503" stop-color="#FFFFFF"/><stop offset="0.618" stop-color="#F3DDB0"/><stop offset="0.732" stop-color="#EBB76C"/><stop offset="0.847" stop-color="#E57F50"/><stop offset="0.927" stop-color="#DC4433"/><stop offset="0.961" stop-color="#D9342B"/></linearGradient></defs>
<rect x="665.00" y="283.00" width="5.00" height="88.60" fill="url(#hmg)" stroke="none" stroke-width="1" />
<line x1="665.00" y1="286.50" x2="666.00" y2="286.50" stroke="#fff" stroke-width="0.8" />
<line x1="669.00" y1="286.50" x2="670.00" y2="286.50" stroke="#fff" stroke-width="0.8" />
<text x="677.40" y="290.00" font-size="10" text-anchor="middle" fill="#262626" >2</text>
<line x1="665.00" y1="306.75" x2="666.00" y2="306.75" stroke="#fff" stroke-width="0.8" />
<line x1="669.00" y1="306.75" x2="670.00" y2="306.75" stroke="#fff" stroke-width="0.8" />
<text x="677.40" y="310.25" font-size="10" text-anchor="middle" fill="#262626" >1</text>
<line x1="665.00" y1="327.00" x2="666.00" y2="327.00" stroke="#fff" stroke-width="0.8" />
<line x1="669.00" y1="327.00" x2="670.00" y2="327.00" stroke="#fff" stroke-width="0.8" />
<text x="677.40" y="330.50" font-size="10" text-anchor="middle" fill="#262626" >0</text>
<line x1="665.00" y1="347.25" x2="666.00" y2="347.25" stroke="#fff" stroke-width="0.8" />
<line x1="669.00" y1="347.25" x2="670.00" y2="347.25" stroke="#fff" stroke-width="0.8" />
<text x="677.40" y="350.75" font-size="10" text-anchor="middle" fill="#262626" >-1</text>
<line x1="665.00" y1="367.50" x2="666.00" y2="367.50" stroke="#fff" stroke-width="0.8" />
<line x1="669.00" y1="367.50" x2="670.00" y2="367.50" stroke="#fff" stroke-width="0.8" />
<text x="677.40" y="371.00" font-size="10" text-anchor="middle" fill="#262626" >-2</text>
<defs><linearGradient id="pvg" x1="0" y1="1" x2="0" y2="0"><stop offset="0" stop-color="#e0302a"/><stop offset="0.5" stop-color="#a14a6e"/><stop offset="1" stop-color="#5a78c0"/></linearGradient></defs>
<line x1="219.35" y1="549.60" x2="219.35" y2="814.70" stroke="#f5f5f5" stroke-width="0.6" />
<line x1="265.10" y1="549.60" x2="265.10" y2="814.70" stroke="#f5f5f5" stroke-width="0.6" />
<line x1="196.50" y1="549.60" x2="196.50" y2="814.70" stroke="#ececec" stroke-width="0.8" />
<line x1="242.20" y1="549.60" x2="242.20" y2="814.70" stroke="#ececec" stroke-width="0.8" />
<line x1="288.00" y1="549.60" x2="288.00" y2="814.70" stroke="#ececec" stroke-width="0.8" />
<line x1="196.50" y1="557.30" x2="299.10" y2="557.30" stroke="#efefef" stroke-width="0.8" />
<line x1="196.50" y1="570.44" x2="299.10" y2="570.44" stroke="#efefef" stroke-width="0.8" />
<line x1="196.50" y1="583.59" x2="299.10" y2="583.59" stroke="#efefef" stroke-width="0.8" />
<line x1="196.50" y1="596.73" x2="299.10" y2="596.73" stroke="#efefef" stroke-width="0.8" />
<line x1="196.50" y1="609.88" x2="299.10" y2="609.88" stroke="#efefef" stroke-width="0.8" />
<line x1="196.50" y1="623.02" x2="299.10" y2="623.02" stroke="#efefef" stroke-width="0.8" />
<line x1="196.50" y1="636.17" x2="299.10" y2="636.17" stroke="#efefef" stroke-width="0.8" />
<line x1="196.50" y1="649.31" x2="299.10" y2="649.31" stroke="#efefef" stroke-width="0.8" />
<line x1="196.50" y1="662.46" x2="299.10" y2="662.46" stroke="#efefef" stroke-width="0.8" />
<line x1="196.50" y1="675.60" x2="299.10" y2="675.60" stroke="#efefef" stroke-width="0.8" />
<line x1="196.50" y1="688.75" x2="299.10" y2="688.75" stroke="#efefef" stroke-width="0.8" />
<line x1="196.50" y1="701.89" x2="299.10" y2="701.89" stroke="#efefef" stroke-width="0.8" />
<line x1="196.50" y1="715.04" x2="299.10" y2="715.04" stroke="#efefef" stroke-width="0.8" />
<line x1="196.50" y1="728.18" x2="299.10" y2="728.18" stroke="#efefef" stroke-width="0.8" />
<line x1="196.50" y1="741.33" x2="299.10" y2="741.33" stroke="#efefef" stroke-width="0.8" />
<line x1="196.50" y1="754.47" x2="299.10" y2="754.47" stroke="#efefef" stroke-width="0.8" />
<line x1="196.50" y1="767.62" x2="299.10" y2="767.62" stroke="#efefef" stroke-width="0.8" />
<line x1="196.50" y1="780.76" x2="299.10" y2="780.76" stroke="#efefef" stroke-width="0.8" />
<line x1="196.50" y1="793.91" x2="299.10" y2="793.91" stroke="#efefef" stroke-width="0.8" />
<line x1="196.50" y1="807.05" x2="299.10" y2="807.05" stroke="#efefef" stroke-width="0.8" />
<circle cx="265.00" cy="557.30" r="4.70" fill="#dc3530" />
<text x="190.70" y="559.90" font-size="10.6" text-anchor="end" fill="#1a1a1a" >Viral protein interaction</text>
<line x1="194.50" y1="557.30" x2="196.50" y2="557.30" stroke="#222" stroke-width="0.9" />
<circle cx="262.00" cy="570.44" r="5.10" fill="#dc3530" />
<text x="190.70" y="573.04" font-size="10.6" text-anchor="end" fill="#da3a35" >TNF signaling pathway</text>
<line x1="194.50" y1="570.44" x2="196.50" y2="570.44" stroke="#222" stroke-width="0.9" />
<circle cx="239.80" cy="583.59" r="4.00" fill="#dc3530" />
<text x="190.70" y="586.19" font-size="10.6" text-anchor="end" fill="#1a1a1a" >ECM−receptor interaction</text>
<line x1="194.50" y1="583.59" x2="196.50" y2="583.59" stroke="#222" stroke-width="0.9" />
<circle cx="225.90" cy="596.73" r="6.50" fill="#dc3530" />
<text x="190.70" y="599.33" font-size="10.6" text-anchor="end" fill="#da3a35" >Cytokine−cytokine receptor interaction</text>
<line x1="194.50" y1="596.73" x2="196.50" y2="596.73" stroke="#222" stroke-width="0.9" />
<circle cx="225.20" cy="609.88" r="4.20" fill="#dc3530" />
<text x="190.70" y="612.48" font-size="10.6" text-anchor="end" fill="#da3a35" >NF−κB signaling pathway</text>
<line x1="194.50" y1="609.88" x2="196.50" y2="609.88" stroke="#222" stroke-width="0.9" />
<circle cx="275.10" cy="623.02" r="5.30" fill="#dc3530" />
<text x="190.70" y="625.62" font-size="10.6" text-anchor="end" fill="#1a1a1a" >Pancreatic secretion</text>
<line x1="194.50" y1="623.02" x2="196.50" y2="623.02" stroke="#222" stroke-width="0.9" />
<circle cx="257.10" cy="636.17" r="4.70" fill="#dc3530" />
<text x="190.70" y="638.77" font-size="10.6" text-anchor="end" fill="#da3a35" >IL−17 signaling pathway</text>
<line x1="194.50" y1="636.17" x2="196.50" y2="636.17" stroke="#222" stroke-width="0.9" />
<circle cx="253.80" cy="649.31" r="4.90" fill="#dc3530" />
<text x="190.70" y="651.91" font-size="10.6" text-anchor="end" fill="#1a1a1a" >Protein digestion and absorption</text>
<line x1="194.50" y1="649.31" x2="196.50" y2="649.31" stroke="#222" stroke-width="0.9" />
<circle cx="233.80" cy="662.46" r="4.20" fill="#dc3530" />
<text x="190.70" y="665.06" font-size="10.6" text-anchor="end" fill="#da3a35" >Toll−like receptor signaling pathway</text>
<line x1="194.50" y1="662.46" x2="196.50" y2="662.46" stroke="#222" stroke-width="0.9" />
<circle cx="221.70" cy="675.60" r="5.30" fill="#dc3530" />
<text x="190.70" y="678.20" font-size="10.6" text-anchor="end" fill="#da3a35" >Chemokine signaling pathway</text>
<line x1="194.50" y1="675.60" x2="196.50" y2="675.60" stroke="#222" stroke-width="0.9" />
<circle cx="220.50" cy="688.75" r="4.00" fill="#dc3530" />
<text x="190.70" y="691.35" font-size="10.6" text-anchor="end" fill="#da3a35" >C−type lectin receptor signaling pathway</text>
<line x1="194.50" y1="688.75" x2="196.50" y2="688.75" stroke="#222" stroke-width="0.9" />
<circle cx="208.00" cy="701.89" r="5.30" fill="#dc3530" />
<text x="190.70" y="704.50" font-size="10.6" text-anchor="end" fill="#da3a35" >NOD−like receptor signaling pathway</text>
<line x1="194.50" y1="701.89" x2="196.50" y2="701.89" stroke="#222" stroke-width="0.9" />
<circle cx="284.60" cy="715.04" r="2.80" fill="#dc3530" />
<text x="190.70" y="717.64" font-size="10.6" text-anchor="end" fill="#1a1a1a" >African trypanosomiasis</text>
<line x1="194.50" y1="715.04" x2="196.50" y2="715.04" stroke="#222" stroke-width="0.9" />
<circle cx="263.40" cy="728.18" r="3.70" fill="#dc3530" />
<text x="190.70" y="730.78" font-size="10.6" text-anchor="end" fill="#1a1a1a" >Malaria</text>
<line x1="194.50" y1="728.18" x2="196.50" y2="728.18" stroke="#222" stroke-width="0.9" />
<circle cx="246.20" cy="741.33" r="3.90" fill="#dc3530" />
<text x="190.70" y="743.93" font-size="10.6" text-anchor="end" fill="#1a1a1a" >Leishmaniasis</text>
<line x1="194.50" y1="741.33" x2="196.50" y2="741.33" stroke="#222" stroke-width="0.9" />
<circle cx="237.00" cy="754.47" r="4.00" fill="#dc3530" />
<text x="190.70" y="757.07" font-size="10.6" text-anchor="end" fill="#1a1a1a" >Rheumatoid arthritis</text>
<line x1="194.50" y1="754.47" x2="196.50" y2="754.47" stroke="#222" stroke-width="0.9" />
<circle cx="222.60" cy="767.62" r="4.00" fill="#dc3530" />
<text x="190.70" y="770.22" font-size="10.6" text-anchor="end" fill="#1a1a1a" >Chagas disease</text>
<line x1="194.50" y1="767.62" x2="196.50" y2="767.62" stroke="#222" stroke-width="0.9" />
<circle cx="221.70" cy="780.76" r="5.10" fill="#dc3530" />
<text x="190.70" y="783.37" font-size="10.6" text-anchor="end" fill="#1a1a1a" >Influenza A</text>
<line x1="194.50" y1="780.76" x2="196.50" y2="780.76" stroke="#222" stroke-width="0.9" />
<circle cx="220.50" cy="793.91" r="4.00" fill="#dc3530" />
<text x="190.70" y="796.51" font-size="10.6" text-anchor="end" fill="#1a1a1a" >Amoebiasis</text>
<line x1="194.50" y1="793.91" x2="196.50" y2="793.91" stroke="#222" stroke-width="0.9" />
<circle cx="207.90" cy="807.05" r="5.30" fill="#dc3530" />
<text x="190.70" y="809.65" font-size="10.6" text-anchor="end" fill="#1a1a1a" >Lipid and atherosclerosis</text>
<line x1="194.50" y1="807.05" x2="196.50" y2="807.05" stroke="#222" stroke-width="0.9" />
<rect x="196.50" y="549.60" width="102.60" height="265.10" fill="none" stroke="#1c1c1c" stroke-width="1.3" />
<line x1="196.30" y1="814.70" x2="196.30" y2="816.70" stroke="#222" stroke-width="0.9" />
<text x="196.30" y="830.70" font-size="10.5" text-anchor="middle" fill="#262626" >2</text>
<line x1="241.90" y1="814.70" x2="241.90" y2="816.70" stroke="#222" stroke-width="0.9" />
<text x="241.90" y="830.70" font-size="10.5" text-anchor="middle" fill="#262626" >4</text>
<line x1="287.70" y1="814.70" x2="287.70" y2="816.70" stroke="#222" stroke-width="0.9" />
<text x="287.70" y="830.70" font-size="10.5" text-anchor="middle" fill="#262626" >6</text>
<text x="246.90" y="846.90" font-size="13" text-anchor="middle" fill="#1a1a1a" >Enrichment Score</text>
<text x="246.60" y="519.60" font-size="13.1" text-anchor="middle" fill="#1a1a1a" >Spleen</text>
<text x="179.80" y="537.00" font-size="13.2" text-anchor="start" fill="#1a1a1a" >KEGG Pathways Top 20</text>
<text x="319.60" y="623.28" font-size="6.6" text-anchor="middle" fill="#262626" >p-value</text>
<rect x="307.00" y="630.00" width="8.00" height="40.10" fill="url(#pvg)" stroke="none" stroke-width="1" />
<text x="316.80" y="633.28" font-size="6.6" text-anchor="start" fill="#262626" >0.05</text>
<line x1="307.00" y1="630.90" x2="308.20" y2="630.90" stroke="#fff" stroke-width="0.5" />
<line x1="313.80" y1="630.90" x2="315.00" y2="630.90" stroke="#fff" stroke-width="0.5" />
<text x="316.80" y="640.28" font-size="6.6" text-anchor="start" fill="#262626" >0.04</text>
<line x1="307.00" y1="637.90" x2="308.20" y2="637.90" stroke="#fff" stroke-width="0.5" />
<line x1="313.80" y1="637.90" x2="315.00" y2="637.90" stroke="#fff" stroke-width="0.5" />
<text x="316.80" y="647.38" font-size="6.6" text-anchor="start" fill="#262626" >0.03</text>
<line x1="307.00" y1="645.00" x2="308.20" y2="645.00" stroke="#fff" stroke-width="0.5" />
<line x1="313.80" y1="645.00" x2="315.00" y2="645.00" stroke="#fff" stroke-width="0.5" />
<text x="316.80" y="654.48" font-size="6.6" text-anchor="start" fill="#262626" >0.02</text>
<line x1="307.00" y1="652.10" x2="308.20" y2="652.10" stroke="#fff" stroke-width="0.5" />
<line x1="313.80" y1="652.10" x2="315.00" y2="652.10" stroke="#fff" stroke-width="0.5" />
<text x="316.80" y="661.28" font-size="6.6" text-anchor="start" fill="#262626" >0.01</text>
<line x1="307.00" y1="658.90" x2="308.20" y2="658.90" stroke="#fff" stroke-width="0.5" />
<line x1="313.80" y1="658.90" x2="315.00" y2="658.90" stroke="#fff" stroke-width="0.5" />
<text x="316.80" y="670.18" font-size="6.6" text-anchor="start" fill="#262626" >0.00</text>
<text x="319.60" y="679.58" font-size="6.6" text-anchor="middle" fill="#262626" >Number</text>
<circle cx="314.80" cy="686.30" r="4.40" fill="#000" />
<text x="322.70" y="688.68" font-size="6.6" text-anchor="start" fill="#262626" >20</text>
<circle cx="314.80" cy="697.80" r="5.00" fill="#000" />
<text x="322.70" y="700.18" font-size="6.6" text-anchor="start" fill="#262626" >30</text>
<circle cx="314.80" cy="711.40" r="5.70" fill="#000" />
<text x="322.70" y="713.78" font-size="6.6" text-anchor="start" fill="#262626" >40</text>
<circle cx="314.80" cy="726.80" r="6.30" fill="#000" />
<text x="322.70" y="729.18" font-size="6.6" text-anchor="start" fill="#262626" >50</text>
<line x1="561.25" y1="549.60" x2="561.25" y2="814.80" stroke="#f5f5f5" stroke-width="0.6" />
<line x1="590.95" y1="549.60" x2="590.95" y2="814.80" stroke="#f5f5f5" stroke-width="0.6" />
<line x1="620.65" y1="549.60" x2="620.65" y2="814.80" stroke="#f5f5f5" stroke-width="0.6" />
<line x1="546.40" y1="549.60" x2="546.40" y2="814.80" stroke="#ececec" stroke-width="0.8" />
<line x1="576.10" y1="549.60" x2="576.10" y2="814.80" stroke="#ececec" stroke-width="0.8" />
<line x1="605.80" y1="549.60" x2="605.80" y2="814.80" stroke="#ececec" stroke-width="0.8" />
<line x1="635.50" y1="549.60" x2="635.50" y2="814.80" stroke="#ececec" stroke-width="0.8" />
<line x1="546.40" y1="557.30" x2="649.40" y2="557.30" stroke="#efefef" stroke-width="0.8" />
<line x1="546.40" y1="570.44" x2="649.40" y2="570.44" stroke="#efefef" stroke-width="0.8" />
<line x1="546.40" y1="583.59" x2="649.40" y2="583.59" stroke="#efefef" stroke-width="0.8" />
<line x1="546.40" y1="596.73" x2="649.40" y2="596.73" stroke="#efefef" stroke-width="0.8" />
<line x1="546.40" y1="609.88" x2="649.40" y2="609.88" stroke="#efefef" stroke-width="0.8" />
<line x1="546.40" y1="623.02" x2="649.40" y2="623.02" stroke="#efefef" stroke-width="0.8" />
<line x1="546.40" y1="636.17" x2="649.40" y2="636.17" stroke="#efefef" stroke-width="0.8" />
<line x1="546.40" y1="649.31" x2="649.40" y2="649.31" stroke="#efefef" stroke-width="0.8" />
<line x1="546.40" y1="662.46" x2="649.40" y2="662.46" stroke="#efefef" stroke-width="0.8" />
<line x1="546.40" y1="675.60" x2="649.40" y2="675.60" stroke="#efefef" stroke-width="0.8" />
<line x1="546.40" y1="688.75" x2="649.40" y2="688.75" stroke="#efefef" stroke-width="0.8" />
<line x1="546.40" y1="701.89" x2="649.40" y2="701.89" stroke="#efefef" stroke-width="0.8" />
<line x1="546.40" y1="715.04" x2="649.40" y2="715.04" stroke="#efefef" stroke-width="0.8" />
<line x1="546.40" y1="728.18" x2="649.40" y2="728.18" stroke="#efefef" stroke-width="0.8" />
<line x1="546.40" y1="741.33" x2="649.40" y2="741.33" stroke="#efefef" stroke-width="0.8" />
<line x1="546.40" y1="754.47" x2="649.40" y2="754.47" stroke="#efefef" stroke-width="0.8" />
<line x1="546.40" y1="767.62" x2="649.40" y2="767.62" stroke="#efefef" stroke-width="0.8" />
<line x1="546.40" y1="780.76" x2="649.40" y2="780.76" stroke="#efefef" stroke-width="0.8" />
<line x1="546.40" y1="793.91" x2="649.40" y2="793.91" stroke="#efefef" stroke-width="0.8" />
<line x1="546.40" y1="807.05" x2="649.40" y2="807.05" stroke="#efefef" stroke-width="0.8" />
<circle cx="642.10" cy="557.30" r="4.90" fill="#dc3530" />
<text x="540.40" y="559.90" font-size="10.6" text-anchor="end" fill="#1a1a1a" >Viral protein interaction</text>
<line x1="544.40" y1="557.30" x2="546.40" y2="557.30" stroke="#222" stroke-width="0.9" />
<circle cx="605.20" cy="570.44" r="4.60" fill="#dc3530" />
<text x="540.40" y="573.04" font-size="10.6" text-anchor="end" fill="#da3a35" >TNF signaling pathway</text>
<line x1="544.40" y1="570.44" x2="546.40" y2="570.44" stroke="#222" stroke-width="0.9" />
<circle cx="604.80" cy="583.59" r="4.20" fill="#dc3530" />
<text x="540.40" y="586.19" font-size="10.6" text-anchor="end" fill="#da3a35" >NF−κB signaling pathway</text>
<line x1="544.40" y1="583.59" x2="546.40" y2="583.59" stroke="#222" stroke-width="0.9" />
<circle cx="601.70" cy="596.73" r="6.30" fill="#dc3530" />
<text x="540.40" y="599.33" font-size="10.6" text-anchor="end" fill="#da3a35" >Cytokine−cytokine receptor interaction</text>
<line x1="544.40" y1="596.73" x2="546.40" y2="596.73" stroke="#222" stroke-width="0.9" />
<circle cx="578.70" cy="609.88" r="3.90" fill="#dc3530" />
<text x="540.40" y="612.48" font-size="10.6" text-anchor="end" fill="#1a1a1a" >HIF−1 signaling pathway</text>
<line x1="544.40" y1="609.88" x2="546.40" y2="609.88" stroke="#222" stroke-width="0.9" />
<circle cx="609.40" cy="623.02" r="4.40" fill="#dc3530" />
<text x="540.40" y="625.62" font-size="10.6" text-anchor="end" fill="#da3a35" >Toll−like receptor signaling pathway</text>
<line x1="544.40" y1="623.02" x2="546.40" y2="623.02" stroke="#222" stroke-width="0.9" />
<circle cx="589.90" cy="636.17" r="4.00" fill="#dc3530" />
<text x="540.40" y="638.77" font-size="10.6" text-anchor="end" fill="#da3a35" >C−type lectin receptor signaling pathway</text>
<line x1="544.40" y1="636.17" x2="546.40" y2="636.17" stroke="#222" stroke-width="0.9" />
<circle cx="589.40" cy="649.31" r="3.70" fill="#dc3530" />
<text x="540.40" y="651.91" font-size="10.6" text-anchor="end" fill="#da3a35" >IL−17 signaling pathway</text>
<line x1="544.40" y1="649.31" x2="546.40" y2="649.31" stroke="#222" stroke-width="0.9" />
<circle cx="585.90" cy="662.46" r="4.90" fill="#dc3530" />
<text x="540.40" y="665.06" font-size="10.6" text-anchor="end" fill="#da3a35" >Chemokine signaling pathway</text>
<line x1="544.40" y1="662.46" x2="546.40" y2="662.46" stroke="#222" stroke-width="0.9" />
<circle cx="584.10" cy="675.60" r="4.00" fill="#dc3530" />
<text x="540.40" y="678.20" font-size="10.6" text-anchor="end" fill="#1a1a1a" >Osteoclast differentiation</text>
<line x1="544.40" y1="675.60" x2="546.40" y2="675.60" stroke="#222" stroke-width="0.9" />
<circle cx="576.10" cy="688.75" r="4.90" fill="#dc3530" />
<text x="540.40" y="691.35" font-size="10.6" text-anchor="end" fill="#da3a35" >NOD−like receptor signaling pathway</text>
<line x1="544.40" y1="688.75" x2="546.40" y2="688.75" stroke="#222" stroke-width="0.9" />
<circle cx="608.50" cy="701.89" r="3.50" fill="#dc3530" />
<text x="540.40" y="704.50" font-size="10.6" text-anchor="end" fill="#1a1a1a" >Legionellosis</text>
<line x1="544.40" y1="701.89" x2="546.40" y2="701.89" stroke="#222" stroke-width="0.9" />
<circle cx="603.10" cy="715.04" r="4.00" fill="#dc3530" />
<text x="540.40" y="717.64" font-size="10.6" text-anchor="end" fill="#1a1a1a" >Rheumatoid arthritis</text>
<line x1="544.40" y1="715.04" x2="546.40" y2="715.04" stroke="#222" stroke-width="0.9" />
<circle cx="596.20" cy="728.18" r="4.20" fill="#dc3530" />
<text x="540.40" y="730.78" font-size="10.6" text-anchor="end" fill="#1a1a1a" >AGE−RAGE signaling pathway</text>
<line x1="544.40" y1="728.18" x2="546.40" y2="728.18" stroke="#222" stroke-width="0.9" />
<circle cx="594.70" cy="741.33" r="2.60" fill="#dc3530" />
<text x="540.40" y="743.93" font-size="10.6" text-anchor="end" fill="#1a1a1a" >Inflammatory bowel disease</text>
<line x1="544.40" y1="741.33" x2="546.40" y2="741.33" stroke="#222" stroke-width="0.9" />
<circle cx="587.50" cy="754.47" r="4.00" fill="#dc3530" />
<text x="540.40" y="757.07" font-size="10.6" text-anchor="end" fill="#1a1a1a" >Chagas disease</text>
<line x1="544.40" y1="754.47" x2="546.40" y2="754.47" stroke="#222" stroke-width="0.9" />
<circle cx="585.90" cy="767.62" r="4.00" fill="#dc3530" />
<text x="540.40" y="770.22" font-size="10.6" text-anchor="end" fill="#1a1a1a" >Amoebiasis</text>
<line x1="544.40" y1="767.62" x2="546.40" y2="767.62" stroke="#222" stroke-width="0.9" />
<circle cx="579.60" cy="780.76" r="4.90" fill="#dc3530" />
<text x="540.40" y="783.37" font-size="10.6" text-anchor="end" fill="#1a1a1a" >Lipid and atherosclerosis</text>
<line x1="544.40" y1="780.76" x2="546.40" y2="780.76" stroke="#222" stroke-width="0.9" />
<circle cx="576.30" cy="793.91" r="4.20" fill="#dc3530" />
<text x="540.40" y="796.51" font-size="10.6" text-anchor="end" fill="#1a1a1a" >Fluid shear stress and atherosclerosis</text>
<line x1="544.40" y1="793.91" x2="546.40" y2="793.91" stroke="#222" stroke-width="0.9" />
<circle cx="558.40" cy="807.05" r="5.60" fill="#dc3530" />
<text x="540.40" y="809.65" font-size="10.6" text-anchor="end" fill="#1a1a1a" >Pathways in cancer</text>
<line x1="544.40" y1="807.05" x2="546.40" y2="807.05" stroke="#222" stroke-width="0.9" />
<rect x="546.40" y="549.60" width="103.00" height="265.20" fill="none" stroke="#1c1c1c" stroke-width="1.3" />
<line x1="546.30" y1="814.80" x2="546.30" y2="816.80" stroke="#222" stroke-width="0.9" />
<text x="546.30" y="830.70" font-size="10.5" text-anchor="middle" fill="#262626" >1</text>
<line x1="575.60" y1="814.80" x2="575.60" y2="816.80" stroke="#222" stroke-width="0.9" />
<text x="575.60" y="830.70" font-size="10.5" text-anchor="middle" fill="#262626" >3</text>
<line x1="605.20" y1="814.80" x2="605.20" y2="816.80" stroke="#222" stroke-width="0.9" />
<text x="605.20" y="830.70" font-size="10.5" text-anchor="middle" fill="#262626" >5</text>
<line x1="634.60" y1="814.80" x2="634.60" y2="816.80" stroke="#222" stroke-width="0.9" />
<text x="634.60" y="830.70" font-size="10.5" text-anchor="middle" fill="#262626" >7</text>
<text x="597.90" y="846.90" font-size="13" text-anchor="middle" fill="#1a1a1a" >Enrichment Score</text>
<text x="598.00" y="519.60" font-size="13.1" text-anchor="middle" fill="#1a1a1a" >Bone marrow</text>
<text x="527.00" y="537.00" font-size="13.2" text-anchor="start" fill="#1a1a1a" >KEGG Pathways Top 20</text>
<text x="670.20" y="617.81" font-size="7.8" text-anchor="middle" fill="#262626" >p-value</text>
<rect x="657.00" y="625.30" width="8.30" height="40.50" fill="url(#pvg)" stroke="none" stroke-width="1" />
<text x="667.60" y="629.31" font-size="7.8" text-anchor="start" fill="#262626" >0.05</text>
<line x1="657.00" y1="626.50" x2="658.20" y2="626.50" stroke="#fff" stroke-width="0.5" />
<line x1="664.10" y1="626.50" x2="665.30" y2="626.50" stroke="#fff" stroke-width="0.5" />
<text x="667.60" y="635.51" font-size="7.8" text-anchor="start" fill="#262626" >0.04</text>
<line x1="657.00" y1="632.70" x2="658.20" y2="632.70" stroke="#fff" stroke-width="0.5" />
<line x1="664.10" y1="632.70" x2="665.30" y2="632.70" stroke="#fff" stroke-width="0.5" />
<text x="667.60" y="643.81" font-size="7.8" text-anchor="start" fill="#262626" >0.03</text>
<line x1="657.00" y1="641.00" x2="658.20" y2="641.00" stroke="#fff" stroke-width="0.5" />
<line x1="664.10" y1="641.00" x2="665.30" y2="641.00" stroke="#fff" stroke-width="0.5" />
<text x="667.60" y="650.61" font-size="7.8" text-anchor="start" fill="#262626" >0.02</text>
<line x1="657.00" y1="647.80" x2="658.20" y2="647.80" stroke="#fff" stroke-width="0.5" />
<line x1="664.10" y1="647.80" x2="665.30" y2="647.80" stroke="#fff" stroke-width="0.5" />
<text x="667.60" y="658.01" font-size="7.8" text-anchor="start" fill="#262626" >0.01</text>
<line x1="657.00" y1="655.20" x2="658.20" y2="655.20" stroke="#fff" stroke-width="0.5" />
<line x1="664.10" y1="655.20" x2="665.30" y2="655.20" stroke="#fff" stroke-width="0.5" />
<text x="667.60" y="666.51" font-size="7.8" text-anchor="start" fill="#262626" >0.00</text>
<text x="670.20" y="675.31" font-size="7.8" text-anchor="middle" fill="#262626" >Number</text>
<circle cx="665.00" cy="680.70" r="2.65" fill="#000" />
<text x="673.30" y="683.51" font-size="7.8" text-anchor="start" fill="#262626" >10</text>
<circle cx="665.00" cy="690.20" r="4.20" fill="#000" />
<text x="673.30" y="693.01" font-size="7.8" text-anchor="start" fill="#262626" >20</text>
<circle cx="665.00" cy="702.20" r="4.90" fill="#000" />
<text x="673.30" y="705.01" font-size="7.8" text-anchor="start" fill="#262626" >30</text>
<circle cx="665.00" cy="715.90" r="5.60" fill="#000" />
<text x="673.30" y="718.71" font-size="7.8" text-anchor="start" fill="#262626" >40</text>
<circle cx="665.00" cy="730.90" r="6.50" fill="#000" />
<text x="673.30" y="733.71" font-size="7.8" text-anchor="start" fill="#262626" >50</text>
</svg>
</body></html>
